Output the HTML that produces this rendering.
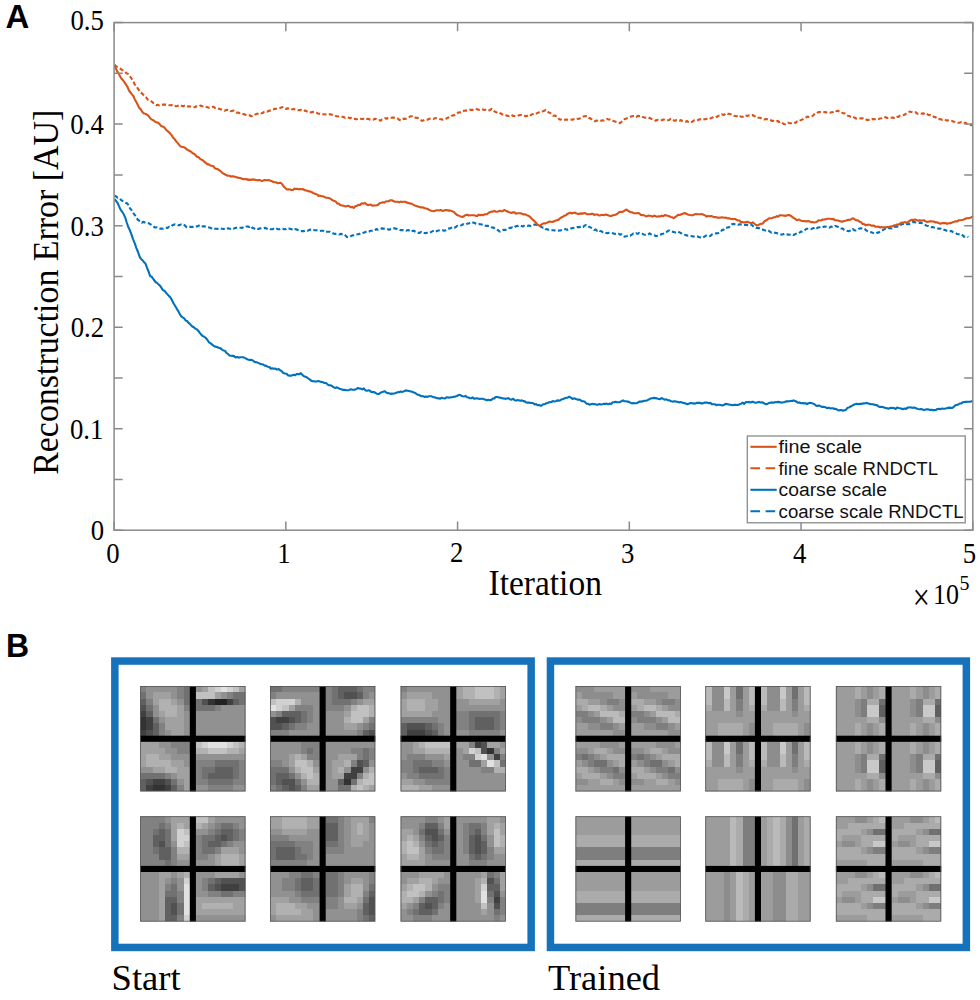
<!DOCTYPE html>
<html><head><meta charset="utf-8"><title>Figure</title>
<style>html,body{margin:0;padding:0;background:#fff;width:980px;height:1000px;overflow:hidden}svg{display:block}</style>
</head><body>
<svg width="980" height="1000" viewBox="0 0 980 1000"><defs><filter id="pblur" x="-5%" y="-5%" width="110%" height="110%"><feGaussianBlur stdDeviation="0.5"/></filter><clipPath id="cp0"><rect x="140.20" y="686.10" width="105.30" height="105.30"/></clipPath><clipPath id="cp1"><rect x="270.00" y="686.10" width="105.30" height="105.30"/></clipPath><clipPath id="cp2"><rect x="400.60" y="686.10" width="105.30" height="105.30"/></clipPath><clipPath id="cp3"><rect x="140.20" y="816.30" width="105.30" height="105.30"/></clipPath><clipPath id="cp4"><rect x="270.00" y="816.30" width="105.30" height="105.30"/></clipPath><clipPath id="cp5"><rect x="400.60" y="816.30" width="105.30" height="105.30"/></clipPath><clipPath id="cp6"><rect x="575.50" y="686.10" width="105.30" height="105.30"/></clipPath><clipPath id="cp7"><rect x="705.30" y="686.10" width="105.30" height="105.30"/></clipPath><clipPath id="cp8"><rect x="835.90" y="686.10" width="105.30" height="105.30"/></clipPath><clipPath id="cp9"><rect x="575.50" y="816.30" width="105.30" height="105.30"/></clipPath><clipPath id="cp10"><rect x="705.30" y="816.30" width="105.30" height="105.30"/></clipPath><clipPath id="cp11"><rect x="835.90" y="816.30" width="105.30" height="105.30"/></clipPath></defs><text transform="translate(5.60,27.60) scale(1.030,1.050)" font-family="Liberation Sans, sans-serif" font-weight="bold" font-size="32">A</text>
<text transform="translate(6.10,656.75) scale(1.000,1.050)" font-family="Liberation Sans, sans-serif" font-weight="bold" font-size="32">B</text>
<defs><clipPath id="pc"><rect x="114.1" y="22.6" width="859.7" height="507.6"/></clipPath></defs>
<g clip-path="url(#pc)" fill="none" stroke-width="2.1" stroke-linejoin="round">
<path d="M114.5,64.6 116.0,66.3 117.5,67.1 119.0,68.2 120.5,68.8 122.0,69.9 123.5,70.3 125.0,71.4 126.5,73.3 128.0,73.9 129.6,75.8 131.2,78.0 132.8,80.4 134.4,83.8 136.0,86.2 137.6,88.2 139.2,90.6 140.6,92.7 142.1,93.5 143.5,95.0 144.9,96.6 146.3,97.6 147.8,99.6 149.2,99.8 150.6,100.8 152.0,101.8 153.5,103.3 154.9,104.5 156.3,105.3 157.7,104.8 159.1,105.4 160.5,104.8 161.9,104.9 163.3,104.6 164.7,104.5 166.1,104.6 167.5,104.8 168.9,105.1 170.3,105.2 171.7,105.1 173.1,106.0 174.5,105.7 175.9,106.3 177.3,105.9 178.7,105.4 180.2,105.0 181.6,105.7 183.1,106.4 184.5,105.7 185.9,106.5 187.4,106.5 188.8,106.3 190.3,106.5 191.7,107.0 193.1,107.2 194.6,107.3 196.0,106.3 197.5,106.8 198.9,106.6 200.3,105.6 201.8,106.1 203.2,106.3 204.7,106.1 206.1,106.8 207.5,107.3 209.0,107.7 210.4,107.6 211.9,107.3 213.3,106.7 214.9,107.9 216.5,107.9 218.1,108.5 219.7,109.1 221.3,109.4 222.9,109.8 224.5,110.8 226.0,110.1 227.5,109.7 229.0,110.2 230.5,111.1 232.0,111.0 233.5,110.5 235.0,111.5 236.5,112.6 238.0,112.6 239.5,113.0 241.0,113.4 242.5,114.0 244.0,114.1 245.5,114.8 247.0,115.6 248.4,115.4 249.9,115.4 251.3,116.3 252.7,115.8 254.2,115.4 255.6,114.2 257.1,113.8 258.5,113.4 259.9,112.8 261.4,113.3 262.8,112.9 264.2,111.7 265.7,111.7 267.1,111.7 268.6,110.9 270.1,110.6 271.6,109.9 273.1,109.5 274.6,108.9 276.1,108.8 277.6,108.6 279.1,108.2 280.6,107.8 282.0,107.3 283.5,106.9 284.9,108.1 286.4,109.0 287.8,108.3 289.3,109.0 290.7,108.8 292.1,109.3 293.6,108.9 295.0,109.5 296.5,110.1 297.9,110.3 299.4,110.1 300.8,109.9 302.3,110.9 303.8,111.1 305.2,110.5 306.7,111.4 308.2,111.4 309.7,111.7 311.1,112.5 312.6,111.9 314.1,112.2 315.6,112.7 317.0,112.8 318.5,113.8 320.0,113.7 321.5,114.3 323.0,114.2 324.5,114.2 326.0,114.6 327.5,114.9 329.0,114.4 330.5,114.2 331.9,114.8 333.4,115.2 334.9,115.5 336.4,116.3 337.9,116.5 339.4,116.2 340.9,116.6 342.4,116.8 343.8,117.1 345.2,117.7 346.6,117.1 348.1,117.6 349.5,118.1 350.9,117.9 352.3,118.9 353.7,119.0 355.1,118.7 356.5,119.4 358.0,118.8 359.4,118.4 360.8,118.8 362.2,119.0 363.6,118.7 365.0,118.5 366.5,119.1 367.9,118.7 369.3,119.4 370.7,119.7 372.1,119.8 373.5,119.6 374.9,118.7 376.4,119.3 377.8,120.3 379.2,120.1 380.6,120.7 382.1,119.3 383.6,119.0 385.1,118.2 386.6,118.7 388.0,118.0 389.5,117.5 391.0,117.7 392.5,117.6 394.0,117.6 395.7,117.7 397.4,118.3 399.1,119.7 400.8,120.5 402.4,119.3 404.0,118.6 405.6,118.9 407.2,118.1 408.8,117.3 410.4,116.3 412.0,116.3 413.4,117.5 414.8,117.6 416.2,117.7 417.6,117.9 419.1,118.7 420.5,119.7 421.9,120.8 423.3,120.5 424.8,119.8 426.3,119.8 427.8,119.6 429.3,118.8 430.7,118.4 432.2,118.4 433.7,118.9 435.2,118.1 436.7,118.2 438.2,118.6 439.7,119.1 441.2,119.3 442.7,119.6 444.2,119.2 445.7,119.2 447.1,117.9 448.5,117.5 449.9,117.3 451.4,115.9 452.8,115.4 454.2,115.2 455.6,114.2 457.0,113.3 458.4,112.5 459.9,112.4 461.3,112.5 462.7,111.2 464.2,110.8 465.6,110.6 467.1,110.4 468.5,110.3 469.9,109.8 471.4,109.9 472.8,109.9 474.2,109.7 475.7,108.9 477.1,109.2 478.5,109.8 480.0,109.9 481.4,109.3 482.8,109.4 484.3,110.0 485.7,109.9 487.2,110.7 488.6,110.5 490.0,110.1 491.5,108.9 492.9,109.6 494.5,111.4 496.1,112.2 497.7,113.1 499.2,112.6 500.8,113.5 502.4,114.4 504.0,115.2 505.5,115.0 507.0,115.8 508.5,116.0 510.0,115.4 511.5,114.7 513.0,116.0 514.5,116.0 516.0,116.1 517.5,116.0 519.0,115.3 520.5,115.0 522.0,115.0 523.6,115.6 525.2,116.1 526.8,116.1 528.4,115.0 530.0,115.8 531.4,114.6 532.9,114.0 534.3,113.4 535.7,113.8 537.1,113.1 538.6,112.5 540.0,112.2 541.4,112.2 542.8,111.3 544.3,110.8 545.7,110.0 547.2,111.2 548.7,112.5 550.2,112.8 551.7,114.6 553.2,115.7 554.7,115.5 556.2,116.3 557.7,117.1 559.2,119.3 560.6,119.6 562.1,119.1 563.5,119.9 564.9,119.8 566.3,119.6 567.8,119.8 569.2,119.9 570.6,119.6 572.0,119.7 573.5,119.2 574.9,119.7 576.3,119.8 577.7,118.9 579.1,118.8 580.5,118.1 581.9,117.5 583.3,116.5 584.7,116.2 586.1,116.0 587.6,116.4 589.1,118.1 590.6,118.4 592.1,119.9 593.6,120.6 595.1,121.4 596.6,120.5 598.1,121.1 599.6,120.8 601.1,120.7 602.6,120.3 604.1,120.5 605.6,119.7 607.1,119.0 608.6,119.5 610.2,119.5 611.8,120.7 613.4,121.1 615.0,121.5 616.6,122.0 618.2,122.3 619.8,123.2 621.3,122.1 622.8,120.8 624.3,119.3 625.8,118.7 627.3,118.1 628.8,117.5 630.3,116.8 631.8,116.2 633.3,116.0 634.8,116.0 636.3,116.9 637.8,115.9 639.3,116.1 640.8,115.9 642.3,116.7 643.8,117.3 645.3,117.7 646.8,117.6 648.2,117.3 649.7,118.0 651.2,118.8 652.7,119.5 654.2,119.9 655.7,120.7 657.2,119.9 658.7,120.1 660.2,120.3 661.7,120.2 663.2,119.5 664.7,119.7 666.2,120.2 667.7,120.3 669.2,119.9 670.7,118.8 672.2,119.3 673.7,120.4 675.2,120.7 676.7,120.0 678.2,120.3 679.7,120.7 681.1,120.0 682.6,121.2 684.1,121.7 685.6,121.8 687.1,121.0 688.6,122.3 690.1,122.5 691.6,122.1 693.1,121.0 694.6,120.3 696.1,120.5 697.6,120.2 699.1,119.4 700.6,119.3 702.1,119.6 703.6,119.4 705.1,119.3 706.6,118.8 708.1,118.3 709.6,118.9 711.1,118.1 712.6,117.6 714.1,116.8 715.6,117.3 717.1,116.7 718.6,115.7 720.1,115.2 721.6,114.3 723.1,114.9 724.6,114.6 726.1,113.2 727.6,113.8 729.2,113.9 730.8,114.2 732.4,114.9 734.0,115.7 735.6,116.1 737.2,116.2 738.8,117.3 740.2,116.5 741.6,116.8 743.0,116.8 744.4,115.5 745.8,115.4 747.2,116.1 748.6,115.3 750.0,115.4 751.4,115.5 752.9,115.1 754.3,116.1 755.8,116.2 757.2,117.5 758.7,117.7 760.1,117.7 761.6,118.5 763.0,119.3 764.5,119.5 765.9,119.1 767.4,119.3 768.8,119.4 770.3,119.9 771.8,120.9 773.3,120.8 774.8,121.4 776.3,121.2 777.7,120.9 779.2,122.1 780.7,121.7 782.2,122.8 783.7,124.0 785.2,124.3 786.7,123.7 788.1,122.7 789.6,123.3 791.0,123.2 792.5,122.6 794.0,122.2 795.4,122.9 796.9,121.5 798.4,121.7 799.9,120.6 801.4,119.9 802.9,119.2 804.4,118.1 805.9,117.6 807.4,116.6 808.9,117.0 810.4,116.7 811.9,116.1 813.4,115.4 814.8,113.5 816.2,113.5 817.6,112.5 819.0,112.1 820.4,112.1 822.0,112.4 823.5,112.3 825.1,112.0 826.7,112.6 828.2,113.1 829.8,112.9 831.4,112.2 833.1,112.0 834.7,110.8 836.4,111.3 838.0,110.7 839.6,111.9 841.3,112.0 842.9,113.3 844.6,113.3 846.2,114.8 847.8,115.7 849.3,116.1 850.9,116.8 852.5,116.4 854.0,117.3 855.6,118.4 857.0,118.7 858.4,118.7 859.8,118.5 861.2,118.4 862.7,118.3 864.1,119.0 865.5,119.0 866.9,120.0 868.3,119.9 869.7,119.4 871.2,120.0 872.6,119.1 874.1,119.1 875.5,119.2 877.0,118.9 878.5,119.1 879.9,118.5 881.4,118.3 882.8,117.6 884.2,117.0 885.6,117.3 887.0,118.0 888.5,117.9 889.9,117.8 891.3,117.8 892.7,117.5 894.1,118.0 895.5,118.2 896.9,116.9 898.3,116.9 899.7,115.8 901.1,115.3 902.5,115.3 904.0,115.0 905.4,114.1 906.8,113.1 908.2,112.3 909.6,111.6 911.2,112.0 912.7,112.4 914.3,112.7 915.9,112.3 917.4,113.8 919.0,113.7 920.6,113.4 922.1,113.6 923.7,113.4 925.3,114.4 926.8,113.8 928.4,115.0 929.8,115.1 931.2,115.5 932.6,115.8 934.0,117.0 935.4,117.1 936.8,118.1 938.2,119.2 939.6,119.1 941.0,119.3 942.4,120.0 943.8,119.7 945.2,119.9 946.6,120.5 948.0,120.4 949.5,120.5 950.9,120.7 952.3,121.1 953.7,121.8 955.1,121.8 956.5,122.2 958.0,122.7 959.5,122.7 960.9,122.2 962.4,123.1 963.9,123.1 965.3,122.7 966.8,123.7 968.3,124.1 969.7,124.5 971.1,125.2 972.5,124.5" stroke="#D95319" stroke-dasharray="4.2 2.4"/>
<path d="M114.6,195.7 116.1,196.4 117.7,197.8 119.2,197.8 120.7,199.6 122.3,200.8 123.8,201.8 125.3,202.7 126.9,203.3 128.4,204.9 129.9,208.1 131.5,210.1 133.0,212.7 134.5,214.7 136.1,216.8 137.6,219.6 139.0,220.5 140.5,221.4 141.9,222.7 143.3,221.8 144.8,222.5 146.2,222.8 147.7,223.0 149.1,223.4 150.6,224.4 152.2,225.5 153.7,226.7 155.2,227.5 156.8,227.4 158.3,228.4 159.8,228.6 161.4,228.6 162.9,228.7 164.4,228.0 166.0,227.8 167.5,227.9 169.0,226.7 170.6,227.0 172.1,225.6 173.6,224.7 175.2,224.4 176.7,224.5 178.1,225.3 179.6,225.1 181.0,224.5 182.4,225.1 183.9,224.7 185.3,225.9 186.8,227.3 188.2,227.0 189.6,226.9 191.1,226.8 192.5,227.0 193.9,226.4 195.4,226.4 196.8,226.4 198.3,225.9 199.7,225.0 201.2,225.3 202.7,226.4 204.3,226.2 205.8,226.7 207.3,227.1 208.8,227.4 210.4,227.8 211.9,228.6 213.4,229.2 214.9,228.8 216.3,228.7 217.8,228.9 219.3,229.1 220.7,228.5 222.2,228.8 223.6,229.0 225.1,228.3 226.6,228.9 228.0,228.3 229.5,228.7 230.9,228.7 232.3,227.9 233.7,228.6 235.2,228.1 236.6,227.7 238.0,227.6 239.4,227.7 240.8,227.7 242.2,227.9 243.7,227.1 245.1,227.2 246.5,226.5 247.9,226.5 249.3,227.0 250.8,226.1 252.2,227.7 253.7,228.2 255.1,229.2 256.5,228.5 258.0,228.9 259.4,228.6 260.8,228.3 262.3,228.0 263.7,228.1 265.1,227.9 266.6,228.5 268.0,229.3 269.5,228.8 270.9,229.3 272.4,229.2 273.8,228.9 275.3,229.5 276.8,228.8 278.2,229.2 279.7,229.2 281.1,228.6 282.6,228.6 284.1,229.3 285.5,229.3 287.0,228.1 288.5,228.6 290.1,228.7 291.6,229.3 293.1,229.9 294.7,229.1 296.2,229.2 297.7,230.0 299.3,230.6 300.8,231.3 302.2,231.0 303.7,231.3 305.1,230.6 306.6,230.2 308.0,230.7 309.4,229.9 310.9,229.6 312.3,230.0 313.8,230.1 315.2,230.2 316.7,230.2 318.2,230.6 319.6,231.0 321.1,230.8 322.5,230.8 324.0,231.0 325.5,232.0 326.9,231.8 328.4,231.8 330.1,231.8 331.8,232.8 333.5,233.5 335.0,233.9 336.5,233.7 338.0,234.1 339.5,234.5 341.0,233.8 342.5,234.5 344.0,234.2 345.5,235.5 347.0,237.0 348.5,237.3 350.0,236.8 351.5,235.7 353.0,235.4 354.5,234.6 355.9,234.5 357.4,234.3 358.9,234.2 360.4,233.3 361.9,233.6 363.4,232.8 364.9,232.3 366.3,231.7 367.8,232.1 369.2,231.5 370.6,230.7 372.0,230.8 373.5,230.4 374.9,230.5 376.3,229.0 377.7,229.7 379.2,229.0 380.6,228.7 382.1,228.4 383.5,228.6 385.0,228.6 386.4,229.0 387.9,229.3 389.3,229.8 390.8,229.0 392.2,228.5 393.7,228.3 395.1,228.4 396.6,228.8 398.0,229.7 399.5,229.7 400.9,230.3 402.4,230.0 403.8,230.4 405.3,230.0 406.7,230.6 408.2,230.0 409.6,230.8 411.1,231.7 412.5,230.9 414.0,230.7 415.4,231.8 416.8,232.0 418.3,232.7 419.7,232.9 421.2,231.9 422.6,232.8 424.1,233.0 425.5,233.1 426.9,232.8 428.4,232.3 429.8,232.7 431.3,232.0 432.7,231.0 434.2,231.0 435.6,231.9 437.0,231.0 438.5,230.5 439.9,230.3 441.4,230.5 442.8,230.3 444.3,230.7 445.7,230.2 447.2,229.0 448.6,228.6 450.1,228.4 451.5,227.7 453.0,227.2 454.4,227.7 455.9,227.0 457.3,225.7 458.8,226.0 460.2,225.8 461.7,225.1 463.1,224.2 464.6,224.7 466.0,224.5 467.5,223.5 468.9,223.5 470.4,222.4 471.8,222.6 473.3,222.6 474.7,223.0 476.1,223.7 477.5,224.2 479.0,224.1 480.4,224.3 481.8,224.5 483.2,224.5 484.7,225.5 486.1,225.9 487.6,225.8 489.1,226.1 490.6,226.7 492.1,227.5 493.6,227.6 495.1,229.1 496.6,229.4 498.1,230.2 499.6,231.6 501.0,230.9 502.5,230.2 503.9,229.7 505.3,230.0 506.7,229.3 508.2,228.5 509.6,227.9 511.0,227.9 512.4,227.3 513.9,227.8 515.3,226.6 516.8,226.1 518.3,225.9 519.8,225.4 521.3,225.9 522.8,226.5 524.3,225.8 525.8,225.9 527.3,225.9 528.8,225.5 530.3,226.0 531.8,225.5 533.3,224.8 534.9,224.5 536.5,224.7 538.0,225.7 539.6,226.1 541.2,226.8 542.6,227.6 544.1,227.6 545.5,229.1 546.9,229.1 548.4,229.8 549.8,229.5 551.3,230.2 552.7,230.2 554.1,230.3 555.6,230.8 557.0,230.9 558.5,230.6 559.9,230.5 561.4,230.2 562.8,230.3 564.3,229.5 565.7,229.1 567.2,229.9 568.6,229.3 570.1,228.9 571.5,228.3 573.0,228.0 574.5,227.8 575.9,227.9 577.4,227.1 578.8,227.1 580.3,226.9 581.7,226.4 583.2,227.0 584.6,225.6 586.1,225.0 587.7,225.2 589.3,227.1 590.9,227.6 592.5,228.4 594.1,229.9 595.7,229.4 597.3,230.9 598.7,230.2 600.1,231.0 601.6,231.3 603.0,232.3 604.4,232.0 605.8,232.8 607.2,233.2 608.7,232.9 610.1,233.1 611.5,233.0 612.9,233.3 614.4,233.9 615.8,233.9 617.2,234.0 618.6,233.7 620.0,234.7 621.5,234.3 622.9,235.6 624.3,236.6 625.8,236.3 627.3,235.9 628.8,235.3 630.3,235.6 631.8,234.6 633.2,233.6 634.7,234.0 636.2,233.3 637.7,233.9 639.2,232.9 640.7,233.6 642.2,233.7 643.7,234.4 645.2,234.8 646.7,234.1 648.2,234.2 649.7,233.4 651.2,234.5 652.7,235.1 654.2,235.2 655.7,236.1 657.2,235.8 658.7,235.4 660.2,234.9 661.7,234.0 663.2,233.7 664.7,232.6 666.2,232.3 667.7,231.1 669.2,230.6 670.7,231.6 672.2,231.7 673.7,231.9 675.2,232.5 676.7,232.2 678.2,231.8 679.6,232.4 681.1,233.2 682.6,234.0 684.1,234.7 685.6,235.0 687.1,235.6 688.5,235.5 690.0,235.7 691.4,236.0 692.8,236.5 694.3,236.4 695.7,236.2 697.2,236.3 698.6,237.0 700.0,237.2 701.5,238.0 702.9,237.4 704.4,236.8 705.9,235.6 707.4,236.0 708.9,236.4 710.4,235.9 711.8,234.6 713.3,234.2 714.8,233.6 716.3,233.4 717.8,233.2 719.3,232.6 720.8,231.9 722.2,229.9 723.6,229.7 725.0,228.2 726.4,227.8 727.8,227.4 729.2,227.2 730.6,225.3 732.0,224.2 733.5,223.9 735.0,224.2 736.5,224.2 738.0,224.9 739.5,224.2 741.0,224.6 742.5,225.1 744.0,225.0 745.5,224.7 747.0,224.9 748.5,225.2 750.0,224.4 751.5,224.6 752.9,226.1 754.4,226.4 755.9,227.6 757.3,227.9 758.8,228.1 760.2,228.5 761.7,229.6 763.1,229.6 764.5,230.2 765.9,230.6 767.3,230.1 768.8,230.7 770.2,231.9 771.6,232.7 773.0,232.2 774.4,232.6 775.8,232.9 777.2,233.2 778.7,233.7 780.1,234.1 781.6,234.6 783.0,234.3 784.5,233.6 785.9,234.2 787.4,234.4 788.8,234.7 790.3,234.5 791.7,234.1 793.2,234.9 794.6,234.6 796.1,233.7 797.6,233.8 799.1,233.3 800.6,231.6 802.1,231.6 803.5,230.9 805.0,230.0 806.5,228.7 808.0,228.8 809.5,228.8 811.0,229.1 812.4,228.5 813.8,228.1 815.2,227.2 816.6,228.2 818.0,227.5 819.5,227.2 820.9,226.7 822.3,227.4 823.7,226.8 825.1,226.5 826.6,226.8 828.0,226.9 829.5,227.6 831.0,226.5 832.4,227.0 833.9,226.9 835.3,225.9 836.8,226.4 838.3,226.9 839.8,227.6 841.2,228.5 842.7,228.5 844.2,230.0 845.6,230.3 847.1,230.8 848.6,231.1 850.0,230.8 851.4,230.5 852.8,229.1 854.2,230.2 855.7,230.5 857.1,230.1 858.5,229.0 859.9,228.4 861.3,228.4 862.7,228.2 864.2,228.5 865.6,229.8 867.1,230.9 868.5,231.3 870.0,232.3 871.5,232.3 872.9,232.9 874.4,233.5 875.9,233.5 877.3,232.6 878.8,232.6 880.2,231.3 881.7,230.3 883.2,230.0 884.6,229.0 886.1,228.9 887.5,229.0 888.9,228.1 890.3,228.2 891.7,228.4 893.2,227.3 894.6,227.0 896.0,226.6 897.4,226.7 898.8,225.6 900.2,225.5 901.6,224.2 903.0,224.0 904.4,223.3 905.8,223.8 907.2,224.1 908.7,224.2 910.1,223.5 911.5,222.7 912.9,222.0 914.3,222.1 915.7,222.5 917.1,222.6 918.5,222.6 919.9,223.0 921.3,222.9 922.8,223.7 924.2,224.5 925.6,225.2 927.0,225.7 928.4,226.0 929.8,226.7 931.2,227.2 932.6,227.0 934.0,227.5 935.4,227.9 936.8,228.1 938.2,228.6 939.6,228.5 941.0,228.8 942.4,229.9 943.9,229.8 945.4,230.0 946.8,230.8 948.3,231.1 949.8,231.3 951.2,231.0 952.7,231.9 954.2,232.6 955.6,232.9 957.0,234.0 958.4,234.2 959.8,234.1 961.2,234.2 962.7,235.3 964.1,236.7 965.5,236.5 966.9,236.3 968.3,237.2" stroke="#0072BD" stroke-dasharray="4.2 2.4"/>
<path d="M114.6,199.2 116.1,201.0 117.7,203.2 119.2,206.6 120.7,209.8 122.3,212.0 123.8,214.3 125.3,217.8 126.9,223.0 128.4,227.3 129.9,230.3 131.5,234.6 133.0,239.1 134.7,243.1 136.4,248.1 138.2,252.5 139.9,257.3 141.3,259.2 142.8,260.6 144.2,262.3 145.6,263.9 147.1,268.0 148.7,271.8 150.2,276.2 151.6,276.6 153.0,278.7 154.4,280.5 155.8,282.3 157.3,283.1 158.7,284.6 160.1,285.8 161.5,287.9 162.9,290.1 164.4,290.7 166.0,292.7 167.5,294.4 169.0,296.0 170.6,297.7 172.1,300.5 173.6,303.5 175.2,306.0 176.7,308.6 178.2,311.0 179.8,314.0 181.3,316.4 182.7,317.4 184.2,318.3 185.6,320.5 187.1,321.0 188.5,322.8 189.9,323.9 191.4,325.7 192.8,326.8 194.2,327.5 195.7,328.9 197.1,329.5 198.6,331.2 200.0,333.2 201.4,334.9 202.9,336.1 204.3,336.7 205.8,338.0 207.3,339.7 208.9,342.3 210.4,343.1 211.9,344.4 213.4,345.6 215.1,346.6 216.9,347.0 218.6,347.8 220.3,348.1 221.8,349.4 223.4,350.5 224.9,350.7 226.4,352.9 228.0,354.0 229.5,355.4 231.0,355.8 232.6,355.9 234.1,356.1 235.6,357.4 237.2,356.9 238.7,357.6 240.2,357.3 241.8,357.3 243.3,357.3 244.8,357.9 246.4,358.8 247.9,359.6 249.4,360.0 251.0,359.9 252.5,360.2 254.0,361.5 255.6,362.3 257.1,362.4 258.6,363.1 260.2,363.9 261.7,364.2 263.2,364.6 264.8,365.6 266.3,365.9 267.8,366.8 269.4,367.0 270.9,368.7 272.4,368.3 274.0,368.8 275.5,368.6 277.0,369.6 278.6,368.9 280.1,370.3 281.7,371.1 283.3,373.0 285.0,373.5 286.6,373.8 288.2,375.5 289.6,375.6 291.0,375.8 292.4,375.2 293.8,374.8 295.2,375.3 296.6,374.0 298.0,374.1 299.4,374.2 300.8,373.2 302.3,374.7 303.9,376.2 305.4,376.8 306.9,377.4 308.5,378.7 310.0,379.6 311.5,380.9 313.1,381.2 314.6,381.4 316.4,381.5 318.2,381.0 320.0,381.6 321.5,381.9 323.0,382.3 324.5,383.0 326.0,383.0 327.5,384.3 329.0,385.3 330.5,385.3 332.0,386.0 333.5,387.1 334.9,387.9 336.4,387.4 337.8,387.7 339.3,388.7 340.7,389.0 342.2,389.6 343.6,389.9 345.0,389.9 346.5,390.2 347.9,390.3 349.4,389.9 350.8,389.2 352.3,389.8 353.7,389.7 355.1,389.6 356.6,388.9 358.0,388.0 359.5,388.6 360.9,388.6 362.4,389.4 363.8,388.4 365.3,390.2 366.8,390.8 368.3,390.4 369.8,390.5 371.2,392.0 372.7,392.1 374.2,392.1 375.7,393.0 377.2,394.0 378.7,394.0 380.1,393.1 381.6,392.2 383.1,391.8 384.6,391.2 386.1,392.3 387.5,393.1 389.0,393.3 390.5,393.9 391.9,393.6 393.4,393.7 394.9,393.3 396.4,392.8 397.9,392.1 399.3,392.2 400.8,391.5 402.5,391.9 404.2,391.1 405.8,390.4 407.5,390.7 409.2,391.0 410.7,391.4 412.2,391.8 413.8,392.5 415.3,393.0 416.8,394.3 418.3,394.8 419.8,395.3 421.4,396.3 422.9,396.0 424.4,397.0 425.8,396.4 427.3,396.9 428.7,396.3 430.2,396.3 431.6,396.3 433.1,397.2 434.5,397.2 435.9,397.9 437.4,398.2 438.8,398.4 440.3,398.6 441.7,397.7 443.2,398.3 444.6,398.5 446.1,397.6 447.7,397.3 449.2,397.7 450.7,397.2 452.2,397.3 453.8,396.7 455.3,396.6 456.8,396.0 458.3,395.2 459.9,394.8 461.4,395.8 462.8,396.2 464.2,396.5 465.7,395.9 467.1,397.2 468.5,397.5 469.9,398.2 471.3,398.2 472.8,397.4 474.2,398.8 475.6,398.4 477.0,398.3 478.5,398.7 479.9,398.9 481.3,398.8 482.7,398.7 484.1,399.3 485.6,399.7 487.0,400.4 488.4,399.8 489.8,400.2 491.3,399.9 492.7,398.6 494.2,398.5 495.6,397.0 497.1,397.0 498.5,397.3 500.0,397.7 501.4,397.9 502.9,398.4 504.4,398.5 505.8,398.9 507.3,398.3 508.8,398.4 510.2,399.5 511.7,399.6 513.2,398.8 514.7,400.2 516.1,400.6 517.6,400.0 519.1,400.4 520.5,400.7 522.0,400.4 523.4,401.1 524.8,401.4 526.2,402.5 527.6,402.6 529.0,402.5 530.5,402.9 531.9,403.0 533.3,403.2 534.7,404.5 536.1,404.1 537.5,405.3 538.9,405.0 540.3,405.6 541.7,405.6 543.1,404.3 544.5,404.3 545.9,403.4 547.3,403.1 548.7,402.6 550.1,402.1 551.5,402.0 552.9,401.1 554.3,401.5 555.7,401.3 557.2,400.4 558.7,400.6 560.2,400.4 561.7,399.2 563.2,399.1 564.7,398.2 566.2,397.8 567.7,397.6 569.2,396.7 570.9,397.6 572.5,398.9 574.2,398.3 575.9,398.9 577.4,399.6 578.9,399.6 580.4,400.1 581.9,401.2 583.4,401.3 584.9,401.8 586.4,403.6 587.9,403.7 589.4,404.6 590.8,404.4 592.3,403.8 593.7,404.2 595.2,404.1 596.6,404.7 598.1,404.6 599.5,404.0 600.9,404.5 602.4,404.2 603.8,403.8 605.3,404.1 606.7,403.6 608.2,404.2 609.6,403.6 611.1,404.1 612.6,402.3 614.1,402.3 615.6,401.8 617.0,402.3 618.5,402.2 620.0,402.2 621.5,401.2 623.0,400.4 624.5,401.3 626.0,401.3 627.5,401.6 629.0,401.9 630.5,402.8 632.0,403.4 633.5,403.1 635.0,403.2 636.5,403.2 638.0,402.5 639.4,401.6 640.9,401.6 642.3,401.4 643.8,400.9 645.2,400.7 646.6,400.7 648.1,399.8 649.5,399.1 651.0,398.4 652.4,398.2 653.9,397.9 655.4,398.1 657.0,398.4 658.5,399.0 660.1,399.1 661.6,398.0 663.2,398.9 664.7,399.7 666.3,399.3 667.8,400.2 669.5,400.4 671.2,401.2 673.0,401.6 674.7,401.2 676.1,401.6 677.6,401.7 679.0,402.4 680.5,402.0 681.9,402.4 683.4,403.0 684.8,403.1 686.2,403.9 687.7,404.2 689.1,403.6 690.6,403.1 692.0,403.2 693.5,403.4 695.1,403.6 696.6,402.9 698.2,402.9 699.7,402.8 701.3,403.4 702.8,403.4 704.4,402.6 705.9,402.5 707.4,402.6 708.9,403.2 710.4,402.9 711.8,404.1 713.3,404.3 714.8,404.3 716.3,405.1 717.8,404.8 719.2,404.8 720.7,405.0 722.2,405.5 723.6,405.1 725.1,404.1 726.5,403.9 728.0,404.3 729.5,404.7 730.9,404.8 732.4,405.3 733.9,404.9 735.3,404.8 736.8,405.0 738.2,404.9 739.7,404.2 741.2,403.6 742.6,402.6 744.1,403.9 745.9,402.1 747.6,402.2 749.0,401.9 750.5,402.4 751.9,401.9 753.4,401.9 754.8,402.7 756.2,402.7 757.7,402.3 759.1,401.9 760.6,402.6 762.0,402.2 763.5,403.0 764.9,403.8 766.3,404.3 767.8,403.7 769.2,402.8 770.6,402.7 772.0,402.4 773.5,402.8 774.9,402.1 776.3,402.2 777.8,401.9 779.2,402.1 780.6,402.4 782.1,402.6 783.5,402.2 784.9,402.0 786.3,401.2 787.8,401.4 789.2,401.2 790.7,401.0 792.2,400.9 793.7,400.4 795.1,401.0 796.6,401.7 798.1,402.8 799.6,402.4 801.1,403.3 802.6,403.1 804.1,403.4 805.5,403.2 807.0,404.0 808.5,403.2 810.0,402.9 811.5,403.0 813.0,403.6 814.5,404.3 815.9,405.6 817.4,405.9 818.9,405.4 820.4,406.1 821.8,406.9 823.2,406.9 824.6,407.0 826.0,407.5 827.5,408.2 828.9,407.6 830.3,408.4 831.7,408.3 833.1,408.3 834.5,409.0 835.9,408.8 837.4,409.9 838.8,410.5 840.2,410.1 841.6,410.0 843.0,410.8 844.5,410.3 846.0,409.7 847.5,407.8 849.0,407.4 850.6,406.5 852.1,405.7 853.6,404.8 855.1,404.2 856.6,403.8 858.1,404.2 859.6,403.7 861.0,404.1 862.5,403.6 864.0,403.4 865.5,403.2 866.9,402.9 868.4,403.4 869.8,403.9 871.2,404.2 872.6,404.3 874.1,404.6 875.5,405.1 876.9,405.1 878.4,406.4 879.8,407.0 881.2,406.7 882.7,407.0 884.1,407.5 885.5,408.0 886.9,408.1 888.4,408.8 889.8,408.1 891.3,407.8 892.8,408.0 894.3,408.1 895.7,409.0 897.2,407.6 898.7,408.0 900.2,408.2 901.7,408.9 903.2,409.1 904.7,408.6 906.1,408.9 907.6,407.6 909.1,407.5 910.6,407.3 912.1,407.9 913.6,407.5 915.1,407.8 916.6,408.6 918.1,409.0 919.6,409.3 921.0,409.1 922.5,409.4 924.0,410.1 925.5,409.5 927.0,409.4 928.5,409.4 930.0,409.9 931.5,409.9 933.0,410.1 934.5,410.1 936.0,409.9 937.4,409.0 938.9,408.9 940.4,409.1 941.9,408.5 943.4,408.7 944.9,408.6 946.4,408.3 947.8,407.9 949.3,407.6 950.8,407.9 952.3,407.9 953.8,406.9 955.3,405.3 956.8,404.9 958.2,404.5 959.7,403.5 961.2,403.4 962.7,402.3 964.2,402.0 965.7,401.9 967.2,401.8 968.6,401.8 970.1,401.7 971.6,401.2 973.1,401.6" stroke="#0072BD"/>
<path d="M114.5,65.7 116.0,68.8 117.4,71.7 118.9,73.9 120.3,76.7 121.8,79.1 123.2,80.5 124.7,82.6 126.1,84.8 127.6,87.1 129.0,90.5 130.5,92.5 131.9,94.4 133.4,96.0 134.8,99.4 136.3,102.1 137.7,104.7 139.2,107.9 140.6,109.1 142.0,111.3 143.4,113.2 144.8,113.6 146.2,114.2 147.6,115.1 149.0,116.5 150.4,118.5 151.9,119.6 153.4,120.2 154.9,121.6 156.4,122.2 157.9,122.6 159.4,123.9 160.9,125.7 162.4,126.5 163.9,127.0 165.4,128.8 166.9,130.6 168.4,131.7 170.0,133.3 171.6,135.1 173.2,137.7 174.8,139.3 176.4,141.6 178.0,143.4 179.6,145.4 181.1,146.8 182.5,147.0 184.0,147.2 185.4,148.1 186.9,149.4 188.3,150.3 189.8,151.0 191.2,151.8 192.7,153.2 194.1,153.8 195.6,155.3 197.0,156.8 198.5,157.1 199.9,158.7 201.4,159.6 202.8,160.3 204.3,161.8 205.8,162.9 207.3,164.1 208.8,164.4 210.3,165.4 211.8,165.8 213.3,166.1 214.8,168.2 216.2,168.8 217.7,169.1 219.2,170.1 220.7,171.3 222.2,172.8 223.7,173.7 225.2,174.5 226.7,175.4 228.1,175.7 229.5,175.7 230.9,176.6 232.3,176.2 233.7,176.4 235.1,176.8 236.5,177.4 237.9,177.6 239.4,178.0 240.8,178.1 242.2,178.9 243.6,179.1 245.0,179.3 246.4,178.9 247.8,179.9 249.2,179.6 250.6,179.9 252.1,179.4 253.5,179.6 254.9,179.6 256.3,180.2 257.8,180.1 259.2,180.1 260.6,180.3 262.0,181.1 263.5,180.4 264.9,180.1 266.3,180.2 267.8,180.1 269.2,180.2 270.6,180.8 272.0,181.2 273.5,182.0 274.9,182.3 276.3,182.3 277.7,183.3 279.2,183.0 280.6,182.8 282.3,184.3 284.0,186.8 285.6,188.2 287.3,189.6 288.7,189.2 290.2,189.6 291.6,190.0 293.0,189.9 294.4,188.6 295.9,189.1 297.3,188.7 298.7,189.2 300.1,189.0 301.6,189.2 303.0,189.1 304.4,190.0 305.8,190.5 307.2,190.6 308.7,191.4 310.1,191.4 311.5,191.9 312.9,192.9 314.3,193.4 315.8,193.9 317.2,194.6 318.6,196.0 320.0,195.6 321.4,196.2 322.9,196.2 324.3,196.9 325.7,197.7 327.1,197.8 328.6,198.0 330.0,198.4 331.5,199.5 332.9,200.4 334.4,200.9 335.8,201.7 337.3,203.5 338.7,203.6 340.2,205.0 341.7,205.5 343.2,205.6 344.7,206.2 346.2,206.4 347.7,205.7 349.2,206.2 350.7,207.3 352.2,206.9 353.7,207.9 355.3,206.3 356.9,205.8 358.5,204.8 360.1,204.9 361.7,203.3 363.3,203.8 364.9,202.9 366.4,204.3 367.9,205.1 369.4,204.8 370.9,204.6 372.4,205.8 373.9,205.4 375.4,205.5 376.9,205.3 378.4,204.5 379.9,203.1 381.4,202.7 382.9,202.2 384.3,202.6 385.8,201.5 387.3,201.2 388.8,201.3 390.3,200.2 391.8,200.3 393.3,201.0 394.8,201.7 396.3,201.7 397.8,201.8 399.3,202.4 400.8,201.6 402.3,202.0 403.8,201.8 405.3,201.8 406.8,202.6 408.3,202.9 409.8,203.4 411.3,203.6 412.8,204.4 414.3,205.3 415.8,205.9 417.3,206.2 418.8,206.7 420.3,207.4 421.8,207.3 423.3,207.5 424.8,208.2 426.2,208.5 427.7,209.0 429.2,209.9 430.7,210.5 432.2,211.0 433.6,211.3 435.1,210.7 436.5,210.2 437.9,210.3 439.4,210.5 440.8,209.9 442.3,210.9 443.7,210.8 445.1,210.1 446.6,210.1 448.0,210.6 449.5,210.4 451.0,210.8 452.5,211.4 454.0,212.0 455.4,213.6 456.9,214.9 458.4,215.4 459.9,216.1 461.4,216.7 462.8,216.9 464.3,215.8 465.7,215.1 467.2,214.7 468.6,215.5 470.1,215.3 471.5,215.3 472.9,215.2 474.4,215.3 475.8,215.9 477.3,216.0 478.7,214.6 480.2,215.3 481.6,214.8 483.0,215.3 484.4,214.4 485.8,214.2 487.2,214.1 488.6,212.8 490.0,212.2 491.4,211.6 492.9,211.6 494.3,210.8 495.7,211.7 497.1,211.7 498.5,211.3 499.9,210.8 501.3,211.3 502.7,211.2 504.1,209.9 505.6,210.7 507.1,211.2 508.6,212.0 510.1,212.5 511.6,213.0 513.0,212.3 514.5,212.4 516.0,213.7 517.5,213.3 519.0,213.2 520.5,213.2 522.0,213.8 523.6,214.4 525.2,214.3 526.8,215.2 528.4,215.7 530.0,216.8 531.5,218.4 533.0,219.9 534.5,221.1 536.0,222.8 537.5,224.6 539.0,225.5 540.5,225.4 542.0,224.1 543.5,223.4 545.0,223.4 546.5,222.9 548.0,222.2 549.5,221.5 551.0,221.7 552.5,222.0 554.0,221.2 555.5,220.7 557.0,220.1 558.5,219.9 560.0,218.3 561.5,217.3 563.0,216.7 564.4,215.7 565.9,215.2 567.4,213.9 568.9,213.2 570.4,212.7 571.8,213.5 573.2,213.0 574.6,212.5 576.0,213.3 577.4,213.7 578.8,214.1 580.2,213.6 581.6,213.4 583.1,213.6 584.5,213.1 585.9,213.6 587.3,214.3 588.7,214.3 590.1,214.2 591.5,213.9 592.9,213.7 594.3,214.9 595.8,214.5 597.2,214.5 598.6,215.2 600.0,215.5 601.5,214.9 602.9,215.0 604.3,215.1 605.7,214.6 607.2,214.9 608.6,215.4 610.1,216.0 611.6,215.9 613.1,215.3 614.6,214.9 616.1,214.5 617.5,213.6 619.0,212.2 620.5,211.9 622.0,212.0 623.5,211.3 625.0,210.4 626.5,209.5 627.9,210.6 629.4,211.5 630.8,212.3 632.3,212.4 633.7,213.2 635.2,213.3 636.6,213.3 638.0,213.1 639.5,213.5 640.9,214.9 642.4,215.1 643.8,215.3 645.3,215.9 646.7,216.4 648.2,215.6 649.7,215.7 651.2,216.0 652.7,216.6 654.2,215.6 655.7,216.3 657.2,216.7 658.7,216.2 660.2,216.5 661.7,215.6 663.2,216.3 664.7,215.1 666.2,215.4 667.7,215.8 669.2,216.2 670.7,217.0 672.2,217.3 673.7,218.2 675.2,217.0 676.7,216.1 678.2,214.7 679.7,215.1 681.2,214.3 682.7,213.7 684.2,213.1 685.7,213.4 687.2,214.3 688.7,214.7 690.1,215.0 691.6,215.2 693.1,215.2 694.6,214.3 696.1,214.0 697.6,214.2 699.1,214.2 700.6,214.3 702.1,214.1 703.6,214.8 705.1,215.4 706.6,216.6 708.1,216.0 709.6,216.2 711.1,216.0 712.6,216.4 714.1,217.1 715.6,217.0 717.1,217.6 718.6,217.5 720.1,217.7 721.6,217.3 723.0,217.5 724.5,217.8 726.0,217.6 727.5,218.4 729.0,218.2 730.5,218.8 732.0,219.1 733.5,219.0 735.0,219.0 736.5,219.8 738.0,220.5 739.5,220.5 741.0,222.2 742.5,222.0 744.0,222.4 745.5,222.4 747.0,221.8 748.5,222.3 750.0,222.8 751.4,223.2 752.8,222.4 754.2,223.5 755.6,224.7 757.0,225.2 758.4,225.2 759.8,224.2 761.3,223.7 762.7,223.7 764.1,221.7 765.5,220.7 766.9,220.0 768.3,218.7 769.7,218.2 771.2,218.3 772.6,217.9 774.0,217.2 775.4,217.3 776.8,216.1 778.2,216.8 779.7,215.3 781.2,215.2 782.7,215.5 784.2,215.6 785.7,215.9 787.2,215.3 788.7,214.9 790.3,215.5 792.0,216.6 793.6,218.0 795.3,218.9 796.9,220.2 798.3,219.6 799.7,219.8 801.1,220.7 802.5,221.0 804.0,221.1 805.4,221.2 806.8,221.4 808.2,220.9 809.6,221.4 811.0,222.2 812.5,222.1 814.0,222.5 815.5,222.2 817.0,221.7 818.5,220.3 819.9,220.5 821.4,220.3 822.9,219.5 824.4,219.4 825.9,219.1 827.4,218.7 828.9,218.8 830.4,218.8 831.9,219.2 833.4,218.9 834.9,220.1 836.4,220.2 837.9,220.5 839.4,220.9 840.9,221.4 842.4,221.7 843.9,221.0 845.5,220.7 847.0,220.1 848.6,219.9 850.2,219.8 851.7,218.8 853.3,218.3 854.9,219.5 856.4,220.4 858.0,220.3 859.6,221.7 861.1,222.3 862.7,223.9 864.1,224.1 865.6,225.2 867.0,224.9 868.5,224.7 869.9,224.8 871.3,225.6 872.8,225.5 874.2,225.7 875.6,226.8 877.1,226.7 878.5,226.6 880.0,227.5 881.4,227.1 882.8,227.5 884.2,227.2 885.6,227.3 887.0,227.0 888.5,227.1 889.9,226.7 891.3,226.4 892.7,226.3 894.1,225.3 895.5,225.4 897.0,224.5 898.5,224.6 900.0,223.6 901.5,222.6 903.0,223.0 904.4,222.1 905.9,222.6 907.4,222.4 908.9,221.3 910.4,220.3 911.9,219.8 913.4,220.1 914.9,219.4 916.4,219.9 917.9,220.7 919.4,220.4 920.9,220.6 922.4,220.5 923.9,220.2 925.4,221.3 926.9,221.9 928.4,221.7 929.8,221.3 931.3,221.4 932.7,221.5 934.2,221.6 935.6,222.5 937.0,222.3 938.5,223.0 939.9,223.6 941.3,223.4 942.8,223.0 944.2,223.1 945.7,223.0 947.1,223.9 948.5,223.2 950.0,223.1 951.4,222.9 952.9,222.1 954.3,221.7 955.8,221.2 957.2,221.4 958.7,220.3 960.1,220.2 961.6,220.0 963.0,219.7 964.5,219.3 965.9,218.4 967.3,218.2 968.7,218.1 970.2,217.8 971.6,217.3 973.0,216.1" stroke="#D95319"/>
</g>
<g fill="none" stroke="#8a8a8a" stroke-width="1.50">
<rect x="114.10" y="22.60" width="858.70" height="507.60"/>
<path d="M114.10,530.20h8.6 M972.80,530.20h-8.6 M114.10,479.44h8.6 M972.80,479.44h-8.6 M114.10,428.68h8.6 M972.80,428.68h-8.6 M114.10,377.92h8.6 M972.80,377.92h-8.6 M114.10,327.16h8.6 M972.80,327.16h-8.6 M114.10,276.40h8.6 M972.80,276.40h-8.6 M114.10,225.64h8.6 M972.80,225.64h-8.6 M114.10,174.88h8.6 M972.80,174.88h-8.6 M114.10,124.12h8.6 M972.80,124.12h-8.6 M114.10,73.36h8.6 M972.80,73.36h-8.6 M114.10,22.60h8.6 M972.80,22.60h-8.6 M114.10,530.20v-8.6 M114.10,22.60v8.6 M285.84,530.20v-8.6 M285.84,22.60v8.6 M457.58,530.20v-8.6 M457.58,22.60v8.6 M629.32,530.20v-8.6 M629.32,22.60v8.6 M801.06,530.20v-8.6 M801.06,22.60v8.6 M972.80,530.20v-8.6 M972.80,22.60v8.6"/>
</g>
<g fill="#000">
<text transform="translate(70.39,29.74) scale(0.955,1.055)" font-family="Liberation Serif, serif" font-weight="normal" font-size="28">0.5</text>
<text transform="translate(70.36,134.09) scale(0.955,1.055)" font-family="Liberation Serif, serif" font-weight="normal" font-size="28">0.4</text>
<text transform="translate(70.39,235.50) scale(0.955,1.055)" font-family="Liberation Serif, serif" font-weight="normal" font-size="28">0.3</text>
<text transform="translate(70.74,337.14) scale(0.955,1.055)" font-family="Liberation Serif, serif" font-weight="normal" font-size="28">0.2</text>
<text transform="translate(69.96,439.19) scale(0.955,1.055)" font-family="Liberation Serif, serif" font-weight="normal" font-size="28">0.1</text>
<text transform="translate(90.87,539.84) scale(0.955,1.055)" font-family="Liberation Serif, serif" font-weight="normal" font-size="28">0</text>
<text transform="translate(106.27,562.79) scale(0.955,1.055)" font-family="Liberation Serif, serif" font-weight="normal" font-size="28">0</text>
<text transform="translate(277.34,562.70) scale(0.955,1.055)" font-family="Liberation Serif, serif" font-weight="normal" font-size="28">1</text>
<text transform="translate(450.06,562.45) scale(0.955,1.055)" font-family="Liberation Serif, serif" font-weight="normal" font-size="28">2</text>
<text transform="translate(621.11,562.64) scale(0.955,1.055)" font-family="Liberation Serif, serif" font-weight="normal" font-size="28">3</text>
<text transform="translate(793.02,562.64) scale(0.955,1.055)" font-family="Liberation Serif, serif" font-weight="normal" font-size="28">4</text>
<text transform="translate(962.74,563.00) scale(0.955,1.055)" font-family="Liberation Serif, serif" font-weight="normal" font-size="28">5</text>
</g>
<text transform="translate(488.51,595.20) scale(0.985,1.032)" font-family="Liberation Serif, serif" font-weight="normal" font-size="34">Iteration</text>
<text transform="translate(912.73,609.66) scale(1.083,1.390)" font-family="Liberation Serif, serif" font-weight="normal" font-size="28">&#215;</text>
<text transform="translate(933.01,604.30) scale(0.929,1.022)" font-family="Liberation Serif, serif" font-weight="normal" font-size="28">10</text>
<text transform="translate(959.40,590.40) scale(1.000,1.021)" font-family="Liberation Serif, serif" font-weight="normal" font-size="20">5</text>
<text transform="translate(58,474.8) rotate(-90) scale(0.997,1.03)" font-family="Liberation Serif, serif" font-size="34">Reconstruction Error [AU]</text>
<rect x="747.3" y="436.0" width="217.9" height="86.8" fill="#fff" stroke="#8a8a8a" stroke-width="1.3"/>
<path d="M750.4,446.8h26.3" stroke="#D95319" stroke-width="2.1"/>
<text x="778.6" y="453.2" font-family="Liberation Sans, sans-serif" font-size="18" fill="#111" textLength="83.5" lengthAdjust="spacingAndGlyphs">fine scale</text>
<path d="M750.4,468.3h25" stroke="#D95319" stroke-width="2.1" stroke-dasharray="9.6 5.6"/>
<text x="778.6" y="474.7" font-family="Liberation Sans, sans-serif" font-size="18" fill="#111" textLength="159.5" lengthAdjust="spacingAndGlyphs">fine scale RNDCTL</text>
<path d="M750.4,489.8h26.3" stroke="#0072BD" stroke-width="2.1"/>
<text x="778.6" y="496.2" font-family="Liberation Sans, sans-serif" font-size="18" fill="#111" textLength="108.3" lengthAdjust="spacingAndGlyphs">coarse scale</text>
<path d="M750.4,511.3h25" stroke="#0072BD" stroke-width="2.1" stroke-dasharray="9.6 5.6"/>
<text x="778.6" y="517.7" font-family="Liberation Sans, sans-serif" font-size="18" fill="#111" textLength="185.0" lengthAdjust="spacingAndGlyphs">coarse scale RNDCTL</text>
<rect x="114.85" y="661.05" width="416.30" height="286.40" fill="none" stroke="#1772BC" stroke-width="7.5"/>
<rect x="550.45" y="661.05" width="415.90" height="286.40" fill="none" stroke="#1772BC" stroke-width="7.5"/>
<g clip-path="url(#cp0)"><g filter="url(#pblur)"><rect x="137.20" y="683.10" width="111.30" height="111.30" fill="#919191"/><g shape-rendering="crispEdges"><path fill="#212121" d="M214.5 698.5h6.25v6.25h-6.25zM220.7 698.5h6.25v6.25h-6.25z"/><path fill="#313131" d="M140.2 717.1h6.25v6.25h-6.25zM140.2 723.3h6.25v6.25h-6.25zM208.3 698.5h6.25v6.25h-6.25zM152.6 785.2h6.25v6.25h-6.25zM158.8 785.2h6.25v6.25h-6.25z"/><path fill="#414141" d="M140.2 710.9h6.25v6.25h-6.25zM146.4 717.1h6.25v6.25h-6.25zM146.4 723.3h6.25v6.25h-6.25zM140.2 729.5h6.25v6.25h-6.25zM226.9 698.5h6.25v6.25h-6.25zM152.6 779.0h6.25v6.25h-6.25zM158.8 779.0h6.25v6.25h-6.25zM146.4 785.2h6.25v6.25h-6.25zM165.0 785.2h6.25v6.25h-6.25z"/><path fill="#515151" d="M140.2 704.7h6.25v6.25h-6.25zM146.4 729.5h6.25v6.25h-6.25zM202.1 698.5h6.25v6.25h-6.25zM146.4 779.0h6.25v6.25h-6.25zM165.0 779.0h6.25v6.25h-6.25z"/><path fill="#616161" d="M140.2 698.5h6.25v6.25h-6.25zM146.4 710.9h6.25v6.25h-6.25zM152.6 723.3h6.25v6.25h-6.25zM152.6 729.5h6.25v6.25h-6.25zM233.1 698.5h6.25v6.25h-6.25zM140.2 779.0h6.25v6.25h-6.25zM140.2 785.2h6.25v6.25h-6.25zM171.2 785.2h6.25v6.25h-6.25zM214.5 766.6h6.25v6.25h-6.25zM220.7 766.6h6.25v6.25h-6.25zM226.9 766.6h6.25v6.25h-6.25zM208.3 772.8h6.25v6.25h-6.25zM214.5 772.8h6.25v6.25h-6.25zM220.7 772.8h6.25v6.25h-6.25zM226.9 772.8h6.25v6.25h-6.25z"/><path fill="#717171" d="M183.6 686.1h6.25v6.25h-6.25zM140.2 692.3h6.25v6.25h-6.25zM183.6 692.3h6.25v6.25h-6.25zM183.6 698.5h6.25v6.25h-6.25zM146.4 704.7h6.25v6.25h-6.25zM152.6 717.1h6.25v6.25h-6.25zM233.1 692.3h6.25v6.25h-6.25zM239.3 692.3h6.25v6.25h-6.25zM195.9 698.5h6.25v6.25h-6.25zM239.3 698.5h6.25v6.25h-6.25zM195.9 704.7h6.25v6.25h-6.25zM202.1 704.7h6.25v6.25h-6.25zM208.3 704.7h6.25v6.25h-6.25zM140.2 772.8h6.25v6.25h-6.25zM146.4 772.8h6.25v6.25h-6.25zM152.6 772.8h6.25v6.25h-6.25zM158.8 772.8h6.25v6.25h-6.25zM171.2 779.0h6.25v6.25h-6.25zM214.5 760.4h6.25v6.25h-6.25zM220.7 760.4h6.25v6.25h-6.25zM226.9 760.4h6.25v6.25h-6.25zM233.1 760.4h6.25v6.25h-6.25zM202.1 766.6h6.25v6.25h-6.25zM208.3 766.6h6.25v6.25h-6.25zM233.1 766.6h6.25v6.25h-6.25zM202.1 772.8h6.25v6.25h-6.25zM233.1 772.8h6.25v6.25h-6.25zM208.3 779.0h6.25v6.25h-6.25zM214.5 779.0h6.25v6.25h-6.25zM220.7 779.0h6.25v6.25h-6.25zM226.9 779.0h6.25v6.25h-6.25z"/><path fill="#818181" d="M140.2 686.1h6.25v6.25h-6.25zM177.4 686.1h6.25v6.25h-6.25zM177.4 692.3h6.25v6.25h-6.25zM146.4 698.5h6.25v6.25h-6.25zM183.6 704.7h6.25v6.25h-6.25zM158.8 723.3h6.25v6.25h-6.25zM158.8 729.5h6.25v6.25h-6.25zM226.9 692.3h6.25v6.25h-6.25zM214.5 704.7h6.25v6.25h-6.25zM171.2 741.8h6.25v6.25h-6.25zM177.4 741.8h6.25v6.25h-6.25zM183.6 741.8h6.25v6.25h-6.25zM177.4 748.0h6.25v6.25h-6.25zM183.6 748.0h6.25v6.25h-6.25zM165.0 772.8h6.25v6.25h-6.25zM177.4 785.2h6.25v6.25h-6.25zM195.9 760.4h6.25v6.25h-6.25zM202.1 760.4h6.25v6.25h-6.25zM208.3 760.4h6.25v6.25h-6.25zM239.3 760.4h6.25v6.25h-6.25zM195.9 766.6h6.25v6.25h-6.25zM239.3 766.6h6.25v6.25h-6.25zM195.9 772.8h6.25v6.25h-6.25zM239.3 772.8h6.25v6.25h-6.25zM195.9 779.0h6.25v6.25h-6.25zM202.1 779.0h6.25v6.25h-6.25zM233.1 779.0h6.25v6.25h-6.25zM239.3 779.0h6.25v6.25h-6.25zM208.3 785.2h6.25v6.25h-6.25zM214.5 785.2h6.25v6.25h-6.25zM220.7 785.2h6.25v6.25h-6.25zM226.9 785.2h6.25v6.25h-6.25z"/><path fill="#919191" d="M146.4 686.1h6.25v6.25h-6.25zM152.6 686.1h6.25v6.25h-6.25zM158.8 686.1h6.25v6.25h-6.25zM165.0 686.1h6.25v6.25h-6.25zM171.2 686.1h6.25v6.25h-6.25zM146.4 692.3h6.25v6.25h-6.25zM171.2 692.3h6.25v6.25h-6.25zM177.4 698.5h6.25v6.25h-6.25zM152.6 704.7h6.25v6.25h-6.25zM152.6 710.9h6.25v6.25h-6.25zM183.6 710.9h6.25v6.25h-6.25zM158.8 717.1h6.25v6.25h-6.25zM183.6 717.1h6.25v6.25h-6.25zM183.6 723.3h6.25v6.25h-6.25zM165.0 729.5h6.25v6.25h-6.25zM183.6 729.5h6.25v6.25h-6.25zM195.9 686.1h6.25v6.25h-6.25zM220.7 692.3h6.25v6.25h-6.25zM220.7 704.7h6.25v6.25h-6.25zM226.9 704.7h6.25v6.25h-6.25zM233.1 704.7h6.25v6.25h-6.25zM239.3 704.7h6.25v6.25h-6.25zM195.9 710.9h6.25v6.25h-6.25zM202.1 710.9h6.25v6.25h-6.25zM208.3 710.9h6.25v6.25h-6.25zM214.5 710.9h6.25v6.25h-6.25zM220.7 710.9h6.25v6.25h-6.25zM226.9 710.9h6.25v6.25h-6.25zM233.1 710.9h6.25v6.25h-6.25zM239.3 710.9h6.25v6.25h-6.25zM195.9 717.1h6.25v6.25h-6.25zM202.1 717.1h6.25v6.25h-6.25zM208.3 717.1h6.25v6.25h-6.25zM214.5 717.1h6.25v6.25h-6.25zM220.7 717.1h6.25v6.25h-6.25zM226.9 717.1h6.25v6.25h-6.25zM233.1 717.1h6.25v6.25h-6.25zM239.3 717.1h6.25v6.25h-6.25zM195.9 723.3h6.25v6.25h-6.25zM202.1 723.3h6.25v6.25h-6.25zM208.3 723.3h6.25v6.25h-6.25zM214.5 723.3h6.25v6.25h-6.25zM220.7 723.3h6.25v6.25h-6.25zM226.9 723.3h6.25v6.25h-6.25zM233.1 723.3h6.25v6.25h-6.25zM239.3 723.3h6.25v6.25h-6.25zM195.9 729.5h6.25v6.25h-6.25zM202.1 729.5h6.25v6.25h-6.25zM208.3 729.5h6.25v6.25h-6.25zM214.5 729.5h6.25v6.25h-6.25zM220.7 729.5h6.25v6.25h-6.25zM226.9 729.5h6.25v6.25h-6.25zM233.1 729.5h6.25v6.25h-6.25zM239.3 729.5h6.25v6.25h-6.25zM158.8 741.8h6.25v6.25h-6.25zM165.0 741.8h6.25v6.25h-6.25zM165.0 748.0h6.25v6.25h-6.25zM171.2 748.0h6.25v6.25h-6.25zM171.2 754.2h6.25v6.25h-6.25zM177.4 754.2h6.25v6.25h-6.25zM183.6 754.2h6.25v6.25h-6.25zM183.6 760.4h6.25v6.25h-6.25zM140.2 766.6h6.25v6.25h-6.25zM146.4 766.6h6.25v6.25h-6.25zM171.2 772.8h6.25v6.25h-6.25zM177.4 779.0h6.25v6.25h-6.25zM195.9 754.2h6.25v6.25h-6.25zM202.1 754.2h6.25v6.25h-6.25zM208.3 754.2h6.25v6.25h-6.25zM214.5 754.2h6.25v6.25h-6.25zM220.7 754.2h6.25v6.25h-6.25zM226.9 754.2h6.25v6.25h-6.25zM233.1 754.2h6.25v6.25h-6.25zM239.3 754.2h6.25v6.25h-6.25zM195.9 785.2h6.25v6.25h-6.25zM202.1 785.2h6.25v6.25h-6.25zM233.1 785.2h6.25v6.25h-6.25zM239.3 785.2h6.25v6.25h-6.25z"/><path fill="#a1a1a1" d="M152.6 692.3h6.25v6.25h-6.25zM158.8 692.3h6.25v6.25h-6.25zM165.0 692.3h6.25v6.25h-6.25zM152.6 698.5h6.25v6.25h-6.25zM171.2 698.5h6.25v6.25h-6.25zM177.4 704.7h6.25v6.25h-6.25zM158.8 710.9h6.25v6.25h-6.25zM177.4 710.9h6.25v6.25h-6.25zM165.0 717.1h6.25v6.25h-6.25zM171.2 717.1h6.25v6.25h-6.25zM177.4 717.1h6.25v6.25h-6.25zM165.0 723.3h6.25v6.25h-6.25zM171.2 723.3h6.25v6.25h-6.25zM177.4 723.3h6.25v6.25h-6.25zM171.2 729.5h6.25v6.25h-6.25zM177.4 729.5h6.25v6.25h-6.25zM202.1 686.1h6.25v6.25h-6.25zM239.3 686.1h6.25v6.25h-6.25zM214.5 692.3h6.25v6.25h-6.25zM140.2 741.8h6.25v6.25h-6.25zM146.4 741.8h6.25v6.25h-6.25zM152.6 741.8h6.25v6.25h-6.25zM140.2 748.0h6.25v6.25h-6.25zM146.4 748.0h6.25v6.25h-6.25zM152.6 748.0h6.25v6.25h-6.25zM158.8 748.0h6.25v6.25h-6.25zM140.2 754.2h6.25v6.25h-6.25zM158.8 754.2h6.25v6.25h-6.25zM165.0 754.2h6.25v6.25h-6.25zM140.2 760.4h6.25v6.25h-6.25zM171.2 760.4h6.25v6.25h-6.25zM177.4 760.4h6.25v6.25h-6.25zM152.6 766.6h6.25v6.25h-6.25zM158.8 766.6h6.25v6.25h-6.25zM177.4 766.6h6.25v6.25h-6.25zM183.6 766.6h6.25v6.25h-6.25zM177.4 772.8h6.25v6.25h-6.25zM183.6 772.8h6.25v6.25h-6.25zM183.6 779.0h6.25v6.25h-6.25zM183.6 785.2h6.25v6.25h-6.25zM239.3 748.0h6.25v6.25h-6.25z"/><path fill="#b1b1b1" d="M158.8 698.5h6.25v6.25h-6.25zM165.0 698.5h6.25v6.25h-6.25zM158.8 704.7h6.25v6.25h-6.25zM165.0 704.7h6.25v6.25h-6.25zM171.2 704.7h6.25v6.25h-6.25zM165.0 710.9h6.25v6.25h-6.25zM171.2 710.9h6.25v6.25h-6.25zM146.4 754.2h6.25v6.25h-6.25zM152.6 754.2h6.25v6.25h-6.25zM146.4 760.4h6.25v6.25h-6.25zM152.6 760.4h6.25v6.25h-6.25zM158.8 760.4h6.25v6.25h-6.25zM165.0 760.4h6.25v6.25h-6.25zM165.0 766.6h6.25v6.25h-6.25zM171.2 766.6h6.25v6.25h-6.25zM239.3 741.8h6.25v6.25h-6.25zM195.9 748.0h6.25v6.25h-6.25zM202.1 748.0h6.25v6.25h-6.25zM226.9 748.0h6.25v6.25h-6.25zM233.1 748.0h6.25v6.25h-6.25z"/><path fill="#c1c1c1" d="M208.3 686.1h6.25v6.25h-6.25zM233.1 686.1h6.25v6.25h-6.25zM195.9 692.3h6.25v6.25h-6.25zM202.1 692.3h6.25v6.25h-6.25zM208.3 692.3h6.25v6.25h-6.25zM195.9 741.8h6.25v6.25h-6.25zM233.1 741.8h6.25v6.25h-6.25zM208.3 748.0h6.25v6.25h-6.25zM214.5 748.0h6.25v6.25h-6.25zM220.7 748.0h6.25v6.25h-6.25z"/><path fill="#d1d1d1" d="M214.5 686.1h6.25v6.25h-6.25zM226.9 686.1h6.25v6.25h-6.25zM202.1 741.8h6.25v6.25h-6.25zM226.9 741.8h6.25v6.25h-6.25z"/><path fill="#e1e1e1" d="M220.7 686.1h6.25v6.25h-6.25zM208.3 741.8h6.25v6.25h-6.25zM214.5 741.8h6.25v6.25h-6.25zM220.7 741.8h6.25v6.25h-6.25z"/></g></g></g><rect x="189.80" y="686.10" width="6.10" height="105.30" fill="#000"/><rect x="140.20" y="735.70" width="105.30" height="6.10" fill="#000"/><rect x="140.60" y="686.50" width="104.50" height="104.50" fill="none" stroke="#555" stroke-width="0.8"/>
<g clip-path="url(#cp1)"><g filter="url(#pblur)"><rect x="267.00" y="683.10" width="111.30" height="111.30" fill="#919191"/><g shape-rendering="crispEdges"><path fill="#313131" d="M344.3 779.0h6.25v6.25h-6.25z"/><path fill="#414141" d="M276.2 717.1h6.25v6.25h-6.25zM282.4 717.1h6.25v6.25h-6.25zM350.5 766.6h6.25v6.25h-6.25zM356.7 766.6h6.25v6.25h-6.25zM344.3 772.8h6.25v6.25h-6.25zM350.5 772.8h6.25v6.25h-6.25z"/><path fill="#515151" d="M270.0 717.1h6.25v6.25h-6.25zM288.6 717.1h6.25v6.25h-6.25zM270.0 723.3h6.25v6.25h-6.25zM276.2 723.3h6.25v6.25h-6.25zM344.3 692.3h6.25v6.25h-6.25zM350.5 692.3h6.25v6.25h-6.25zM369.1 729.5h6.25v6.25h-6.25zM282.4 779.0h6.25v6.25h-6.25zM288.6 779.0h6.25v6.25h-6.25zM288.6 785.2h6.25v6.25h-6.25zM356.7 760.4h6.25v6.25h-6.25z"/><path fill="#616161" d="M282.4 710.9h6.25v6.25h-6.25zM288.6 710.9h6.25v6.25h-6.25zM294.8 710.9h6.25v6.25h-6.25zM294.8 717.1h6.25v6.25h-6.25zM282.4 723.3h6.25v6.25h-6.25zM338.1 686.1h6.25v6.25h-6.25zM344.3 686.1h6.25v6.25h-6.25zM350.5 686.1h6.25v6.25h-6.25zM338.1 692.3h6.25v6.25h-6.25zM356.7 692.3h6.25v6.25h-6.25zM362.9 729.5h6.25v6.25h-6.25zM276.2 772.8h6.25v6.25h-6.25zM282.4 772.8h6.25v6.25h-6.25zM276.2 779.0h6.25v6.25h-6.25zM282.4 785.2h6.25v6.25h-6.25zM294.8 785.2h6.25v6.25h-6.25zM362.9 760.4h6.25v6.25h-6.25zM338.1 779.0h6.25v6.25h-6.25z"/><path fill="#717171" d="M270.0 686.1h6.25v6.25h-6.25zM276.2 686.1h6.25v6.25h-6.25zM301.0 710.9h6.25v6.25h-6.25zM301.0 717.1h6.25v6.25h-6.25zM288.6 723.3h6.25v6.25h-6.25zM331.9 686.1h6.25v6.25h-6.25zM356.7 686.1h6.25v6.25h-6.25zM331.9 692.3h6.25v6.25h-6.25zM331.9 698.5h6.25v6.25h-6.25zM338.1 698.5h6.25v6.25h-6.25zM344.3 698.5h6.25v6.25h-6.25zM369.1 723.3h6.25v6.25h-6.25zM307.2 748.0h6.25v6.25h-6.25zM270.0 766.6h6.25v6.25h-6.25zM276.2 766.6h6.25v6.25h-6.25zM282.4 766.6h6.25v6.25h-6.25zM270.0 772.8h6.25v6.25h-6.25zM288.6 772.8h6.25v6.25h-6.25zM270.0 779.0h6.25v6.25h-6.25zM294.8 779.0h6.25v6.25h-6.25zM276.2 785.2h6.25v6.25h-6.25zM362.9 748.0h6.25v6.25h-6.25zM362.9 754.2h6.25v6.25h-6.25zM350.5 779.0h6.25v6.25h-6.25zM338.1 785.2h6.25v6.25h-6.25zM344.3 785.2h6.25v6.25h-6.25z"/><path fill="#818181" d="M282.4 686.1h6.25v6.25h-6.25zM288.6 686.1h6.25v6.25h-6.25zM294.8 686.1h6.25v6.25h-6.25zM301.0 686.1h6.25v6.25h-6.25zM307.2 686.1h6.25v6.25h-6.25zM313.4 686.1h6.25v6.25h-6.25zM270.0 692.3h6.25v6.25h-6.25zM294.8 704.7h6.25v6.25h-6.25zM301.0 704.7h6.25v6.25h-6.25zM307.2 704.7h6.25v6.25h-6.25zM276.2 710.9h6.25v6.25h-6.25zM307.2 710.9h6.25v6.25h-6.25zM307.2 717.1h6.25v6.25h-6.25zM294.8 723.3h6.25v6.25h-6.25zM301.0 723.3h6.25v6.25h-6.25zM270.0 729.5h6.25v6.25h-6.25zM276.2 729.5h6.25v6.25h-6.25zM282.4 729.5h6.25v6.25h-6.25zM325.7 686.1h6.25v6.25h-6.25zM362.9 686.1h6.25v6.25h-6.25zM369.1 686.1h6.25v6.25h-6.25zM325.7 692.3h6.25v6.25h-6.25zM362.9 692.3h6.25v6.25h-6.25zM325.7 698.5h6.25v6.25h-6.25zM350.5 698.5h6.25v6.25h-6.25zM325.7 704.7h6.25v6.25h-6.25zM331.9 704.7h6.25v6.25h-6.25zM338.1 704.7h6.25v6.25h-6.25zM369.1 717.1h6.25v6.25h-6.25zM362.9 723.3h6.25v6.25h-6.25zM356.7 729.5h6.25v6.25h-6.25zM301.0 741.8h6.25v6.25h-6.25zM307.2 741.8h6.25v6.25h-6.25zM313.4 741.8h6.25v6.25h-6.25zM301.0 748.0h6.25v6.25h-6.25zM313.4 748.0h6.25v6.25h-6.25zM307.2 754.2h6.25v6.25h-6.25zM313.4 754.2h6.25v6.25h-6.25zM270.0 760.4h6.25v6.25h-6.25zM276.2 760.4h6.25v6.25h-6.25zM270.0 785.2h6.25v6.25h-6.25zM301.0 785.2h6.25v6.25h-6.25zM350.5 748.0h6.25v6.25h-6.25zM356.7 748.0h6.25v6.25h-6.25zM369.1 748.0h6.25v6.25h-6.25zM356.7 754.2h6.25v6.25h-6.25zM369.1 754.2h6.25v6.25h-6.25zM350.5 760.4h6.25v6.25h-6.25zM356.7 772.8h6.25v6.25h-6.25z"/><path fill="#919191" d="M276.2 692.3h6.25v6.25h-6.25zM282.4 692.3h6.25v6.25h-6.25zM288.6 692.3h6.25v6.25h-6.25zM294.8 692.3h6.25v6.25h-6.25zM301.0 692.3h6.25v6.25h-6.25zM307.2 692.3h6.25v6.25h-6.25zM313.4 692.3h6.25v6.25h-6.25zM301.0 698.5h6.25v6.25h-6.25zM307.2 698.5h6.25v6.25h-6.25zM313.4 698.5h6.25v6.25h-6.25zM313.4 704.7h6.25v6.25h-6.25zM270.0 710.9h6.25v6.25h-6.25zM313.4 710.9h6.25v6.25h-6.25zM313.4 717.1h6.25v6.25h-6.25zM307.2 723.3h6.25v6.25h-6.25zM313.4 723.3h6.25v6.25h-6.25zM288.6 729.5h6.25v6.25h-6.25zM294.8 729.5h6.25v6.25h-6.25zM301.0 729.5h6.25v6.25h-6.25zM307.2 729.5h6.25v6.25h-6.25zM313.4 729.5h6.25v6.25h-6.25zM369.1 692.3h6.25v6.25h-6.25zM356.7 698.5h6.25v6.25h-6.25zM344.3 704.7h6.25v6.25h-6.25zM325.7 710.9h6.25v6.25h-6.25zM331.9 710.9h6.25v6.25h-6.25zM338.1 710.9h6.25v6.25h-6.25zM325.7 717.1h6.25v6.25h-6.25zM331.9 717.1h6.25v6.25h-6.25zM338.1 717.1h6.25v6.25h-6.25zM325.7 723.3h6.25v6.25h-6.25zM331.9 723.3h6.25v6.25h-6.25zM338.1 723.3h6.25v6.25h-6.25zM356.7 723.3h6.25v6.25h-6.25zM325.7 729.5h6.25v6.25h-6.25zM331.9 729.5h6.25v6.25h-6.25zM338.1 729.5h6.25v6.25h-6.25zM344.3 729.5h6.25v6.25h-6.25zM350.5 729.5h6.25v6.25h-6.25zM270.0 741.8h6.25v6.25h-6.25zM276.2 741.8h6.25v6.25h-6.25zM282.4 741.8h6.25v6.25h-6.25zM288.6 741.8h6.25v6.25h-6.25zM294.8 741.8h6.25v6.25h-6.25zM270.0 748.0h6.25v6.25h-6.25zM276.2 748.0h6.25v6.25h-6.25zM282.4 748.0h6.25v6.25h-6.25zM288.6 748.0h6.25v6.25h-6.25zM294.8 748.0h6.25v6.25h-6.25zM270.0 754.2h6.25v6.25h-6.25zM276.2 754.2h6.25v6.25h-6.25zM282.4 754.2h6.25v6.25h-6.25zM282.4 760.4h6.25v6.25h-6.25zM313.4 760.4h6.25v6.25h-6.25zM288.6 766.6h6.25v6.25h-6.25zM294.8 772.8h6.25v6.25h-6.25zM301.0 779.0h6.25v6.25h-6.25zM325.7 741.8h6.25v6.25h-6.25zM331.9 741.8h6.25v6.25h-6.25zM338.1 741.8h6.25v6.25h-6.25zM344.3 741.8h6.25v6.25h-6.25zM350.5 741.8h6.25v6.25h-6.25zM356.7 741.8h6.25v6.25h-6.25zM362.9 741.8h6.25v6.25h-6.25zM369.1 741.8h6.25v6.25h-6.25zM325.7 748.0h6.25v6.25h-6.25zM331.9 748.0h6.25v6.25h-6.25zM338.1 748.0h6.25v6.25h-6.25zM344.3 748.0h6.25v6.25h-6.25zM325.7 754.2h6.25v6.25h-6.25zM331.9 754.2h6.25v6.25h-6.25zM325.7 760.4h6.25v6.25h-6.25zM369.1 760.4h6.25v6.25h-6.25zM325.7 766.6h6.25v6.25h-6.25zM344.3 766.6h6.25v6.25h-6.25zM362.9 766.6h6.25v6.25h-6.25zM325.7 772.8h6.25v6.25h-6.25zM325.7 779.0h6.25v6.25h-6.25zM331.9 779.0h6.25v6.25h-6.25zM325.7 785.2h6.25v6.25h-6.25zM331.9 785.2h6.25v6.25h-6.25z"/><path fill="#a1a1a1" d="M288.6 704.7h6.25v6.25h-6.25zM362.9 698.5h6.25v6.25h-6.25zM369.1 698.5h6.25v6.25h-6.25zM344.3 710.9h6.25v6.25h-6.25zM362.9 717.1h6.25v6.25h-6.25zM344.3 723.3h6.25v6.25h-6.25zM350.5 723.3h6.25v6.25h-6.25zM288.6 754.2h6.25v6.25h-6.25zM301.0 754.2h6.25v6.25h-6.25zM288.6 760.4h6.25v6.25h-6.25zM313.4 766.6h6.25v6.25h-6.25zM307.2 785.2h6.25v6.25h-6.25zM313.4 785.2h6.25v6.25h-6.25zM338.1 754.2h6.25v6.25h-6.25zM344.3 754.2h6.25v6.25h-6.25zM350.5 754.2h6.25v6.25h-6.25zM331.9 760.4h6.25v6.25h-6.25zM338.1 760.4h6.25v6.25h-6.25zM331.9 766.6h6.25v6.25h-6.25zM331.9 772.8h6.25v6.25h-6.25zM338.1 772.8h6.25v6.25h-6.25zM369.1 785.2h6.25v6.25h-6.25z"/><path fill="#b1b1b1" d="M294.8 698.5h6.25v6.25h-6.25zM350.5 704.7h6.25v6.25h-6.25zM369.1 704.7h6.25v6.25h-6.25zM369.1 710.9h6.25v6.25h-6.25zM344.3 717.1h6.25v6.25h-6.25zM294.8 754.2h6.25v6.25h-6.25zM307.2 760.4h6.25v6.25h-6.25zM294.8 766.6h6.25v6.25h-6.25zM301.0 772.8h6.25v6.25h-6.25zM313.4 772.8h6.25v6.25h-6.25zM307.2 779.0h6.25v6.25h-6.25zM313.4 779.0h6.25v6.25h-6.25zM344.3 760.4h6.25v6.25h-6.25zM338.1 766.6h6.25v6.25h-6.25zM369.1 766.6h6.25v6.25h-6.25zM362.9 772.8h6.25v6.25h-6.25zM356.7 779.0h6.25v6.25h-6.25zM350.5 785.2h6.25v6.25h-6.25zM362.9 785.2h6.25v6.25h-6.25z"/><path fill="#c1c1c1" d="M270.0 698.5h6.25v6.25h-6.25zM282.4 704.7h6.25v6.25h-6.25zM356.7 704.7h6.25v6.25h-6.25zM362.9 704.7h6.25v6.25h-6.25zM350.5 710.9h6.25v6.25h-6.25zM356.7 710.9h6.25v6.25h-6.25zM362.9 710.9h6.25v6.25h-6.25zM350.5 717.1h6.25v6.25h-6.25zM356.7 717.1h6.25v6.25h-6.25zM294.8 760.4h6.25v6.25h-6.25zM301.0 760.4h6.25v6.25h-6.25zM301.0 766.6h6.25v6.25h-6.25zM307.2 766.6h6.25v6.25h-6.25zM307.2 772.8h6.25v6.25h-6.25zM369.1 772.8h6.25v6.25h-6.25zM362.9 779.0h6.25v6.25h-6.25zM369.1 779.0h6.25v6.25h-6.25zM356.7 785.2h6.25v6.25h-6.25z"/><path fill="#d1d1d1" d="M276.2 698.5h6.25v6.25h-6.25zM282.4 698.5h6.25v6.25h-6.25zM288.6 698.5h6.25v6.25h-6.25zM276.2 704.7h6.25v6.25h-6.25z"/><path fill="#e1e1e1" d="M270.0 704.7h6.25v6.25h-6.25z"/></g></g></g><rect x="319.60" y="686.10" width="6.10" height="105.30" fill="#000"/><rect x="270.00" y="735.70" width="105.30" height="6.10" fill="#000"/><rect x="270.40" y="686.50" width="104.50" height="104.50" fill="none" stroke="#555" stroke-width="0.8"/>
<g clip-path="url(#cp2)"><g filter="url(#pblur)"><rect x="397.60" y="683.10" width="111.30" height="111.30" fill="#919191"/><g shape-rendering="crispEdges"><path fill="#313131" d="M487.3 748.0h6.25v6.25h-6.25z"/><path fill="#414141" d="M406.8 729.5h6.25v6.25h-6.25zM413.0 729.5h6.25v6.25h-6.25zM419.2 729.5h6.25v6.25h-6.25zM474.9 741.8h6.25v6.25h-6.25zM493.5 754.2h6.25v6.25h-6.25z"/><path fill="#515151" d="M406.8 723.3h6.25v6.25h-6.25zM413.0 723.3h6.25v6.25h-6.25zM419.2 723.3h6.25v6.25h-6.25zM425.4 729.5h6.25v6.25h-6.25zM481.1 741.8h6.25v6.25h-6.25zM481.1 748.0h6.25v6.25h-6.25z"/><path fill="#616161" d="M400.6 723.3h6.25v6.25h-6.25zM425.4 723.3h6.25v6.25h-6.25zM400.6 729.5h6.25v6.25h-6.25zM431.6 729.5h6.25v6.25h-6.25zM474.9 717.1h6.25v6.25h-6.25zM481.1 717.1h6.25v6.25h-6.25zM487.3 717.1h6.25v6.25h-6.25zM474.9 723.3h6.25v6.25h-6.25zM481.1 723.3h6.25v6.25h-6.25zM487.3 723.3h6.25v6.25h-6.25zM419.2 766.6h6.25v6.25h-6.25zM425.4 766.6h6.25v6.25h-6.25zM431.6 766.6h6.25v6.25h-6.25z"/><path fill="#717171" d="M431.6 723.3h6.25v6.25h-6.25zM468.7 710.9h6.25v6.25h-6.25zM474.9 710.9h6.25v6.25h-6.25zM481.1 710.9h6.25v6.25h-6.25zM487.3 710.9h6.25v6.25h-6.25zM493.5 710.9h6.25v6.25h-6.25zM468.7 717.1h6.25v6.25h-6.25zM493.5 717.1h6.25v6.25h-6.25zM468.7 723.3h6.25v6.25h-6.25zM493.5 723.3h6.25v6.25h-6.25zM413.0 760.4h6.25v6.25h-6.25zM419.2 760.4h6.25v6.25h-6.25zM425.4 760.4h6.25v6.25h-6.25zM413.0 766.6h6.25v6.25h-6.25zM437.8 766.6h6.25v6.25h-6.25zM419.2 772.8h6.25v6.25h-6.25zM425.4 772.8h6.25v6.25h-6.25zM431.6 772.8h6.25v6.25h-6.25zM437.8 772.8h6.25v6.25h-6.25zM468.7 760.4h6.25v6.25h-6.25zM474.9 760.4h6.25v6.25h-6.25zM499.7 760.4h6.25v6.25h-6.25z"/><path fill="#818181" d="M400.6 686.1h6.25v6.25h-6.25zM400.6 717.1h6.25v6.25h-6.25zM406.8 717.1h6.25v6.25h-6.25zM413.0 717.1h6.25v6.25h-6.25zM419.2 717.1h6.25v6.25h-6.25zM425.4 717.1h6.25v6.25h-6.25zM431.6 717.1h6.25v6.25h-6.25zM437.8 723.3h6.25v6.25h-6.25zM437.8 729.5h6.25v6.25h-6.25zM456.3 710.9h6.25v6.25h-6.25zM462.5 710.9h6.25v6.25h-6.25zM499.7 710.9h6.25v6.25h-6.25zM456.3 717.1h6.25v6.25h-6.25zM462.5 717.1h6.25v6.25h-6.25zM499.7 717.1h6.25v6.25h-6.25zM456.3 723.3h6.25v6.25h-6.25zM462.5 723.3h6.25v6.25h-6.25zM499.7 723.3h6.25v6.25h-6.25zM468.7 729.5h6.25v6.25h-6.25zM474.9 729.5h6.25v6.25h-6.25zM481.1 729.5h6.25v6.25h-6.25zM487.3 729.5h6.25v6.25h-6.25zM493.5 729.5h6.25v6.25h-6.25zM406.8 754.2h6.25v6.25h-6.25zM413.0 754.2h6.25v6.25h-6.25zM419.2 754.2h6.25v6.25h-6.25zM400.6 760.4h6.25v6.25h-6.25zM406.8 760.4h6.25v6.25h-6.25zM431.6 760.4h6.25v6.25h-6.25zM437.8 760.4h6.25v6.25h-6.25zM400.6 766.6h6.25v6.25h-6.25zM406.8 766.6h6.25v6.25h-6.25zM444.0 766.6h6.25v6.25h-6.25zM406.8 772.8h6.25v6.25h-6.25zM413.0 772.8h6.25v6.25h-6.25zM444.0 772.8h6.25v6.25h-6.25zM425.4 779.0h6.25v6.25h-6.25zM431.6 779.0h6.25v6.25h-6.25zM437.8 779.0h6.25v6.25h-6.25zM444.0 779.0h6.25v6.25h-6.25zM468.7 741.8h6.25v6.25h-6.25zM493.5 748.0h6.25v6.25h-6.25zM462.5 754.2h6.25v6.25h-6.25zM468.7 754.2h6.25v6.25h-6.25zM499.7 754.2h6.25v6.25h-6.25zM481.1 766.6h6.25v6.25h-6.25zM487.3 766.6h6.25v6.25h-6.25z"/><path fill="#919191" d="M406.8 686.1h6.25v6.25h-6.25zM413.0 686.1h6.25v6.25h-6.25zM419.2 686.1h6.25v6.25h-6.25zM425.4 686.1h6.25v6.25h-6.25zM431.6 686.1h6.25v6.25h-6.25zM437.8 686.1h6.25v6.25h-6.25zM444.0 686.1h6.25v6.25h-6.25zM400.6 692.3h6.25v6.25h-6.25zM431.6 692.3h6.25v6.25h-6.25zM437.8 692.3h6.25v6.25h-6.25zM444.0 692.3h6.25v6.25h-6.25zM437.8 698.5h6.25v6.25h-6.25zM444.0 698.5h6.25v6.25h-6.25zM437.8 704.7h6.25v6.25h-6.25zM444.0 704.7h6.25v6.25h-6.25zM431.6 710.9h6.25v6.25h-6.25zM437.8 710.9h6.25v6.25h-6.25zM444.0 710.9h6.25v6.25h-6.25zM437.8 717.1h6.25v6.25h-6.25zM444.0 717.1h6.25v6.25h-6.25zM444.0 723.3h6.25v6.25h-6.25zM444.0 729.5h6.25v6.25h-6.25zM456.3 698.5h6.25v6.25h-6.25zM462.5 698.5h6.25v6.25h-6.25zM499.7 698.5h6.25v6.25h-6.25zM456.3 704.7h6.25v6.25h-6.25zM462.5 704.7h6.25v6.25h-6.25zM468.7 704.7h6.25v6.25h-6.25zM474.9 704.7h6.25v6.25h-6.25zM481.1 704.7h6.25v6.25h-6.25zM487.3 704.7h6.25v6.25h-6.25zM493.5 704.7h6.25v6.25h-6.25zM499.7 704.7h6.25v6.25h-6.25zM456.3 729.5h6.25v6.25h-6.25zM462.5 729.5h6.25v6.25h-6.25zM499.7 729.5h6.25v6.25h-6.25zM400.6 741.8h6.25v6.25h-6.25zM406.8 741.8h6.25v6.25h-6.25zM400.6 748.0h6.25v6.25h-6.25zM406.8 748.0h6.25v6.25h-6.25zM400.6 754.2h6.25v6.25h-6.25zM425.4 754.2h6.25v6.25h-6.25zM431.6 754.2h6.25v6.25h-6.25zM437.8 754.2h6.25v6.25h-6.25zM444.0 760.4h6.25v6.25h-6.25zM400.6 772.8h6.25v6.25h-6.25zM413.0 779.0h6.25v6.25h-6.25zM419.2 779.0h6.25v6.25h-6.25zM431.6 785.2h6.25v6.25h-6.25zM437.8 785.2h6.25v6.25h-6.25zM444.0 785.2h6.25v6.25h-6.25zM499.7 741.8h6.25v6.25h-6.25zM456.3 748.0h6.25v6.25h-6.25zM456.3 754.2h6.25v6.25h-6.25zM487.3 754.2h6.25v6.25h-6.25zM456.3 760.4h6.25v6.25h-6.25zM462.5 760.4h6.25v6.25h-6.25zM456.3 766.6h6.25v6.25h-6.25zM462.5 766.6h6.25v6.25h-6.25zM468.7 766.6h6.25v6.25h-6.25zM474.9 766.6h6.25v6.25h-6.25zM456.3 772.8h6.25v6.25h-6.25zM462.5 772.8h6.25v6.25h-6.25zM468.7 772.8h6.25v6.25h-6.25zM474.9 772.8h6.25v6.25h-6.25zM481.1 772.8h6.25v6.25h-6.25zM487.3 772.8h6.25v6.25h-6.25zM493.5 772.8h6.25v6.25h-6.25zM499.7 772.8h6.25v6.25h-6.25zM456.3 779.0h6.25v6.25h-6.25zM462.5 779.0h6.25v6.25h-6.25zM468.7 779.0h6.25v6.25h-6.25zM474.9 779.0h6.25v6.25h-6.25zM481.1 779.0h6.25v6.25h-6.25zM487.3 779.0h6.25v6.25h-6.25zM493.5 779.0h6.25v6.25h-6.25zM499.7 779.0h6.25v6.25h-6.25zM456.3 785.2h6.25v6.25h-6.25zM462.5 785.2h6.25v6.25h-6.25zM468.7 785.2h6.25v6.25h-6.25zM474.9 785.2h6.25v6.25h-6.25zM481.1 785.2h6.25v6.25h-6.25zM487.3 785.2h6.25v6.25h-6.25zM493.5 785.2h6.25v6.25h-6.25zM499.7 785.2h6.25v6.25h-6.25z"/><path fill="#a1a1a1" d="M406.8 692.3h6.25v6.25h-6.25zM413.0 692.3h6.25v6.25h-6.25zM419.2 692.3h6.25v6.25h-6.25zM425.4 692.3h6.25v6.25h-6.25zM400.6 698.5h6.25v6.25h-6.25zM425.4 698.5h6.25v6.25h-6.25zM431.6 698.5h6.25v6.25h-6.25zM400.6 704.7h6.25v6.25h-6.25zM425.4 704.7h6.25v6.25h-6.25zM431.6 704.7h6.25v6.25h-6.25zM400.6 710.9h6.25v6.25h-6.25zM406.8 710.9h6.25v6.25h-6.25zM413.0 710.9h6.25v6.25h-6.25zM419.2 710.9h6.25v6.25h-6.25zM425.4 710.9h6.25v6.25h-6.25zM456.3 686.1h6.25v6.25h-6.25zM499.7 686.1h6.25v6.25h-6.25zM456.3 692.3h6.25v6.25h-6.25zM499.7 692.3h6.25v6.25h-6.25zM468.7 698.5h6.25v6.25h-6.25zM474.9 698.5h6.25v6.25h-6.25zM481.1 698.5h6.25v6.25h-6.25zM487.3 698.5h6.25v6.25h-6.25zM493.5 698.5h6.25v6.25h-6.25zM413.0 741.8h6.25v6.25h-6.25zM413.0 748.0h6.25v6.25h-6.25zM419.2 748.0h6.25v6.25h-6.25zM444.0 754.2h6.25v6.25h-6.25zM400.6 779.0h6.25v6.25h-6.25zM406.8 779.0h6.25v6.25h-6.25zM419.2 785.2h6.25v6.25h-6.25zM425.4 785.2h6.25v6.25h-6.25zM456.3 741.8h6.25v6.25h-6.25zM462.5 741.8h6.25v6.25h-6.25zM487.3 741.8h6.25v6.25h-6.25zM493.5 741.8h6.25v6.25h-6.25zM462.5 748.0h6.25v6.25h-6.25zM499.7 748.0h6.25v6.25h-6.25zM481.1 760.4h6.25v6.25h-6.25z"/><path fill="#b1b1b1" d="M406.8 698.5h6.25v6.25h-6.25zM413.0 698.5h6.25v6.25h-6.25zM419.2 698.5h6.25v6.25h-6.25zM406.8 704.7h6.25v6.25h-6.25zM413.0 704.7h6.25v6.25h-6.25zM419.2 704.7h6.25v6.25h-6.25zM462.5 686.1h6.25v6.25h-6.25zM468.7 686.1h6.25v6.25h-6.25zM493.5 686.1h6.25v6.25h-6.25zM462.5 692.3h6.25v6.25h-6.25zM468.7 692.3h6.25v6.25h-6.25zM493.5 692.3h6.25v6.25h-6.25zM419.2 741.8h6.25v6.25h-6.25zM425.4 748.0h6.25v6.25h-6.25zM431.6 748.0h6.25v6.25h-6.25zM437.8 748.0h6.25v6.25h-6.25zM444.0 748.0h6.25v6.25h-6.25zM400.6 785.2h6.25v6.25h-6.25zM406.8 785.2h6.25v6.25h-6.25zM413.0 785.2h6.25v6.25h-6.25zM493.5 766.6h6.25v6.25h-6.25zM499.7 766.6h6.25v6.25h-6.25z"/><path fill="#c1c1c1" d="M474.9 686.1h6.25v6.25h-6.25zM481.1 686.1h6.25v6.25h-6.25zM487.3 686.1h6.25v6.25h-6.25zM474.9 692.3h6.25v6.25h-6.25zM481.1 692.3h6.25v6.25h-6.25zM487.3 692.3h6.25v6.25h-6.25zM425.4 741.8h6.25v6.25h-6.25zM431.6 741.8h6.25v6.25h-6.25zM437.8 741.8h6.25v6.25h-6.25zM444.0 741.8h6.25v6.25h-6.25zM474.9 748.0h6.25v6.25h-6.25zM493.5 760.4h6.25v6.25h-6.25z"/><path fill="#d1d1d1" d="M468.7 748.0h6.25v6.25h-6.25zM474.9 754.2h6.25v6.25h-6.25z"/><path fill="#e1e1e1" d="M481.1 754.2h6.25v6.25h-6.25zM487.3 760.4h6.25v6.25h-6.25z"/></g></g></g><rect x="450.20" y="686.10" width="6.10" height="105.30" fill="#000"/><rect x="400.60" y="735.70" width="105.30" height="6.10" fill="#000"/><rect x="401.00" y="686.50" width="104.50" height="104.50" fill="none" stroke="#555" stroke-width="0.8"/>
<g clip-path="url(#cp3)"><g filter="url(#pblur)"><rect x="137.20" y="813.30" width="111.30" height="111.30" fill="#919191"/><g shape-rendering="crispEdges"><path fill="#414141" d="M220.7 884.4h6.25v6.25h-6.25zM226.9 884.4h6.25v6.25h-6.25zM233.1 884.4h6.25v6.25h-6.25z"/><path fill="#515151" d="M158.8 841.1h6.25v6.25h-6.25zM220.7 834.9h6.25v6.25h-6.25zM171.2 903.0h6.25v6.25h-6.25zM171.2 909.2h6.25v6.25h-6.25zM220.7 878.2h6.25v6.25h-6.25zM226.9 878.2h6.25v6.25h-6.25zM233.1 878.2h6.25v6.25h-6.25zM239.3 878.2h6.25v6.25h-6.25zM214.5 884.4h6.25v6.25h-6.25zM239.3 884.4h6.25v6.25h-6.25z"/><path fill="#616161" d="M158.8 828.7h6.25v6.25h-6.25zM152.6 834.9h6.25v6.25h-6.25zM158.8 834.9h6.25v6.25h-6.25zM152.6 841.1h6.25v6.25h-6.25zM158.8 847.3h6.25v6.25h-6.25zM165.0 847.3h6.25v6.25h-6.25zM158.8 853.5h6.25v6.25h-6.25zM165.0 853.5h6.25v6.25h-6.25zM220.7 828.7h6.25v6.25h-6.25zM226.9 828.7h6.25v6.25h-6.25zM214.5 834.9h6.25v6.25h-6.25zM226.9 834.9h6.25v6.25h-6.25zM208.3 841.1h6.25v6.25h-6.25zM214.5 841.1h6.25v6.25h-6.25zM165.0 896.8h6.25v6.25h-6.25zM171.2 896.8h6.25v6.25h-6.25zM165.0 903.0h6.25v6.25h-6.25zM165.0 909.2h6.25v6.25h-6.25zM165.0 915.4h6.25v6.25h-6.25zM171.2 915.4h6.25v6.25h-6.25zM214.5 878.2h6.25v6.25h-6.25zM208.3 884.4h6.25v6.25h-6.25z"/><path fill="#717171" d="M158.8 822.5h6.25v6.25h-6.25zM152.6 828.7h6.25v6.25h-6.25zM165.0 828.7h6.25v6.25h-6.25zM165.0 834.9h6.25v6.25h-6.25zM165.0 841.1h6.25v6.25h-6.25zM152.6 847.3h6.25v6.25h-6.25zM165.0 859.7h6.25v6.25h-6.25zM220.7 822.5h6.25v6.25h-6.25zM226.9 822.5h6.25v6.25h-6.25zM214.5 828.7h6.25v6.25h-6.25zM233.1 828.7h6.25v6.25h-6.25zM202.1 834.9h6.25v6.25h-6.25zM208.3 834.9h6.25v6.25h-6.25zM233.1 834.9h6.25v6.25h-6.25zM202.1 841.1h6.25v6.25h-6.25zM220.7 841.1h6.25v6.25h-6.25zM202.1 847.3h6.25v6.25h-6.25zM208.3 847.3h6.25v6.25h-6.25zM171.2 884.4h6.25v6.25h-6.25zM165.0 890.6h6.25v6.25h-6.25zM171.2 890.6h6.25v6.25h-6.25zM177.4 903.0h6.25v6.25h-6.25zM177.4 909.2h6.25v6.25h-6.25zM208.3 878.2h6.25v6.25h-6.25zM220.7 890.6h6.25v6.25h-6.25zM226.9 890.6h6.25v6.25h-6.25z"/><path fill="#818181" d="M140.2 816.3h6.25v6.25h-6.25zM146.4 816.3h6.25v6.25h-6.25zM152.6 816.3h6.25v6.25h-6.25zM158.8 816.3h6.25v6.25h-6.25zM140.2 822.5h6.25v6.25h-6.25zM146.4 822.5h6.25v6.25h-6.25zM152.6 822.5h6.25v6.25h-6.25zM165.0 822.5h6.25v6.25h-6.25zM140.2 828.7h6.25v6.25h-6.25zM146.4 828.7h6.25v6.25h-6.25zM140.2 834.9h6.25v6.25h-6.25zM146.4 834.9h6.25v6.25h-6.25zM140.2 841.1h6.25v6.25h-6.25zM146.4 841.1h6.25v6.25h-6.25zM140.2 847.3h6.25v6.25h-6.25zM146.4 847.3h6.25v6.25h-6.25zM171.2 847.3h6.25v6.25h-6.25zM140.2 853.5h6.25v6.25h-6.25zM146.4 853.5h6.25v6.25h-6.25zM152.6 853.5h6.25v6.25h-6.25zM171.2 853.5h6.25v6.25h-6.25zM140.2 859.7h6.25v6.25h-6.25zM146.4 859.7h6.25v6.25h-6.25zM152.6 859.7h6.25v6.25h-6.25zM158.8 859.7h6.25v6.25h-6.25zM171.2 859.7h6.25v6.25h-6.25zM214.5 822.5h6.25v6.25h-6.25zM233.1 822.5h6.25v6.25h-6.25zM208.3 828.7h6.25v6.25h-6.25zM239.3 828.7h6.25v6.25h-6.25zM195.9 834.9h6.25v6.25h-6.25zM239.3 834.9h6.25v6.25h-6.25zM195.9 841.1h6.25v6.25h-6.25zM226.9 841.1h6.25v6.25h-6.25zM195.9 847.3h6.25v6.25h-6.25zM214.5 847.3h6.25v6.25h-6.25zM195.9 853.5h6.25v6.25h-6.25zM202.1 853.5h6.25v6.25h-6.25zM171.2 878.2h6.25v6.25h-6.25zM165.0 884.4h6.25v6.25h-6.25zM177.4 890.6h6.25v6.25h-6.25zM177.4 896.8h6.25v6.25h-6.25zM177.4 915.4h6.25v6.25h-6.25zM202.1 878.2h6.25v6.25h-6.25zM202.1 884.4h6.25v6.25h-6.25zM208.3 890.6h6.25v6.25h-6.25zM214.5 890.6h6.25v6.25h-6.25zM233.1 890.6h6.25v6.25h-6.25zM239.3 890.6h6.25v6.25h-6.25z"/><path fill="#919191" d="M165.0 816.3h6.25v6.25h-6.25zM171.2 841.1h6.25v6.25h-6.25zM177.4 859.7h6.25v6.25h-6.25zM183.6 859.7h6.25v6.25h-6.25zM214.5 816.3h6.25v6.25h-6.25zM220.7 816.3h6.25v6.25h-6.25zM226.9 816.3h6.25v6.25h-6.25zM233.1 816.3h6.25v6.25h-6.25zM239.3 816.3h6.25v6.25h-6.25zM208.3 822.5h6.25v6.25h-6.25zM239.3 822.5h6.25v6.25h-6.25zM195.9 828.7h6.25v6.25h-6.25zM202.1 828.7h6.25v6.25h-6.25zM233.1 841.1h6.25v6.25h-6.25zM239.3 841.1h6.25v6.25h-6.25zM239.3 847.3h6.25v6.25h-6.25zM208.3 853.5h6.25v6.25h-6.25zM195.9 859.7h6.25v6.25h-6.25zM202.1 859.7h6.25v6.25h-6.25zM208.3 859.7h6.25v6.25h-6.25zM140.2 872.0h6.25v6.25h-6.25zM146.4 872.0h6.25v6.25h-6.25zM152.6 872.0h6.25v6.25h-6.25zM171.2 872.0h6.25v6.25h-6.25zM140.2 878.2h6.25v6.25h-6.25zM146.4 878.2h6.25v6.25h-6.25zM152.6 878.2h6.25v6.25h-6.25zM165.0 878.2h6.25v6.25h-6.25zM177.4 878.2h6.25v6.25h-6.25zM140.2 884.4h6.25v6.25h-6.25zM146.4 884.4h6.25v6.25h-6.25zM152.6 884.4h6.25v6.25h-6.25zM177.4 884.4h6.25v6.25h-6.25zM140.2 890.6h6.25v6.25h-6.25zM146.4 890.6h6.25v6.25h-6.25zM152.6 890.6h6.25v6.25h-6.25zM140.2 896.8h6.25v6.25h-6.25zM146.4 896.8h6.25v6.25h-6.25zM152.6 896.8h6.25v6.25h-6.25zM140.2 903.0h6.25v6.25h-6.25zM146.4 903.0h6.25v6.25h-6.25zM152.6 903.0h6.25v6.25h-6.25zM140.2 909.2h6.25v6.25h-6.25zM146.4 909.2h6.25v6.25h-6.25zM152.6 909.2h6.25v6.25h-6.25zM140.2 915.4h6.25v6.25h-6.25zM146.4 915.4h6.25v6.25h-6.25zM152.6 915.4h6.25v6.25h-6.25zM195.9 872.0h6.25v6.25h-6.25zM202.1 872.0h6.25v6.25h-6.25zM208.3 872.0h6.25v6.25h-6.25zM239.3 872.0h6.25v6.25h-6.25zM195.9 878.2h6.25v6.25h-6.25zM195.9 884.4h6.25v6.25h-6.25zM195.9 890.6h6.25v6.25h-6.25zM202.1 890.6h6.25v6.25h-6.25zM195.9 915.4h6.25v6.25h-6.25zM202.1 915.4h6.25v6.25h-6.25zM208.3 915.4h6.25v6.25h-6.25zM214.5 915.4h6.25v6.25h-6.25zM220.7 915.4h6.25v6.25h-6.25zM226.9 915.4h6.25v6.25h-6.25zM233.1 915.4h6.25v6.25h-6.25zM239.3 915.4h6.25v6.25h-6.25z"/><path fill="#a1a1a1" d="M171.2 816.3h6.25v6.25h-6.25zM177.4 816.3h6.25v6.25h-6.25zM183.6 816.3h6.25v6.25h-6.25zM171.2 822.5h6.25v6.25h-6.25zM183.6 822.5h6.25v6.25h-6.25zM171.2 828.7h6.25v6.25h-6.25zM171.2 834.9h6.25v6.25h-6.25zM177.4 853.5h6.25v6.25h-6.25zM183.6 853.5h6.25v6.25h-6.25zM208.3 816.3h6.25v6.25h-6.25zM202.1 822.5h6.25v6.25h-6.25zM220.7 847.3h6.25v6.25h-6.25zM226.9 847.3h6.25v6.25h-6.25zM233.1 847.3h6.25v6.25h-6.25zM214.5 853.5h6.25v6.25h-6.25zM239.3 853.5h6.25v6.25h-6.25zM214.5 859.7h6.25v6.25h-6.25zM239.3 859.7h6.25v6.25h-6.25zM158.8 872.0h6.25v6.25h-6.25zM165.0 872.0h6.25v6.25h-6.25zM177.4 872.0h6.25v6.25h-6.25zM158.8 878.2h6.25v6.25h-6.25zM158.8 884.4h6.25v6.25h-6.25zM158.8 890.6h6.25v6.25h-6.25zM158.8 896.8h6.25v6.25h-6.25zM158.8 903.0h6.25v6.25h-6.25zM158.8 909.2h6.25v6.25h-6.25zM158.8 915.4h6.25v6.25h-6.25zM214.5 872.0h6.25v6.25h-6.25zM220.7 872.0h6.25v6.25h-6.25zM226.9 872.0h6.25v6.25h-6.25zM233.1 872.0h6.25v6.25h-6.25zM195.9 896.8h6.25v6.25h-6.25zM202.1 896.8h6.25v6.25h-6.25zM208.3 896.8h6.25v6.25h-6.25zM214.5 896.8h6.25v6.25h-6.25zM220.7 896.8h6.25v6.25h-6.25zM226.9 896.8h6.25v6.25h-6.25zM233.1 896.8h6.25v6.25h-6.25zM239.3 896.8h6.25v6.25h-6.25zM195.9 903.0h6.25v6.25h-6.25zM233.1 903.0h6.25v6.25h-6.25zM239.3 903.0h6.25v6.25h-6.25zM195.9 909.2h6.25v6.25h-6.25zM202.1 909.2h6.25v6.25h-6.25zM208.3 909.2h6.25v6.25h-6.25zM214.5 909.2h6.25v6.25h-6.25zM220.7 909.2h6.25v6.25h-6.25zM226.9 909.2h6.25v6.25h-6.25zM233.1 909.2h6.25v6.25h-6.25zM239.3 909.2h6.25v6.25h-6.25z"/><path fill="#b1b1b1" d="M177.4 822.5h6.25v6.25h-6.25zM177.4 847.3h6.25v6.25h-6.25zM183.6 847.3h6.25v6.25h-6.25zM195.9 822.5h6.25v6.25h-6.25zM220.7 853.5h6.25v6.25h-6.25zM226.9 853.5h6.25v6.25h-6.25zM233.1 853.5h6.25v6.25h-6.25zM220.7 859.7h6.25v6.25h-6.25zM226.9 859.7h6.25v6.25h-6.25zM233.1 859.7h6.25v6.25h-6.25zM183.6 872.0h6.25v6.25h-6.25zM202.1 903.0h6.25v6.25h-6.25zM208.3 903.0h6.25v6.25h-6.25zM214.5 903.0h6.25v6.25h-6.25zM220.7 903.0h6.25v6.25h-6.25zM226.9 903.0h6.25v6.25h-6.25z"/><path fill="#c1c1c1" d="M183.6 828.7h6.25v6.25h-6.25zM183.6 841.1h6.25v6.25h-6.25zM195.9 816.3h6.25v6.25h-6.25zM202.1 816.3h6.25v6.25h-6.25z"/><path fill="#d1d1d1" d="M177.4 828.7h6.25v6.25h-6.25zM177.4 834.9h6.25v6.25h-6.25zM183.6 834.9h6.25v6.25h-6.25zM177.4 841.1h6.25v6.25h-6.25zM183.6 878.2h6.25v6.25h-6.25zM183.6 915.4h6.25v6.25h-6.25z"/><path fill="#e1e1e1" d="M183.6 884.4h6.25v6.25h-6.25zM183.6 890.6h6.25v6.25h-6.25zM183.6 896.8h6.25v6.25h-6.25zM183.6 903.0h6.25v6.25h-6.25zM183.6 909.2h6.25v6.25h-6.25z"/></g></g></g><rect x="189.80" y="816.30" width="6.10" height="105.30" fill="#000"/><rect x="140.20" y="865.90" width="105.30" height="6.10" fill="#000"/><rect x="140.60" y="816.70" width="104.50" height="104.50" fill="none" stroke="#555" stroke-width="0.8"/>
<g clip-path="url(#cp4)"><g filter="url(#pblur)"><rect x="267.00" y="813.30" width="111.30" height="111.30" fill="#919191"/><g shape-rendering="crispEdges"><path fill="#515151" d="M369.1 896.8h6.25v6.25h-6.25zM369.1 903.0h6.25v6.25h-6.25zM369.1 909.2h6.25v6.25h-6.25z"/><path fill="#616161" d="M276.2 847.3h6.25v6.25h-6.25zM282.4 847.3h6.25v6.25h-6.25zM288.6 847.3h6.25v6.25h-6.25zM276.2 853.5h6.25v6.25h-6.25zM282.4 853.5h6.25v6.25h-6.25zM288.6 853.5h6.25v6.25h-6.25zM325.7 822.5h6.25v6.25h-6.25zM331.9 822.5h6.25v6.25h-6.25zM325.7 828.7h6.25v6.25h-6.25zM331.9 828.7h6.25v6.25h-6.25zM325.7 834.9h6.25v6.25h-6.25zM331.9 834.9h6.25v6.25h-6.25zM301.0 878.2h6.25v6.25h-6.25zM307.2 878.2h6.25v6.25h-6.25zM301.0 884.4h6.25v6.25h-6.25zM307.2 884.4h6.25v6.25h-6.25zM369.1 890.6h6.25v6.25h-6.25zM362.9 903.0h6.25v6.25h-6.25zM362.9 909.2h6.25v6.25h-6.25zM369.1 915.4h6.25v6.25h-6.25z"/><path fill="#717171" d="M270.0 841.1h6.25v6.25h-6.25zM276.2 841.1h6.25v6.25h-6.25zM282.4 841.1h6.25v6.25h-6.25zM288.6 841.1h6.25v6.25h-6.25zM270.0 847.3h6.25v6.25h-6.25zM294.8 847.3h6.25v6.25h-6.25zM270.0 853.5h6.25v6.25h-6.25zM294.8 853.5h6.25v6.25h-6.25zM301.0 853.5h6.25v6.25h-6.25zM325.7 816.3h6.25v6.25h-6.25zM331.9 816.3h6.25v6.25h-6.25zM325.7 841.1h6.25v6.25h-6.25zM331.9 841.1h6.25v6.25h-6.25zM301.0 872.0h6.25v6.25h-6.25zM307.2 872.0h6.25v6.25h-6.25zM294.8 878.2h6.25v6.25h-6.25zM313.4 878.2h6.25v6.25h-6.25zM294.8 884.4h6.25v6.25h-6.25zM313.4 884.4h6.25v6.25h-6.25zM301.0 890.6h6.25v6.25h-6.25zM307.2 890.6h6.25v6.25h-6.25zM313.4 890.6h6.25v6.25h-6.25zM325.7 872.0h6.25v6.25h-6.25zM331.9 872.0h6.25v6.25h-6.25zM325.7 878.2h6.25v6.25h-6.25zM331.9 878.2h6.25v6.25h-6.25zM325.7 884.4h6.25v6.25h-6.25zM331.9 884.4h6.25v6.25h-6.25zM369.1 884.4h6.25v6.25h-6.25zM325.7 890.6h6.25v6.25h-6.25zM331.9 890.6h6.25v6.25h-6.25zM362.9 896.8h6.25v6.25h-6.25zM362.9 915.4h6.25v6.25h-6.25z"/><path fill="#818181" d="M270.0 834.9h6.25v6.25h-6.25zM276.2 834.9h6.25v6.25h-6.25zM282.4 834.9h6.25v6.25h-6.25zM294.8 841.1h6.25v6.25h-6.25zM301.0 841.1h6.25v6.25h-6.25zM307.2 841.1h6.25v6.25h-6.25zM301.0 847.3h6.25v6.25h-6.25zM307.2 847.3h6.25v6.25h-6.25zM307.2 853.5h6.25v6.25h-6.25zM270.0 859.7h6.25v6.25h-6.25zM276.2 859.7h6.25v6.25h-6.25zM282.4 859.7h6.25v6.25h-6.25zM288.6 859.7h6.25v6.25h-6.25zM294.8 859.7h6.25v6.25h-6.25zM301.0 859.7h6.25v6.25h-6.25zM338.1 816.3h6.25v6.25h-6.25zM369.1 816.3h6.25v6.25h-6.25zM338.1 822.5h6.25v6.25h-6.25zM338.1 828.7h6.25v6.25h-6.25zM338.1 834.9h6.25v6.25h-6.25zM338.1 841.1h6.25v6.25h-6.25zM325.7 847.3h6.25v6.25h-6.25zM331.9 847.3h6.25v6.25h-6.25zM338.1 847.3h6.25v6.25h-6.25zM288.6 872.0h6.25v6.25h-6.25zM294.8 872.0h6.25v6.25h-6.25zM313.4 872.0h6.25v6.25h-6.25zM282.4 878.2h6.25v6.25h-6.25zM288.6 878.2h6.25v6.25h-6.25zM282.4 884.4h6.25v6.25h-6.25zM288.6 884.4h6.25v6.25h-6.25zM294.8 890.6h6.25v6.25h-6.25zM301.0 896.8h6.25v6.25h-6.25zM307.2 896.8h6.25v6.25h-6.25zM313.4 896.8h6.25v6.25h-6.25zM338.1 872.0h6.25v6.25h-6.25zM369.1 872.0h6.25v6.25h-6.25zM338.1 878.2h6.25v6.25h-6.25zM369.1 878.2h6.25v6.25h-6.25zM338.1 884.4h6.25v6.25h-6.25zM338.1 890.6h6.25v6.25h-6.25zM362.9 890.6h6.25v6.25h-6.25zM325.7 896.8h6.25v6.25h-6.25zM331.9 896.8h6.25v6.25h-6.25zM325.7 903.0h6.25v6.25h-6.25zM331.9 903.0h6.25v6.25h-6.25zM356.7 909.2h6.25v6.25h-6.25zM356.7 915.4h6.25v6.25h-6.25z"/><path fill="#919191" d="M270.0 828.7h6.25v6.25h-6.25zM276.2 828.7h6.25v6.25h-6.25zM307.2 828.7h6.25v6.25h-6.25zM313.4 828.7h6.25v6.25h-6.25zM288.6 834.9h6.25v6.25h-6.25zM294.8 834.9h6.25v6.25h-6.25zM301.0 834.9h6.25v6.25h-6.25zM307.2 834.9h6.25v6.25h-6.25zM313.4 834.9h6.25v6.25h-6.25zM313.4 841.1h6.25v6.25h-6.25zM313.4 847.3h6.25v6.25h-6.25zM313.4 853.5h6.25v6.25h-6.25zM307.2 859.7h6.25v6.25h-6.25zM313.4 859.7h6.25v6.25h-6.25zM344.3 816.3h6.25v6.25h-6.25zM344.3 822.5h6.25v6.25h-6.25zM369.1 822.5h6.25v6.25h-6.25zM344.3 828.7h6.25v6.25h-6.25zM369.1 828.7h6.25v6.25h-6.25zM344.3 834.9h6.25v6.25h-6.25zM369.1 834.9h6.25v6.25h-6.25zM344.3 841.1h6.25v6.25h-6.25zM362.9 841.1h6.25v6.25h-6.25zM369.1 841.1h6.25v6.25h-6.25zM344.3 847.3h6.25v6.25h-6.25zM350.5 847.3h6.25v6.25h-6.25zM356.7 847.3h6.25v6.25h-6.25zM362.9 847.3h6.25v6.25h-6.25zM369.1 847.3h6.25v6.25h-6.25zM325.7 853.5h6.25v6.25h-6.25zM331.9 853.5h6.25v6.25h-6.25zM338.1 853.5h6.25v6.25h-6.25zM344.3 853.5h6.25v6.25h-6.25zM350.5 853.5h6.25v6.25h-6.25zM356.7 853.5h6.25v6.25h-6.25zM362.9 853.5h6.25v6.25h-6.25zM369.1 853.5h6.25v6.25h-6.25zM325.7 859.7h6.25v6.25h-6.25zM331.9 859.7h6.25v6.25h-6.25zM338.1 859.7h6.25v6.25h-6.25zM344.3 859.7h6.25v6.25h-6.25zM350.5 859.7h6.25v6.25h-6.25zM356.7 859.7h6.25v6.25h-6.25zM362.9 859.7h6.25v6.25h-6.25zM369.1 859.7h6.25v6.25h-6.25zM270.0 872.0h6.25v6.25h-6.25zM276.2 872.0h6.25v6.25h-6.25zM282.4 872.0h6.25v6.25h-6.25zM270.0 878.2h6.25v6.25h-6.25zM276.2 878.2h6.25v6.25h-6.25zM270.0 884.4h6.25v6.25h-6.25zM276.2 884.4h6.25v6.25h-6.25zM270.0 890.6h6.25v6.25h-6.25zM276.2 890.6h6.25v6.25h-6.25zM282.4 890.6h6.25v6.25h-6.25zM288.6 890.6h6.25v6.25h-6.25zM288.6 896.8h6.25v6.25h-6.25zM294.8 896.8h6.25v6.25h-6.25zM307.2 903.0h6.25v6.25h-6.25zM313.4 903.0h6.25v6.25h-6.25zM313.4 909.2h6.25v6.25h-6.25zM270.0 915.4h6.25v6.25h-6.25zM313.4 915.4h6.25v6.25h-6.25zM344.3 872.0h6.25v6.25h-6.25zM350.5 872.0h6.25v6.25h-6.25zM356.7 872.0h6.25v6.25h-6.25zM362.9 872.0h6.25v6.25h-6.25zM344.3 878.2h6.25v6.25h-6.25zM362.9 878.2h6.25v6.25h-6.25zM362.9 884.4h6.25v6.25h-6.25zM338.1 896.8h6.25v6.25h-6.25zM338.1 903.0h6.25v6.25h-6.25zM356.7 903.0h6.25v6.25h-6.25zM325.7 909.2h6.25v6.25h-6.25zM331.9 909.2h6.25v6.25h-6.25zM338.1 909.2h6.25v6.25h-6.25zM344.3 909.2h6.25v6.25h-6.25zM350.5 909.2h6.25v6.25h-6.25zM325.7 915.4h6.25v6.25h-6.25zM331.9 915.4h6.25v6.25h-6.25zM338.1 915.4h6.25v6.25h-6.25zM344.3 915.4h6.25v6.25h-6.25zM350.5 915.4h6.25v6.25h-6.25z"/><path fill="#a1a1a1" d="M270.0 816.3h6.25v6.25h-6.25zM276.2 816.3h6.25v6.25h-6.25zM307.2 816.3h6.25v6.25h-6.25zM313.4 816.3h6.25v6.25h-6.25zM270.0 822.5h6.25v6.25h-6.25zM276.2 822.5h6.25v6.25h-6.25zM307.2 822.5h6.25v6.25h-6.25zM313.4 822.5h6.25v6.25h-6.25zM282.4 828.7h6.25v6.25h-6.25zM288.6 828.7h6.25v6.25h-6.25zM294.8 828.7h6.25v6.25h-6.25zM301.0 828.7h6.25v6.25h-6.25zM350.5 816.3h6.25v6.25h-6.25zM356.7 816.3h6.25v6.25h-6.25zM362.9 816.3h6.25v6.25h-6.25zM350.5 822.5h6.25v6.25h-6.25zM362.9 822.5h6.25v6.25h-6.25zM350.5 828.7h6.25v6.25h-6.25zM362.9 828.7h6.25v6.25h-6.25zM350.5 834.9h6.25v6.25h-6.25zM356.7 834.9h6.25v6.25h-6.25zM362.9 834.9h6.25v6.25h-6.25zM350.5 841.1h6.25v6.25h-6.25zM356.7 841.1h6.25v6.25h-6.25zM270.0 896.8h6.25v6.25h-6.25zM276.2 896.8h6.25v6.25h-6.25zM282.4 896.8h6.25v6.25h-6.25zM270.0 903.0h6.25v6.25h-6.25zM294.8 903.0h6.25v6.25h-6.25zM301.0 903.0h6.25v6.25h-6.25zM270.0 909.2h6.25v6.25h-6.25zM301.0 909.2h6.25v6.25h-6.25zM307.2 909.2h6.25v6.25h-6.25zM276.2 915.4h6.25v6.25h-6.25zM282.4 915.4h6.25v6.25h-6.25zM288.6 915.4h6.25v6.25h-6.25zM294.8 915.4h6.25v6.25h-6.25zM301.0 915.4h6.25v6.25h-6.25zM307.2 915.4h6.25v6.25h-6.25zM350.5 878.2h6.25v6.25h-6.25zM356.7 878.2h6.25v6.25h-6.25zM344.3 884.4h6.25v6.25h-6.25zM344.3 890.6h6.25v6.25h-6.25zM356.7 896.8h6.25v6.25h-6.25zM344.3 903.0h6.25v6.25h-6.25zM350.5 903.0h6.25v6.25h-6.25z"/><path fill="#b1b1b1" d="M282.4 816.3h6.25v6.25h-6.25zM288.6 816.3h6.25v6.25h-6.25zM294.8 816.3h6.25v6.25h-6.25zM301.0 816.3h6.25v6.25h-6.25zM282.4 822.5h6.25v6.25h-6.25zM288.6 822.5h6.25v6.25h-6.25zM294.8 822.5h6.25v6.25h-6.25zM301.0 822.5h6.25v6.25h-6.25zM356.7 822.5h6.25v6.25h-6.25zM356.7 828.7h6.25v6.25h-6.25zM276.2 903.0h6.25v6.25h-6.25zM282.4 903.0h6.25v6.25h-6.25zM288.6 903.0h6.25v6.25h-6.25zM276.2 909.2h6.25v6.25h-6.25zM282.4 909.2h6.25v6.25h-6.25zM288.6 909.2h6.25v6.25h-6.25zM294.8 909.2h6.25v6.25h-6.25zM350.5 884.4h6.25v6.25h-6.25zM356.7 884.4h6.25v6.25h-6.25zM350.5 890.6h6.25v6.25h-6.25zM356.7 890.6h6.25v6.25h-6.25zM344.3 896.8h6.25v6.25h-6.25zM350.5 896.8h6.25v6.25h-6.25z"/></g></g></g><rect x="319.60" y="816.30" width="6.10" height="105.30" fill="#000"/><rect x="270.00" y="865.90" width="105.30" height="6.10" fill="#000"/><rect x="270.40" y="816.70" width="104.50" height="104.50" fill="none" stroke="#555" stroke-width="0.8"/>
<g clip-path="url(#cp5)"><g filter="url(#pblur)"><rect x="397.60" y="813.30" width="111.30" height="111.30" fill="#919191"/><g shape-rendering="crispEdges"><path fill="#414141" d="M493.5 896.8h6.25v6.25h-6.25z"/><path fill="#515151" d="M425.4 828.7h6.25v6.25h-6.25zM431.6 828.7h6.25v6.25h-6.25zM431.6 834.9h6.25v6.25h-6.25zM474.9 834.9h6.25v6.25h-6.25zM474.9 841.1h6.25v6.25h-6.25zM474.9 847.3h6.25v6.25h-6.25zM425.4 903.0h6.25v6.25h-6.25zM487.3 878.2h6.25v6.25h-6.25zM493.5 890.6h6.25v6.25h-6.25zM493.5 903.0h6.25v6.25h-6.25z"/><path fill="#616161" d="M425.4 822.5h6.25v6.25h-6.25zM431.6 822.5h6.25v6.25h-6.25zM425.4 834.9h6.25v6.25h-6.25zM437.8 834.9h6.25v6.25h-6.25zM431.6 841.1h6.25v6.25h-6.25zM474.9 828.7h6.25v6.25h-6.25zM468.7 834.9h6.25v6.25h-6.25zM468.7 841.1h6.25v6.25h-6.25zM481.1 841.1h6.25v6.25h-6.25zM468.7 847.3h6.25v6.25h-6.25zM481.1 847.3h6.25v6.25h-6.25zM474.9 853.5h6.25v6.25h-6.25zM425.4 896.8h6.25v6.25h-6.25zM431.6 896.8h6.25v6.25h-6.25zM419.2 903.0h6.25v6.25h-6.25zM431.6 903.0h6.25v6.25h-6.25zM419.2 909.2h6.25v6.25h-6.25zM425.4 909.2h6.25v6.25h-6.25zM487.3 884.4h6.25v6.25h-6.25zM493.5 884.4h6.25v6.25h-6.25z"/><path fill="#717171" d="M419.2 828.7h6.25v6.25h-6.25zM437.8 828.7h6.25v6.25h-6.25zM425.4 841.1h6.25v6.25h-6.25zM437.8 841.1h6.25v6.25h-6.25zM431.6 847.3h6.25v6.25h-6.25zM437.8 847.3h6.25v6.25h-6.25zM468.7 822.5h6.25v6.25h-6.25zM474.9 822.5h6.25v6.25h-6.25zM468.7 828.7h6.25v6.25h-6.25zM481.1 834.9h6.25v6.25h-6.25zM468.7 853.5h6.25v6.25h-6.25zM481.1 853.5h6.25v6.25h-6.25zM437.8 890.6h6.25v6.25h-6.25zM437.8 896.8h6.25v6.25h-6.25zM413.0 909.2h6.25v6.25h-6.25zM431.6 909.2h6.25v6.25h-6.25zM487.3 872.0h6.25v6.25h-6.25zM493.5 878.2h6.25v6.25h-6.25zM487.3 890.6h6.25v6.25h-6.25zM493.5 909.2h6.25v6.25h-6.25z"/><path fill="#818181" d="M425.4 816.3h6.25v6.25h-6.25zM431.6 816.3h6.25v6.25h-6.25zM419.2 822.5h6.25v6.25h-6.25zM437.8 822.5h6.25v6.25h-6.25zM419.2 834.9h6.25v6.25h-6.25zM444.0 834.9h6.25v6.25h-6.25zM444.0 841.1h6.25v6.25h-6.25zM425.4 847.3h6.25v6.25h-6.25zM444.0 847.3h6.25v6.25h-6.25zM431.6 853.5h6.25v6.25h-6.25zM437.8 853.5h6.25v6.25h-6.25zM444.0 853.5h6.25v6.25h-6.25zM462.5 822.5h6.25v6.25h-6.25zM481.1 822.5h6.25v6.25h-6.25zM462.5 828.7h6.25v6.25h-6.25zM481.1 828.7h6.25v6.25h-6.25zM462.5 834.9h6.25v6.25h-6.25zM462.5 841.1h6.25v6.25h-6.25zM462.5 847.3h6.25v6.25h-6.25zM487.3 847.3h6.25v6.25h-6.25zM487.3 853.5h6.25v6.25h-6.25zM468.7 859.7h6.25v6.25h-6.25zM474.9 859.7h6.25v6.25h-6.25zM481.1 859.7h6.25v6.25h-6.25zM437.8 884.4h6.25v6.25h-6.25zM444.0 884.4h6.25v6.25h-6.25zM431.6 890.6h6.25v6.25h-6.25zM444.0 890.6h6.25v6.25h-6.25zM419.2 896.8h6.25v6.25h-6.25zM444.0 896.8h6.25v6.25h-6.25zM413.0 903.0h6.25v6.25h-6.25zM437.8 903.0h6.25v6.25h-6.25zM406.8 909.2h6.25v6.25h-6.25zM413.0 915.4h6.25v6.25h-6.25zM419.2 915.4h6.25v6.25h-6.25zM425.4 915.4h6.25v6.25h-6.25zM493.5 872.0h6.25v6.25h-6.25zM487.3 896.8h6.25v6.25h-6.25zM499.7 896.8h6.25v6.25h-6.25zM499.7 903.0h6.25v6.25h-6.25zM499.7 909.2h6.25v6.25h-6.25zM493.5 915.4h6.25v6.25h-6.25z"/><path fill="#919191" d="M400.6 816.3h6.25v6.25h-6.25zM406.8 816.3h6.25v6.25h-6.25zM413.0 816.3h6.25v6.25h-6.25zM419.2 816.3h6.25v6.25h-6.25zM437.8 816.3h6.25v6.25h-6.25zM400.6 822.5h6.25v6.25h-6.25zM406.8 822.5h6.25v6.25h-6.25zM413.0 822.5h6.25v6.25h-6.25zM413.0 828.7h6.25v6.25h-6.25zM444.0 828.7h6.25v6.25h-6.25zM419.2 841.1h6.25v6.25h-6.25zM425.4 853.5h6.25v6.25h-6.25zM425.4 859.7h6.25v6.25h-6.25zM431.6 859.7h6.25v6.25h-6.25zM437.8 859.7h6.25v6.25h-6.25zM444.0 859.7h6.25v6.25h-6.25zM456.3 816.3h6.25v6.25h-6.25zM462.5 816.3h6.25v6.25h-6.25zM468.7 816.3h6.25v6.25h-6.25zM474.9 816.3h6.25v6.25h-6.25zM481.1 816.3h6.25v6.25h-6.25zM499.7 816.3h6.25v6.25h-6.25zM456.3 822.5h6.25v6.25h-6.25zM456.3 828.7h6.25v6.25h-6.25zM456.3 834.9h6.25v6.25h-6.25zM487.3 834.9h6.25v6.25h-6.25zM456.3 841.1h6.25v6.25h-6.25zM487.3 841.1h6.25v6.25h-6.25zM456.3 847.3h6.25v6.25h-6.25zM456.3 853.5h6.25v6.25h-6.25zM462.5 853.5h6.25v6.25h-6.25zM493.5 853.5h6.25v6.25h-6.25zM499.7 853.5h6.25v6.25h-6.25zM456.3 859.7h6.25v6.25h-6.25zM462.5 859.7h6.25v6.25h-6.25zM487.3 859.7h6.25v6.25h-6.25zM493.5 859.7h6.25v6.25h-6.25zM499.7 859.7h6.25v6.25h-6.25zM400.6 872.0h6.25v6.25h-6.25zM406.8 872.0h6.25v6.25h-6.25zM413.0 872.0h6.25v6.25h-6.25zM444.0 872.0h6.25v6.25h-6.25zM400.6 878.2h6.25v6.25h-6.25zM437.8 878.2h6.25v6.25h-6.25zM444.0 878.2h6.25v6.25h-6.25zM431.6 884.4h6.25v6.25h-6.25zM425.4 890.6h6.25v6.25h-6.25zM406.8 903.0h6.25v6.25h-6.25zM444.0 903.0h6.25v6.25h-6.25zM400.6 909.2h6.25v6.25h-6.25zM437.8 909.2h6.25v6.25h-6.25zM444.0 909.2h6.25v6.25h-6.25zM400.6 915.4h6.25v6.25h-6.25zM406.8 915.4h6.25v6.25h-6.25zM431.6 915.4h6.25v6.25h-6.25zM437.8 915.4h6.25v6.25h-6.25zM444.0 915.4h6.25v6.25h-6.25zM456.3 872.0h6.25v6.25h-6.25zM462.5 872.0h6.25v6.25h-6.25zM468.7 872.0h6.25v6.25h-6.25zM474.9 872.0h6.25v6.25h-6.25zM456.3 878.2h6.25v6.25h-6.25zM462.5 878.2h6.25v6.25h-6.25zM468.7 878.2h6.25v6.25h-6.25zM456.3 884.4h6.25v6.25h-6.25zM462.5 884.4h6.25v6.25h-6.25zM468.7 884.4h6.25v6.25h-6.25zM456.3 890.6h6.25v6.25h-6.25zM462.5 890.6h6.25v6.25h-6.25zM468.7 890.6h6.25v6.25h-6.25zM499.7 890.6h6.25v6.25h-6.25zM456.3 896.8h6.25v6.25h-6.25zM462.5 896.8h6.25v6.25h-6.25zM468.7 896.8h6.25v6.25h-6.25zM456.3 903.0h6.25v6.25h-6.25zM462.5 903.0h6.25v6.25h-6.25zM468.7 903.0h6.25v6.25h-6.25zM474.9 903.0h6.25v6.25h-6.25zM487.3 903.0h6.25v6.25h-6.25zM456.3 909.2h6.25v6.25h-6.25zM462.5 909.2h6.25v6.25h-6.25zM468.7 909.2h6.25v6.25h-6.25zM474.9 909.2h6.25v6.25h-6.25zM487.3 909.2h6.25v6.25h-6.25zM456.3 915.4h6.25v6.25h-6.25zM462.5 915.4h6.25v6.25h-6.25zM468.7 915.4h6.25v6.25h-6.25zM474.9 915.4h6.25v6.25h-6.25zM481.1 915.4h6.25v6.25h-6.25zM487.3 915.4h6.25v6.25h-6.25zM499.7 915.4h6.25v6.25h-6.25z"/><path fill="#a1a1a1" d="M444.0 816.3h6.25v6.25h-6.25zM444.0 822.5h6.25v6.25h-6.25zM400.6 828.7h6.25v6.25h-6.25zM406.8 828.7h6.25v6.25h-6.25zM400.6 834.9h6.25v6.25h-6.25zM413.0 834.9h6.25v6.25h-6.25zM419.2 847.3h6.25v6.25h-6.25zM400.6 853.5h6.25v6.25h-6.25zM419.2 853.5h6.25v6.25h-6.25zM400.6 859.7h6.25v6.25h-6.25zM406.8 859.7h6.25v6.25h-6.25zM413.0 859.7h6.25v6.25h-6.25zM419.2 859.7h6.25v6.25h-6.25zM487.3 816.3h6.25v6.25h-6.25zM493.5 816.3h6.25v6.25h-6.25zM487.3 822.5h6.25v6.25h-6.25zM499.7 822.5h6.25v6.25h-6.25zM487.3 828.7h6.25v6.25h-6.25zM499.7 828.7h6.25v6.25h-6.25zM493.5 847.3h6.25v6.25h-6.25zM499.7 847.3h6.25v6.25h-6.25zM419.2 872.0h6.25v6.25h-6.25zM425.4 872.0h6.25v6.25h-6.25zM431.6 872.0h6.25v6.25h-6.25zM437.8 872.0h6.25v6.25h-6.25zM406.8 878.2h6.25v6.25h-6.25zM413.0 878.2h6.25v6.25h-6.25zM431.6 878.2h6.25v6.25h-6.25zM400.6 884.4h6.25v6.25h-6.25zM413.0 896.8h6.25v6.25h-6.25zM400.6 903.0h6.25v6.25h-6.25zM481.1 872.0h6.25v6.25h-6.25zM499.7 872.0h6.25v6.25h-6.25zM474.9 878.2h6.25v6.25h-6.25zM499.7 878.2h6.25v6.25h-6.25zM474.9 884.4h6.25v6.25h-6.25zM499.7 884.4h6.25v6.25h-6.25zM474.9 890.6h6.25v6.25h-6.25zM474.9 896.8h6.25v6.25h-6.25zM481.1 909.2h6.25v6.25h-6.25z"/><path fill="#b1b1b1" d="M406.8 834.9h6.25v6.25h-6.25zM400.6 841.1h6.25v6.25h-6.25zM413.0 841.1h6.25v6.25h-6.25zM400.6 847.3h6.25v6.25h-6.25zM406.8 853.5h6.25v6.25h-6.25zM413.0 853.5h6.25v6.25h-6.25zM493.5 822.5h6.25v6.25h-6.25zM499.7 834.9h6.25v6.25h-6.25zM499.7 841.1h6.25v6.25h-6.25zM419.2 878.2h6.25v6.25h-6.25zM425.4 878.2h6.25v6.25h-6.25zM406.8 884.4h6.25v6.25h-6.25zM425.4 884.4h6.25v6.25h-6.25zM400.6 890.6h6.25v6.25h-6.25zM419.2 890.6h6.25v6.25h-6.25zM400.6 896.8h6.25v6.25h-6.25zM406.8 896.8h6.25v6.25h-6.25zM481.1 878.2h6.25v6.25h-6.25z"/><path fill="#c1c1c1" d="M406.8 841.1h6.25v6.25h-6.25zM406.8 847.3h6.25v6.25h-6.25zM413.0 847.3h6.25v6.25h-6.25zM493.5 828.7h6.25v6.25h-6.25zM493.5 834.9h6.25v6.25h-6.25zM493.5 841.1h6.25v6.25h-6.25zM413.0 884.4h6.25v6.25h-6.25zM419.2 884.4h6.25v6.25h-6.25zM406.8 890.6h6.25v6.25h-6.25zM413.0 890.6h6.25v6.25h-6.25zM481.1 903.0h6.25v6.25h-6.25z"/><path fill="#d1d1d1" d="M481.1 884.4h6.25v6.25h-6.25z"/><path fill="#e1e1e1" d="M481.1 890.6h6.25v6.25h-6.25zM481.1 896.8h6.25v6.25h-6.25z"/></g></g></g><rect x="450.20" y="816.30" width="6.10" height="105.30" fill="#000"/><rect x="400.60" y="865.90" width="105.30" height="6.10" fill="#000"/><rect x="401.00" y="816.70" width="104.50" height="104.50" fill="none" stroke="#555" stroke-width="0.8"/>
<g clip-path="url(#cp6)"><g filter="url(#pblur)"><rect x="572.50" y="683.10" width="111.30" height="111.30" fill="#919191"/><g shape-rendering="crispEdges"><path fill="#6f6f6f" d="M581.7 754.2h6.25v6.25h-6.25zM594.1 760.4h6.25v6.25h-6.25zM600.3 760.4h6.25v6.25h-6.25zM612.7 766.6h6.25v6.25h-6.25zM637.4 754.2h6.25v6.25h-6.25zM649.8 760.4h6.25v6.25h-6.25zM656.0 760.4h6.25v6.25h-6.25zM668.4 766.6h6.25v6.25h-6.25z"/><path fill="#7e7e7e" d="M606.5 698.5h6.25v6.25h-6.25zM612.7 698.5h6.25v6.25h-6.25zM575.5 710.9h6.25v6.25h-6.25zM581.7 710.9h6.25v6.25h-6.25zM581.7 717.1h6.25v6.25h-6.25zM587.9 717.1h6.25v6.25h-6.25zM594.1 717.1h6.25v6.25h-6.25zM600.3 723.3h6.25v6.25h-6.25zM606.5 723.3h6.25v6.25h-6.25zM662.2 698.5h6.25v6.25h-6.25zM668.4 698.5h6.25v6.25h-6.25zM631.2 710.9h6.25v6.25h-6.25zM637.4 710.9h6.25v6.25h-6.25zM637.4 717.1h6.25v6.25h-6.25zM643.6 717.1h6.25v6.25h-6.25zM649.8 717.1h6.25v6.25h-6.25zM656.0 723.3h6.25v6.25h-6.25zM662.2 723.3h6.25v6.25h-6.25zM575.5 754.2h6.25v6.25h-6.25zM587.9 754.2h6.25v6.25h-6.25zM587.9 760.4h6.25v6.25h-6.25zM600.3 766.6h6.25v6.25h-6.25zM606.5 766.6h6.25v6.25h-6.25zM612.7 772.8h6.25v6.25h-6.25zM618.9 772.8h6.25v6.25h-6.25zM631.2 754.2h6.25v6.25h-6.25zM643.6 754.2h6.25v6.25h-6.25zM643.6 760.4h6.25v6.25h-6.25zM656.0 766.6h6.25v6.25h-6.25zM662.2 766.6h6.25v6.25h-6.25zM668.4 772.8h6.25v6.25h-6.25zM674.6 772.8h6.25v6.25h-6.25z"/><path fill="#8d8d8d" d="M575.5 686.1h6.25v6.25h-6.25zM581.7 686.1h6.25v6.25h-6.25zM587.9 686.1h6.25v6.25h-6.25zM581.7 692.3h6.25v6.25h-6.25zM587.9 692.3h6.25v6.25h-6.25zM594.1 692.3h6.25v6.25h-6.25zM600.3 692.3h6.25v6.25h-6.25zM606.5 692.3h6.25v6.25h-6.25zM600.3 698.5h6.25v6.25h-6.25zM618.9 698.5h6.25v6.25h-6.25zM612.7 704.7h6.25v6.25h-6.25zM618.9 704.7h6.25v6.25h-6.25zM587.9 710.9h6.25v6.25h-6.25zM575.5 717.1h6.25v6.25h-6.25zM600.3 717.1h6.25v6.25h-6.25zM587.9 723.3h6.25v6.25h-6.25zM594.1 723.3h6.25v6.25h-6.25zM612.7 723.3h6.25v6.25h-6.25zM612.7 729.5h6.25v6.25h-6.25zM618.9 729.5h6.25v6.25h-6.25zM631.2 686.1h6.25v6.25h-6.25zM637.4 686.1h6.25v6.25h-6.25zM643.6 686.1h6.25v6.25h-6.25zM637.4 692.3h6.25v6.25h-6.25zM643.6 692.3h6.25v6.25h-6.25zM649.8 692.3h6.25v6.25h-6.25zM656.0 692.3h6.25v6.25h-6.25zM662.2 692.3h6.25v6.25h-6.25zM656.0 698.5h6.25v6.25h-6.25zM674.6 698.5h6.25v6.25h-6.25zM668.4 704.7h6.25v6.25h-6.25zM674.6 704.7h6.25v6.25h-6.25zM643.6 710.9h6.25v6.25h-6.25zM631.2 717.1h6.25v6.25h-6.25zM656.0 717.1h6.25v6.25h-6.25zM643.6 723.3h6.25v6.25h-6.25zM649.8 723.3h6.25v6.25h-6.25zM668.4 723.3h6.25v6.25h-6.25zM668.4 729.5h6.25v6.25h-6.25zM674.6 729.5h6.25v6.25h-6.25zM600.3 741.8h6.25v6.25h-6.25zM606.5 741.8h6.25v6.25h-6.25zM612.7 741.8h6.25v6.25h-6.25zM575.5 748.0h6.25v6.25h-6.25zM581.7 748.0h6.25v6.25h-6.25zM612.7 748.0h6.25v6.25h-6.25zM618.9 748.0h6.25v6.25h-6.25zM594.1 754.2h6.25v6.25h-6.25zM581.7 760.4h6.25v6.25h-6.25zM606.5 760.4h6.25v6.25h-6.25zM594.1 766.6h6.25v6.25h-6.25zM618.9 766.6h6.25v6.25h-6.25zM606.5 772.8h6.25v6.25h-6.25zM575.5 779.0h6.25v6.25h-6.25zM581.7 779.0h6.25v6.25h-6.25zM618.9 779.0h6.25v6.25h-6.25zM656.0 741.8h6.25v6.25h-6.25zM662.2 741.8h6.25v6.25h-6.25zM668.4 741.8h6.25v6.25h-6.25zM631.2 748.0h6.25v6.25h-6.25zM637.4 748.0h6.25v6.25h-6.25zM668.4 748.0h6.25v6.25h-6.25zM674.6 748.0h6.25v6.25h-6.25zM649.8 754.2h6.25v6.25h-6.25zM637.4 760.4h6.25v6.25h-6.25zM662.2 760.4h6.25v6.25h-6.25zM649.8 766.6h6.25v6.25h-6.25zM674.6 766.6h6.25v6.25h-6.25zM662.2 772.8h6.25v6.25h-6.25zM631.2 779.0h6.25v6.25h-6.25zM637.4 779.0h6.25v6.25h-6.25zM674.6 779.0h6.25v6.25h-6.25z"/><path fill="#9c9c9c" d="M594.1 686.1h6.25v6.25h-6.25zM600.3 686.1h6.25v6.25h-6.25zM606.5 686.1h6.25v6.25h-6.25zM612.7 686.1h6.25v6.25h-6.25zM618.9 686.1h6.25v6.25h-6.25zM575.5 692.3h6.25v6.25h-6.25zM612.7 692.3h6.25v6.25h-6.25zM618.9 692.3h6.25v6.25h-6.25zM587.9 698.5h6.25v6.25h-6.25zM594.1 698.5h6.25v6.25h-6.25zM575.5 704.7h6.25v6.25h-6.25zM606.5 704.7h6.25v6.25h-6.25zM594.1 710.9h6.25v6.25h-6.25zM606.5 717.1h6.25v6.25h-6.25zM575.5 723.3h6.25v6.25h-6.25zM581.7 723.3h6.25v6.25h-6.25zM618.9 723.3h6.25v6.25h-6.25zM575.5 729.5h6.25v6.25h-6.25zM581.7 729.5h6.25v6.25h-6.25zM587.9 729.5h6.25v6.25h-6.25zM594.1 729.5h6.25v6.25h-6.25zM600.3 729.5h6.25v6.25h-6.25zM606.5 729.5h6.25v6.25h-6.25zM649.8 686.1h6.25v6.25h-6.25zM656.0 686.1h6.25v6.25h-6.25zM662.2 686.1h6.25v6.25h-6.25zM668.4 686.1h6.25v6.25h-6.25zM674.6 686.1h6.25v6.25h-6.25zM631.2 692.3h6.25v6.25h-6.25zM668.4 692.3h6.25v6.25h-6.25zM674.6 692.3h6.25v6.25h-6.25zM643.6 698.5h6.25v6.25h-6.25zM649.8 698.5h6.25v6.25h-6.25zM631.2 704.7h6.25v6.25h-6.25zM662.2 704.7h6.25v6.25h-6.25zM649.8 710.9h6.25v6.25h-6.25zM662.2 717.1h6.25v6.25h-6.25zM631.2 723.3h6.25v6.25h-6.25zM637.4 723.3h6.25v6.25h-6.25zM674.6 723.3h6.25v6.25h-6.25zM631.2 729.5h6.25v6.25h-6.25zM637.4 729.5h6.25v6.25h-6.25zM643.6 729.5h6.25v6.25h-6.25zM649.8 729.5h6.25v6.25h-6.25zM656.0 729.5h6.25v6.25h-6.25zM662.2 729.5h6.25v6.25h-6.25zM575.5 741.8h6.25v6.25h-6.25zM581.7 741.8h6.25v6.25h-6.25zM587.9 741.8h6.25v6.25h-6.25zM594.1 741.8h6.25v6.25h-6.25zM618.9 741.8h6.25v6.25h-6.25zM587.9 748.0h6.25v6.25h-6.25zM606.5 748.0h6.25v6.25h-6.25zM600.3 754.2h6.25v6.25h-6.25zM575.5 760.4h6.25v6.25h-6.25zM612.7 760.4h6.25v6.25h-6.25zM587.9 766.6h6.25v6.25h-6.25zM575.5 772.8h6.25v6.25h-6.25zM600.3 772.8h6.25v6.25h-6.25zM587.9 779.0h6.25v6.25h-6.25zM594.1 779.0h6.25v6.25h-6.25zM612.7 779.0h6.25v6.25h-6.25zM575.5 785.2h6.25v6.25h-6.25zM581.7 785.2h6.25v6.25h-6.25zM587.9 785.2h6.25v6.25h-6.25zM594.1 785.2h6.25v6.25h-6.25zM600.3 785.2h6.25v6.25h-6.25zM606.5 785.2h6.25v6.25h-6.25zM612.7 785.2h6.25v6.25h-6.25zM618.9 785.2h6.25v6.25h-6.25zM631.2 741.8h6.25v6.25h-6.25zM637.4 741.8h6.25v6.25h-6.25zM643.6 741.8h6.25v6.25h-6.25zM649.8 741.8h6.25v6.25h-6.25zM674.6 741.8h6.25v6.25h-6.25zM643.6 748.0h6.25v6.25h-6.25zM662.2 748.0h6.25v6.25h-6.25zM656.0 754.2h6.25v6.25h-6.25zM631.2 760.4h6.25v6.25h-6.25zM668.4 760.4h6.25v6.25h-6.25zM643.6 766.6h6.25v6.25h-6.25zM631.2 772.8h6.25v6.25h-6.25zM656.0 772.8h6.25v6.25h-6.25zM643.6 779.0h6.25v6.25h-6.25zM649.8 779.0h6.25v6.25h-6.25zM668.4 779.0h6.25v6.25h-6.25zM631.2 785.2h6.25v6.25h-6.25zM637.4 785.2h6.25v6.25h-6.25zM643.6 785.2h6.25v6.25h-6.25zM649.8 785.2h6.25v6.25h-6.25zM656.0 785.2h6.25v6.25h-6.25zM662.2 785.2h6.25v6.25h-6.25zM668.4 785.2h6.25v6.25h-6.25zM674.6 785.2h6.25v6.25h-6.25z"/><path fill="#ababab" d="M575.5 698.5h6.25v6.25h-6.25zM581.7 698.5h6.25v6.25h-6.25zM581.7 704.7h6.25v6.25h-6.25zM600.3 704.7h6.25v6.25h-6.25zM618.9 710.9h6.25v6.25h-6.25zM631.2 698.5h6.25v6.25h-6.25zM637.4 698.5h6.25v6.25h-6.25zM637.4 704.7h6.25v6.25h-6.25zM656.0 704.7h6.25v6.25h-6.25zM674.6 710.9h6.25v6.25h-6.25zM594.1 748.0h6.25v6.25h-6.25zM600.3 748.0h6.25v6.25h-6.25zM606.5 754.2h6.25v6.25h-6.25zM612.7 754.2h6.25v6.25h-6.25zM618.9 754.2h6.25v6.25h-6.25zM618.9 760.4h6.25v6.25h-6.25zM575.5 766.6h6.25v6.25h-6.25zM581.7 766.6h6.25v6.25h-6.25zM581.7 772.8h6.25v6.25h-6.25zM587.9 772.8h6.25v6.25h-6.25zM594.1 772.8h6.25v6.25h-6.25zM600.3 779.0h6.25v6.25h-6.25zM606.5 779.0h6.25v6.25h-6.25zM649.8 748.0h6.25v6.25h-6.25zM656.0 748.0h6.25v6.25h-6.25zM662.2 754.2h6.25v6.25h-6.25zM668.4 754.2h6.25v6.25h-6.25zM674.6 754.2h6.25v6.25h-6.25zM674.6 760.4h6.25v6.25h-6.25zM631.2 766.6h6.25v6.25h-6.25zM637.4 766.6h6.25v6.25h-6.25zM637.4 772.8h6.25v6.25h-6.25zM643.6 772.8h6.25v6.25h-6.25zM649.8 772.8h6.25v6.25h-6.25zM656.0 779.0h6.25v6.25h-6.25zM662.2 779.0h6.25v6.25h-6.25z"/><path fill="#bababa" d="M587.9 704.7h6.25v6.25h-6.25zM594.1 704.7h6.25v6.25h-6.25zM600.3 710.9h6.25v6.25h-6.25zM606.5 710.9h6.25v6.25h-6.25zM612.7 710.9h6.25v6.25h-6.25zM612.7 717.1h6.25v6.25h-6.25zM618.9 717.1h6.25v6.25h-6.25zM643.6 704.7h6.25v6.25h-6.25zM649.8 704.7h6.25v6.25h-6.25zM656.0 710.9h6.25v6.25h-6.25zM662.2 710.9h6.25v6.25h-6.25zM668.4 710.9h6.25v6.25h-6.25zM668.4 717.1h6.25v6.25h-6.25zM674.6 717.1h6.25v6.25h-6.25z"/></g></g></g><rect x="625.10" y="686.10" width="6.10" height="105.30" fill="#000"/><rect x="575.50" y="735.70" width="105.30" height="6.10" fill="#000"/><rect x="575.90" y="686.50" width="104.50" height="104.50" fill="none" stroke="#555" stroke-width="0.8"/>
<g clip-path="url(#cp7)"><g filter="url(#pblur)"><rect x="702.30" y="683.10" width="111.30" height="111.30" fill="#919191"/><g shape-rendering="crispEdges"><path fill="#6f6f6f" d="M736.3 686.1h6.25v6.25h-6.25zM736.3 692.3h6.25v6.25h-6.25zM792.0 686.1h6.25v6.25h-6.25zM792.0 692.3h6.25v6.25h-6.25zM736.3 741.8h6.25v6.25h-6.25zM736.3 748.0h6.25v6.25h-6.25zM792.0 741.8h6.25v6.25h-6.25zM792.0 748.0h6.25v6.25h-6.25z"/><path fill="#7e7e7e" d="M736.3 698.5h6.25v6.25h-6.25zM736.3 704.7h6.25v6.25h-6.25zM792.0 698.5h6.25v6.25h-6.25zM792.0 704.7h6.25v6.25h-6.25zM736.3 754.2h6.25v6.25h-6.25zM736.3 760.4h6.25v6.25h-6.25zM792.0 754.2h6.25v6.25h-6.25zM792.0 760.4h6.25v6.25h-6.25z"/><path fill="#8d8d8d" d="M711.5 686.1h6.25v6.25h-6.25zM717.7 686.1h6.25v6.25h-6.25zM711.5 692.3h6.25v6.25h-6.25zM717.7 692.3h6.25v6.25h-6.25zM711.5 698.5h6.25v6.25h-6.25zM717.7 698.5h6.25v6.25h-6.25zM711.5 704.7h6.25v6.25h-6.25zM717.7 704.7h6.25v6.25h-6.25zM736.3 710.9h6.25v6.25h-6.25zM748.7 723.3h6.25v6.25h-6.25zM748.7 729.5h6.25v6.25h-6.25zM767.2 686.1h6.25v6.25h-6.25zM773.4 686.1h6.25v6.25h-6.25zM767.2 692.3h6.25v6.25h-6.25zM773.4 692.3h6.25v6.25h-6.25zM767.2 698.5h6.25v6.25h-6.25zM773.4 698.5h6.25v6.25h-6.25zM767.2 704.7h6.25v6.25h-6.25zM773.4 704.7h6.25v6.25h-6.25zM792.0 710.9h6.25v6.25h-6.25zM804.4 723.3h6.25v6.25h-6.25zM804.4 729.5h6.25v6.25h-6.25zM711.5 741.8h6.25v6.25h-6.25zM717.7 741.8h6.25v6.25h-6.25zM711.5 748.0h6.25v6.25h-6.25zM717.7 748.0h6.25v6.25h-6.25zM711.5 754.2h6.25v6.25h-6.25zM717.7 754.2h6.25v6.25h-6.25zM711.5 760.4h6.25v6.25h-6.25zM717.7 760.4h6.25v6.25h-6.25zM736.3 766.6h6.25v6.25h-6.25zM748.7 779.0h6.25v6.25h-6.25zM748.7 785.2h6.25v6.25h-6.25zM767.2 741.8h6.25v6.25h-6.25zM773.4 741.8h6.25v6.25h-6.25zM767.2 748.0h6.25v6.25h-6.25zM773.4 748.0h6.25v6.25h-6.25zM767.2 754.2h6.25v6.25h-6.25zM773.4 754.2h6.25v6.25h-6.25zM767.2 760.4h6.25v6.25h-6.25zM773.4 760.4h6.25v6.25h-6.25zM792.0 766.6h6.25v6.25h-6.25zM804.4 779.0h6.25v6.25h-6.25zM804.4 785.2h6.25v6.25h-6.25z"/><path fill="#9c9c9c" d="M730.1 686.1h6.25v6.25h-6.25zM742.5 686.1h6.25v6.25h-6.25zM730.1 692.3h6.25v6.25h-6.25zM742.5 692.3h6.25v6.25h-6.25zM730.1 698.5h6.25v6.25h-6.25zM742.5 698.5h6.25v6.25h-6.25zM730.1 704.7h6.25v6.25h-6.25zM742.5 704.7h6.25v6.25h-6.25zM705.3 710.9h6.25v6.25h-6.25zM711.5 710.9h6.25v6.25h-6.25zM717.7 710.9h6.25v6.25h-6.25zM723.9 710.9h6.25v6.25h-6.25zM730.1 710.9h6.25v6.25h-6.25zM742.5 710.9h6.25v6.25h-6.25zM748.7 710.9h6.25v6.25h-6.25zM705.3 717.1h6.25v6.25h-6.25zM711.5 717.1h6.25v6.25h-6.25zM717.7 717.1h6.25v6.25h-6.25zM723.9 717.1h6.25v6.25h-6.25zM730.1 717.1h6.25v6.25h-6.25zM736.3 717.1h6.25v6.25h-6.25zM742.5 717.1h6.25v6.25h-6.25zM748.7 717.1h6.25v6.25h-6.25zM705.3 723.3h6.25v6.25h-6.25zM711.5 723.3h6.25v6.25h-6.25zM742.5 723.3h6.25v6.25h-6.25zM705.3 729.5h6.25v6.25h-6.25zM711.5 729.5h6.25v6.25h-6.25zM742.5 729.5h6.25v6.25h-6.25zM785.8 686.1h6.25v6.25h-6.25zM798.2 686.1h6.25v6.25h-6.25zM785.8 692.3h6.25v6.25h-6.25zM798.2 692.3h6.25v6.25h-6.25zM785.8 698.5h6.25v6.25h-6.25zM798.2 698.5h6.25v6.25h-6.25zM785.8 704.7h6.25v6.25h-6.25zM798.2 704.7h6.25v6.25h-6.25zM761.0 710.9h6.25v6.25h-6.25zM767.2 710.9h6.25v6.25h-6.25zM773.4 710.9h6.25v6.25h-6.25zM779.6 710.9h6.25v6.25h-6.25zM785.8 710.9h6.25v6.25h-6.25zM798.2 710.9h6.25v6.25h-6.25zM804.4 710.9h6.25v6.25h-6.25zM761.0 717.1h6.25v6.25h-6.25zM767.2 717.1h6.25v6.25h-6.25zM773.4 717.1h6.25v6.25h-6.25zM779.6 717.1h6.25v6.25h-6.25zM785.8 717.1h6.25v6.25h-6.25zM792.0 717.1h6.25v6.25h-6.25zM798.2 717.1h6.25v6.25h-6.25zM804.4 717.1h6.25v6.25h-6.25zM761.0 723.3h6.25v6.25h-6.25zM767.2 723.3h6.25v6.25h-6.25zM798.2 723.3h6.25v6.25h-6.25zM761.0 729.5h6.25v6.25h-6.25zM767.2 729.5h6.25v6.25h-6.25zM798.2 729.5h6.25v6.25h-6.25zM730.1 741.8h6.25v6.25h-6.25zM742.5 741.8h6.25v6.25h-6.25zM730.1 748.0h6.25v6.25h-6.25zM742.5 748.0h6.25v6.25h-6.25zM730.1 754.2h6.25v6.25h-6.25zM742.5 754.2h6.25v6.25h-6.25zM730.1 760.4h6.25v6.25h-6.25zM742.5 760.4h6.25v6.25h-6.25zM705.3 766.6h6.25v6.25h-6.25zM711.5 766.6h6.25v6.25h-6.25zM717.7 766.6h6.25v6.25h-6.25zM723.9 766.6h6.25v6.25h-6.25zM730.1 766.6h6.25v6.25h-6.25zM742.5 766.6h6.25v6.25h-6.25zM748.7 766.6h6.25v6.25h-6.25zM705.3 772.8h6.25v6.25h-6.25zM711.5 772.8h6.25v6.25h-6.25zM717.7 772.8h6.25v6.25h-6.25zM723.9 772.8h6.25v6.25h-6.25zM730.1 772.8h6.25v6.25h-6.25zM736.3 772.8h6.25v6.25h-6.25zM742.5 772.8h6.25v6.25h-6.25zM748.7 772.8h6.25v6.25h-6.25zM705.3 779.0h6.25v6.25h-6.25zM711.5 779.0h6.25v6.25h-6.25zM742.5 779.0h6.25v6.25h-6.25zM705.3 785.2h6.25v6.25h-6.25zM711.5 785.2h6.25v6.25h-6.25zM742.5 785.2h6.25v6.25h-6.25zM785.8 741.8h6.25v6.25h-6.25zM798.2 741.8h6.25v6.25h-6.25zM785.8 748.0h6.25v6.25h-6.25zM798.2 748.0h6.25v6.25h-6.25zM785.8 754.2h6.25v6.25h-6.25zM798.2 754.2h6.25v6.25h-6.25zM785.8 760.4h6.25v6.25h-6.25zM798.2 760.4h6.25v6.25h-6.25zM761.0 766.6h6.25v6.25h-6.25zM767.2 766.6h6.25v6.25h-6.25zM773.4 766.6h6.25v6.25h-6.25zM779.6 766.6h6.25v6.25h-6.25zM785.8 766.6h6.25v6.25h-6.25zM798.2 766.6h6.25v6.25h-6.25zM804.4 766.6h6.25v6.25h-6.25zM761.0 772.8h6.25v6.25h-6.25zM767.2 772.8h6.25v6.25h-6.25zM773.4 772.8h6.25v6.25h-6.25zM779.6 772.8h6.25v6.25h-6.25zM785.8 772.8h6.25v6.25h-6.25zM792.0 772.8h6.25v6.25h-6.25zM798.2 772.8h6.25v6.25h-6.25zM804.4 772.8h6.25v6.25h-6.25zM761.0 779.0h6.25v6.25h-6.25zM767.2 779.0h6.25v6.25h-6.25zM798.2 779.0h6.25v6.25h-6.25zM761.0 785.2h6.25v6.25h-6.25zM767.2 785.2h6.25v6.25h-6.25zM798.2 785.2h6.25v6.25h-6.25z"/><path fill="#ababab" d="M705.3 704.7h6.25v6.25h-6.25zM748.7 704.7h6.25v6.25h-6.25zM717.7 723.3h6.25v6.25h-6.25zM723.9 723.3h6.25v6.25h-6.25zM730.1 723.3h6.25v6.25h-6.25zM736.3 723.3h6.25v6.25h-6.25zM717.7 729.5h6.25v6.25h-6.25zM723.9 729.5h6.25v6.25h-6.25zM730.1 729.5h6.25v6.25h-6.25zM736.3 729.5h6.25v6.25h-6.25zM761.0 704.7h6.25v6.25h-6.25zM804.4 704.7h6.25v6.25h-6.25zM773.4 723.3h6.25v6.25h-6.25zM779.6 723.3h6.25v6.25h-6.25zM785.8 723.3h6.25v6.25h-6.25zM792.0 723.3h6.25v6.25h-6.25zM773.4 729.5h6.25v6.25h-6.25zM779.6 729.5h6.25v6.25h-6.25zM785.8 729.5h6.25v6.25h-6.25zM792.0 729.5h6.25v6.25h-6.25zM705.3 760.4h6.25v6.25h-6.25zM748.7 760.4h6.25v6.25h-6.25zM717.7 779.0h6.25v6.25h-6.25zM723.9 779.0h6.25v6.25h-6.25zM730.1 779.0h6.25v6.25h-6.25zM736.3 779.0h6.25v6.25h-6.25zM717.7 785.2h6.25v6.25h-6.25zM723.9 785.2h6.25v6.25h-6.25zM730.1 785.2h6.25v6.25h-6.25zM736.3 785.2h6.25v6.25h-6.25zM761.0 760.4h6.25v6.25h-6.25zM804.4 760.4h6.25v6.25h-6.25zM773.4 779.0h6.25v6.25h-6.25zM779.6 779.0h6.25v6.25h-6.25zM785.8 779.0h6.25v6.25h-6.25zM792.0 779.0h6.25v6.25h-6.25zM773.4 785.2h6.25v6.25h-6.25zM779.6 785.2h6.25v6.25h-6.25zM785.8 785.2h6.25v6.25h-6.25zM792.0 785.2h6.25v6.25h-6.25z"/><path fill="#bababa" d="M705.3 686.1h6.25v6.25h-6.25zM748.7 686.1h6.25v6.25h-6.25zM705.3 692.3h6.25v6.25h-6.25zM748.7 692.3h6.25v6.25h-6.25zM705.3 698.5h6.25v6.25h-6.25zM723.9 698.5h6.25v6.25h-6.25zM748.7 698.5h6.25v6.25h-6.25zM723.9 704.7h6.25v6.25h-6.25zM761.0 686.1h6.25v6.25h-6.25zM804.4 686.1h6.25v6.25h-6.25zM761.0 692.3h6.25v6.25h-6.25zM804.4 692.3h6.25v6.25h-6.25zM761.0 698.5h6.25v6.25h-6.25zM779.6 698.5h6.25v6.25h-6.25zM804.4 698.5h6.25v6.25h-6.25zM779.6 704.7h6.25v6.25h-6.25zM705.3 741.8h6.25v6.25h-6.25zM748.7 741.8h6.25v6.25h-6.25zM705.3 748.0h6.25v6.25h-6.25zM748.7 748.0h6.25v6.25h-6.25zM705.3 754.2h6.25v6.25h-6.25zM723.9 754.2h6.25v6.25h-6.25zM748.7 754.2h6.25v6.25h-6.25zM723.9 760.4h6.25v6.25h-6.25zM761.0 741.8h6.25v6.25h-6.25zM804.4 741.8h6.25v6.25h-6.25zM761.0 748.0h6.25v6.25h-6.25zM804.4 748.0h6.25v6.25h-6.25zM761.0 754.2h6.25v6.25h-6.25zM779.6 754.2h6.25v6.25h-6.25zM804.4 754.2h6.25v6.25h-6.25zM779.6 760.4h6.25v6.25h-6.25z"/><path fill="#c9c9c9" d="M723.9 686.1h6.25v6.25h-6.25zM723.9 692.3h6.25v6.25h-6.25zM779.6 686.1h6.25v6.25h-6.25zM779.6 692.3h6.25v6.25h-6.25zM723.9 741.8h6.25v6.25h-6.25zM723.9 748.0h6.25v6.25h-6.25zM779.6 741.8h6.25v6.25h-6.25zM779.6 748.0h6.25v6.25h-6.25z"/></g></g></g><rect x="754.90" y="686.10" width="6.10" height="105.30" fill="#000"/><rect x="705.30" y="735.70" width="105.30" height="6.10" fill="#000"/><rect x="705.70" y="686.50" width="104.50" height="104.50" fill="none" stroke="#555" stroke-width="0.8"/>
<g clip-path="url(#cp8)"><g filter="url(#pblur)"><rect x="832.90" y="683.10" width="111.30" height="111.30" fill="#919191"/><g shape-rendering="crispEdges"><path fill="#606060" d="M879.3 704.7h6.25v6.25h-6.25zM879.3 710.9h6.25v6.25h-6.25zM935.0 704.7h6.25v6.25h-6.25zM935.0 710.9h6.25v6.25h-6.25zM879.3 760.4h6.25v6.25h-6.25zM879.3 766.6h6.25v6.25h-6.25zM935.0 760.4h6.25v6.25h-6.25zM935.0 766.6h6.25v6.25h-6.25z"/><path fill="#6f6f6f" d="M879.3 698.5h6.25v6.25h-6.25zM935.0 698.5h6.25v6.25h-6.25zM879.3 754.2h6.25v6.25h-6.25zM935.0 754.2h6.25v6.25h-6.25z"/><path fill="#7e7e7e" d="M860.7 698.5h6.25v6.25h-6.25zM860.7 704.7h6.25v6.25h-6.25zM860.7 710.9h6.25v6.25h-6.25zM916.4 698.5h6.25v6.25h-6.25zM916.4 704.7h6.25v6.25h-6.25zM916.4 710.9h6.25v6.25h-6.25zM860.7 754.2h6.25v6.25h-6.25zM860.7 760.4h6.25v6.25h-6.25zM860.7 766.6h6.25v6.25h-6.25zM916.4 754.2h6.25v6.25h-6.25zM916.4 760.4h6.25v6.25h-6.25zM916.4 766.6h6.25v6.25h-6.25z"/><path fill="#8d8d8d" d="M866.9 686.1h6.25v6.25h-6.25zM866.9 692.3h6.25v6.25h-6.25zM854.5 698.5h6.25v6.25h-6.25zM854.5 704.7h6.25v6.25h-6.25zM854.5 710.9h6.25v6.25h-6.25zM879.3 717.1h6.25v6.25h-6.25zM866.9 723.3h6.25v6.25h-6.25zM866.9 729.5h6.25v6.25h-6.25zM922.6 686.1h6.25v6.25h-6.25zM922.6 692.3h6.25v6.25h-6.25zM910.2 698.5h6.25v6.25h-6.25zM910.2 704.7h6.25v6.25h-6.25zM910.2 710.9h6.25v6.25h-6.25zM935.0 717.1h6.25v6.25h-6.25zM922.6 723.3h6.25v6.25h-6.25zM922.6 729.5h6.25v6.25h-6.25zM866.9 741.8h6.25v6.25h-6.25zM866.9 748.0h6.25v6.25h-6.25zM854.5 754.2h6.25v6.25h-6.25zM854.5 760.4h6.25v6.25h-6.25zM854.5 766.6h6.25v6.25h-6.25zM879.3 772.8h6.25v6.25h-6.25zM866.9 779.0h6.25v6.25h-6.25zM866.9 785.2h6.25v6.25h-6.25zM922.6 741.8h6.25v6.25h-6.25zM922.6 748.0h6.25v6.25h-6.25zM910.2 754.2h6.25v6.25h-6.25zM910.2 760.4h6.25v6.25h-6.25zM910.2 766.6h6.25v6.25h-6.25zM935.0 772.8h6.25v6.25h-6.25zM922.6 779.0h6.25v6.25h-6.25zM922.6 785.2h6.25v6.25h-6.25z"/><path fill="#9c9c9c" d="M835.9 686.1h6.25v6.25h-6.25zM842.1 686.1h6.25v6.25h-6.25zM848.3 686.1h6.25v6.25h-6.25zM860.7 686.1h6.25v6.25h-6.25zM873.1 686.1h6.25v6.25h-6.25zM835.9 692.3h6.25v6.25h-6.25zM842.1 692.3h6.25v6.25h-6.25zM848.3 692.3h6.25v6.25h-6.25zM860.7 692.3h6.25v6.25h-6.25zM873.1 692.3h6.25v6.25h-6.25zM835.9 698.5h6.25v6.25h-6.25zM842.1 698.5h6.25v6.25h-6.25zM848.3 698.5h6.25v6.25h-6.25zM835.9 704.7h6.25v6.25h-6.25zM842.1 704.7h6.25v6.25h-6.25zM848.3 704.7h6.25v6.25h-6.25zM835.9 710.9h6.25v6.25h-6.25zM842.1 710.9h6.25v6.25h-6.25zM848.3 710.9h6.25v6.25h-6.25zM835.9 717.1h6.25v6.25h-6.25zM842.1 717.1h6.25v6.25h-6.25zM848.3 717.1h6.25v6.25h-6.25zM854.5 717.1h6.25v6.25h-6.25zM860.7 717.1h6.25v6.25h-6.25zM835.9 723.3h6.25v6.25h-6.25zM842.1 723.3h6.25v6.25h-6.25zM848.3 723.3h6.25v6.25h-6.25zM860.7 723.3h6.25v6.25h-6.25zM873.1 723.3h6.25v6.25h-6.25zM835.9 729.5h6.25v6.25h-6.25zM842.1 729.5h6.25v6.25h-6.25zM848.3 729.5h6.25v6.25h-6.25zM860.7 729.5h6.25v6.25h-6.25zM873.1 729.5h6.25v6.25h-6.25zM891.6 686.1h6.25v6.25h-6.25zM897.8 686.1h6.25v6.25h-6.25zM904.0 686.1h6.25v6.25h-6.25zM916.4 686.1h6.25v6.25h-6.25zM928.8 686.1h6.25v6.25h-6.25zM891.6 692.3h6.25v6.25h-6.25zM897.8 692.3h6.25v6.25h-6.25zM904.0 692.3h6.25v6.25h-6.25zM916.4 692.3h6.25v6.25h-6.25zM928.8 692.3h6.25v6.25h-6.25zM891.6 698.5h6.25v6.25h-6.25zM897.8 698.5h6.25v6.25h-6.25zM904.0 698.5h6.25v6.25h-6.25zM891.6 704.7h6.25v6.25h-6.25zM897.8 704.7h6.25v6.25h-6.25zM904.0 704.7h6.25v6.25h-6.25zM891.6 710.9h6.25v6.25h-6.25zM897.8 710.9h6.25v6.25h-6.25zM904.0 710.9h6.25v6.25h-6.25zM891.6 717.1h6.25v6.25h-6.25zM897.8 717.1h6.25v6.25h-6.25zM904.0 717.1h6.25v6.25h-6.25zM910.2 717.1h6.25v6.25h-6.25zM916.4 717.1h6.25v6.25h-6.25zM891.6 723.3h6.25v6.25h-6.25zM897.8 723.3h6.25v6.25h-6.25zM904.0 723.3h6.25v6.25h-6.25zM916.4 723.3h6.25v6.25h-6.25zM928.8 723.3h6.25v6.25h-6.25zM891.6 729.5h6.25v6.25h-6.25zM897.8 729.5h6.25v6.25h-6.25zM904.0 729.5h6.25v6.25h-6.25zM916.4 729.5h6.25v6.25h-6.25zM928.8 729.5h6.25v6.25h-6.25zM835.9 741.8h6.25v6.25h-6.25zM842.1 741.8h6.25v6.25h-6.25zM848.3 741.8h6.25v6.25h-6.25zM860.7 741.8h6.25v6.25h-6.25zM873.1 741.8h6.25v6.25h-6.25zM835.9 748.0h6.25v6.25h-6.25zM842.1 748.0h6.25v6.25h-6.25zM848.3 748.0h6.25v6.25h-6.25zM860.7 748.0h6.25v6.25h-6.25zM873.1 748.0h6.25v6.25h-6.25zM835.9 754.2h6.25v6.25h-6.25zM842.1 754.2h6.25v6.25h-6.25zM848.3 754.2h6.25v6.25h-6.25zM835.9 760.4h6.25v6.25h-6.25zM842.1 760.4h6.25v6.25h-6.25zM848.3 760.4h6.25v6.25h-6.25zM835.9 766.6h6.25v6.25h-6.25zM842.1 766.6h6.25v6.25h-6.25zM848.3 766.6h6.25v6.25h-6.25zM835.9 772.8h6.25v6.25h-6.25zM842.1 772.8h6.25v6.25h-6.25zM848.3 772.8h6.25v6.25h-6.25zM854.5 772.8h6.25v6.25h-6.25zM860.7 772.8h6.25v6.25h-6.25zM835.9 779.0h6.25v6.25h-6.25zM842.1 779.0h6.25v6.25h-6.25zM848.3 779.0h6.25v6.25h-6.25zM860.7 779.0h6.25v6.25h-6.25zM873.1 779.0h6.25v6.25h-6.25zM835.9 785.2h6.25v6.25h-6.25zM842.1 785.2h6.25v6.25h-6.25zM848.3 785.2h6.25v6.25h-6.25zM860.7 785.2h6.25v6.25h-6.25zM873.1 785.2h6.25v6.25h-6.25zM891.6 741.8h6.25v6.25h-6.25zM897.8 741.8h6.25v6.25h-6.25zM904.0 741.8h6.25v6.25h-6.25zM916.4 741.8h6.25v6.25h-6.25zM928.8 741.8h6.25v6.25h-6.25zM891.6 748.0h6.25v6.25h-6.25zM897.8 748.0h6.25v6.25h-6.25zM904.0 748.0h6.25v6.25h-6.25zM916.4 748.0h6.25v6.25h-6.25zM928.8 748.0h6.25v6.25h-6.25zM891.6 754.2h6.25v6.25h-6.25zM897.8 754.2h6.25v6.25h-6.25zM904.0 754.2h6.25v6.25h-6.25zM891.6 760.4h6.25v6.25h-6.25zM897.8 760.4h6.25v6.25h-6.25zM904.0 760.4h6.25v6.25h-6.25zM891.6 766.6h6.25v6.25h-6.25zM897.8 766.6h6.25v6.25h-6.25zM904.0 766.6h6.25v6.25h-6.25zM891.6 772.8h6.25v6.25h-6.25zM897.8 772.8h6.25v6.25h-6.25zM904.0 772.8h6.25v6.25h-6.25zM910.2 772.8h6.25v6.25h-6.25zM916.4 772.8h6.25v6.25h-6.25zM891.6 779.0h6.25v6.25h-6.25zM897.8 779.0h6.25v6.25h-6.25zM904.0 779.0h6.25v6.25h-6.25zM916.4 779.0h6.25v6.25h-6.25zM928.8 779.0h6.25v6.25h-6.25zM891.6 785.2h6.25v6.25h-6.25zM897.8 785.2h6.25v6.25h-6.25zM904.0 785.2h6.25v6.25h-6.25zM916.4 785.2h6.25v6.25h-6.25zM928.8 785.2h6.25v6.25h-6.25z"/><path fill="#ababab" d="M854.5 686.1h6.25v6.25h-6.25zM879.3 686.1h6.25v6.25h-6.25zM854.5 692.3h6.25v6.25h-6.25zM879.3 692.3h6.25v6.25h-6.25zM866.9 698.5h6.25v6.25h-6.25zM873.1 698.5h6.25v6.25h-6.25zM866.9 717.1h6.25v6.25h-6.25zM873.1 717.1h6.25v6.25h-6.25zM854.5 723.3h6.25v6.25h-6.25zM879.3 723.3h6.25v6.25h-6.25zM854.5 729.5h6.25v6.25h-6.25zM879.3 729.5h6.25v6.25h-6.25zM910.2 686.1h6.25v6.25h-6.25zM935.0 686.1h6.25v6.25h-6.25zM910.2 692.3h6.25v6.25h-6.25zM935.0 692.3h6.25v6.25h-6.25zM922.6 698.5h6.25v6.25h-6.25zM928.8 698.5h6.25v6.25h-6.25zM922.6 717.1h6.25v6.25h-6.25zM928.8 717.1h6.25v6.25h-6.25zM910.2 723.3h6.25v6.25h-6.25zM935.0 723.3h6.25v6.25h-6.25zM910.2 729.5h6.25v6.25h-6.25zM935.0 729.5h6.25v6.25h-6.25zM854.5 741.8h6.25v6.25h-6.25zM879.3 741.8h6.25v6.25h-6.25zM854.5 748.0h6.25v6.25h-6.25zM879.3 748.0h6.25v6.25h-6.25zM866.9 754.2h6.25v6.25h-6.25zM873.1 754.2h6.25v6.25h-6.25zM866.9 772.8h6.25v6.25h-6.25zM873.1 772.8h6.25v6.25h-6.25zM854.5 779.0h6.25v6.25h-6.25zM879.3 779.0h6.25v6.25h-6.25zM854.5 785.2h6.25v6.25h-6.25zM879.3 785.2h6.25v6.25h-6.25zM910.2 741.8h6.25v6.25h-6.25zM935.0 741.8h6.25v6.25h-6.25zM910.2 748.0h6.25v6.25h-6.25zM935.0 748.0h6.25v6.25h-6.25zM922.6 754.2h6.25v6.25h-6.25zM928.8 754.2h6.25v6.25h-6.25zM922.6 772.8h6.25v6.25h-6.25zM928.8 772.8h6.25v6.25h-6.25zM910.2 779.0h6.25v6.25h-6.25zM935.0 779.0h6.25v6.25h-6.25zM910.2 785.2h6.25v6.25h-6.25zM935.0 785.2h6.25v6.25h-6.25z"/><path fill="#c9c9c9" d="M866.9 704.7h6.25v6.25h-6.25zM873.1 704.7h6.25v6.25h-6.25zM866.9 710.9h6.25v6.25h-6.25zM873.1 710.9h6.25v6.25h-6.25zM922.6 704.7h6.25v6.25h-6.25zM928.8 704.7h6.25v6.25h-6.25zM922.6 710.9h6.25v6.25h-6.25zM928.8 710.9h6.25v6.25h-6.25zM866.9 760.4h6.25v6.25h-6.25zM873.1 760.4h6.25v6.25h-6.25zM866.9 766.6h6.25v6.25h-6.25zM873.1 766.6h6.25v6.25h-6.25zM922.6 760.4h6.25v6.25h-6.25zM928.8 760.4h6.25v6.25h-6.25zM922.6 766.6h6.25v6.25h-6.25zM928.8 766.6h6.25v6.25h-6.25z"/></g></g></g><rect x="885.50" y="686.10" width="6.10" height="105.30" fill="#000"/><rect x="835.90" y="735.70" width="105.30" height="6.10" fill="#000"/><rect x="836.30" y="686.50" width="104.50" height="104.50" fill="none" stroke="#555" stroke-width="0.8"/>
<g clip-path="url(#cp9)"><g filter="url(#pblur)"><rect x="572.50" y="813.30" width="111.30" height="111.30" fill="#919191"/><g shape-rendering="crispEdges"><path fill="#7e7e7e" d="M575.5 847.3h6.25v6.25h-6.25zM581.7 847.3h6.25v6.25h-6.25zM587.9 847.3h6.25v6.25h-6.25zM594.1 847.3h6.25v6.25h-6.25zM600.3 847.3h6.25v6.25h-6.25zM606.5 847.3h6.25v6.25h-6.25zM612.7 847.3h6.25v6.25h-6.25zM618.9 847.3h6.25v6.25h-6.25zM575.5 853.5h6.25v6.25h-6.25zM581.7 853.5h6.25v6.25h-6.25zM587.9 853.5h6.25v6.25h-6.25zM594.1 853.5h6.25v6.25h-6.25zM600.3 853.5h6.25v6.25h-6.25zM606.5 853.5h6.25v6.25h-6.25zM612.7 853.5h6.25v6.25h-6.25zM618.9 853.5h6.25v6.25h-6.25zM631.2 847.3h6.25v6.25h-6.25zM637.4 847.3h6.25v6.25h-6.25zM643.6 847.3h6.25v6.25h-6.25zM649.8 847.3h6.25v6.25h-6.25zM656.0 847.3h6.25v6.25h-6.25zM662.2 847.3h6.25v6.25h-6.25zM668.4 847.3h6.25v6.25h-6.25zM674.6 847.3h6.25v6.25h-6.25zM631.2 853.5h6.25v6.25h-6.25zM637.4 853.5h6.25v6.25h-6.25zM643.6 853.5h6.25v6.25h-6.25zM649.8 853.5h6.25v6.25h-6.25zM656.0 853.5h6.25v6.25h-6.25zM662.2 853.5h6.25v6.25h-6.25zM668.4 853.5h6.25v6.25h-6.25zM674.6 853.5h6.25v6.25h-6.25zM575.5 903.0h6.25v6.25h-6.25zM581.7 903.0h6.25v6.25h-6.25zM587.9 903.0h6.25v6.25h-6.25zM594.1 903.0h6.25v6.25h-6.25zM600.3 903.0h6.25v6.25h-6.25zM606.5 903.0h6.25v6.25h-6.25zM612.7 903.0h6.25v6.25h-6.25zM618.9 903.0h6.25v6.25h-6.25zM575.5 909.2h6.25v6.25h-6.25zM581.7 909.2h6.25v6.25h-6.25zM587.9 909.2h6.25v6.25h-6.25zM594.1 909.2h6.25v6.25h-6.25zM600.3 909.2h6.25v6.25h-6.25zM606.5 909.2h6.25v6.25h-6.25zM612.7 909.2h6.25v6.25h-6.25zM618.9 909.2h6.25v6.25h-6.25zM631.2 903.0h6.25v6.25h-6.25zM637.4 903.0h6.25v6.25h-6.25zM643.6 903.0h6.25v6.25h-6.25zM649.8 903.0h6.25v6.25h-6.25zM656.0 903.0h6.25v6.25h-6.25zM662.2 903.0h6.25v6.25h-6.25zM668.4 903.0h6.25v6.25h-6.25zM674.6 903.0h6.25v6.25h-6.25zM631.2 909.2h6.25v6.25h-6.25zM637.4 909.2h6.25v6.25h-6.25zM643.6 909.2h6.25v6.25h-6.25zM649.8 909.2h6.25v6.25h-6.25zM656.0 909.2h6.25v6.25h-6.25zM662.2 909.2h6.25v6.25h-6.25zM668.4 909.2h6.25v6.25h-6.25zM674.6 909.2h6.25v6.25h-6.25z"/><path fill="#9c9c9c" d="M575.5 816.3h6.25v6.25h-6.25zM581.7 816.3h6.25v6.25h-6.25zM587.9 816.3h6.25v6.25h-6.25zM594.1 816.3h6.25v6.25h-6.25zM600.3 816.3h6.25v6.25h-6.25zM606.5 816.3h6.25v6.25h-6.25zM612.7 816.3h6.25v6.25h-6.25zM618.9 816.3h6.25v6.25h-6.25zM575.5 822.5h6.25v6.25h-6.25zM581.7 822.5h6.25v6.25h-6.25zM587.9 822.5h6.25v6.25h-6.25zM594.1 822.5h6.25v6.25h-6.25zM600.3 822.5h6.25v6.25h-6.25zM606.5 822.5h6.25v6.25h-6.25zM612.7 822.5h6.25v6.25h-6.25zM618.9 822.5h6.25v6.25h-6.25zM575.5 828.7h6.25v6.25h-6.25zM581.7 828.7h6.25v6.25h-6.25zM587.9 828.7h6.25v6.25h-6.25zM594.1 828.7h6.25v6.25h-6.25zM600.3 828.7h6.25v6.25h-6.25zM606.5 828.7h6.25v6.25h-6.25zM612.7 828.7h6.25v6.25h-6.25zM618.9 828.7h6.25v6.25h-6.25zM631.2 816.3h6.25v6.25h-6.25zM637.4 816.3h6.25v6.25h-6.25zM643.6 816.3h6.25v6.25h-6.25zM649.8 816.3h6.25v6.25h-6.25zM656.0 816.3h6.25v6.25h-6.25zM662.2 816.3h6.25v6.25h-6.25zM668.4 816.3h6.25v6.25h-6.25zM674.6 816.3h6.25v6.25h-6.25zM631.2 822.5h6.25v6.25h-6.25zM637.4 822.5h6.25v6.25h-6.25zM643.6 822.5h6.25v6.25h-6.25zM649.8 822.5h6.25v6.25h-6.25zM656.0 822.5h6.25v6.25h-6.25zM662.2 822.5h6.25v6.25h-6.25zM668.4 822.5h6.25v6.25h-6.25zM674.6 822.5h6.25v6.25h-6.25zM631.2 828.7h6.25v6.25h-6.25zM637.4 828.7h6.25v6.25h-6.25zM643.6 828.7h6.25v6.25h-6.25zM649.8 828.7h6.25v6.25h-6.25zM656.0 828.7h6.25v6.25h-6.25zM662.2 828.7h6.25v6.25h-6.25zM668.4 828.7h6.25v6.25h-6.25zM674.6 828.7h6.25v6.25h-6.25zM575.5 872.0h6.25v6.25h-6.25zM581.7 872.0h6.25v6.25h-6.25zM587.9 872.0h6.25v6.25h-6.25zM594.1 872.0h6.25v6.25h-6.25zM600.3 872.0h6.25v6.25h-6.25zM606.5 872.0h6.25v6.25h-6.25zM612.7 872.0h6.25v6.25h-6.25zM618.9 872.0h6.25v6.25h-6.25zM575.5 878.2h6.25v6.25h-6.25zM581.7 878.2h6.25v6.25h-6.25zM587.9 878.2h6.25v6.25h-6.25zM594.1 878.2h6.25v6.25h-6.25zM600.3 878.2h6.25v6.25h-6.25zM606.5 878.2h6.25v6.25h-6.25zM612.7 878.2h6.25v6.25h-6.25zM618.9 878.2h6.25v6.25h-6.25zM575.5 884.4h6.25v6.25h-6.25zM581.7 884.4h6.25v6.25h-6.25zM587.9 884.4h6.25v6.25h-6.25zM594.1 884.4h6.25v6.25h-6.25zM600.3 884.4h6.25v6.25h-6.25zM606.5 884.4h6.25v6.25h-6.25zM612.7 884.4h6.25v6.25h-6.25zM618.9 884.4h6.25v6.25h-6.25zM631.2 872.0h6.25v6.25h-6.25zM637.4 872.0h6.25v6.25h-6.25zM643.6 872.0h6.25v6.25h-6.25zM649.8 872.0h6.25v6.25h-6.25zM656.0 872.0h6.25v6.25h-6.25zM662.2 872.0h6.25v6.25h-6.25zM668.4 872.0h6.25v6.25h-6.25zM674.6 872.0h6.25v6.25h-6.25zM631.2 878.2h6.25v6.25h-6.25zM637.4 878.2h6.25v6.25h-6.25zM643.6 878.2h6.25v6.25h-6.25zM649.8 878.2h6.25v6.25h-6.25zM656.0 878.2h6.25v6.25h-6.25zM662.2 878.2h6.25v6.25h-6.25zM668.4 878.2h6.25v6.25h-6.25zM674.6 878.2h6.25v6.25h-6.25zM631.2 884.4h6.25v6.25h-6.25zM637.4 884.4h6.25v6.25h-6.25zM643.6 884.4h6.25v6.25h-6.25zM649.8 884.4h6.25v6.25h-6.25zM656.0 884.4h6.25v6.25h-6.25zM662.2 884.4h6.25v6.25h-6.25zM668.4 884.4h6.25v6.25h-6.25zM674.6 884.4h6.25v6.25h-6.25z"/><path fill="#ababab" d="M575.5 834.9h6.25v6.25h-6.25zM581.7 834.9h6.25v6.25h-6.25zM587.9 834.9h6.25v6.25h-6.25zM594.1 834.9h6.25v6.25h-6.25zM600.3 834.9h6.25v6.25h-6.25zM606.5 834.9h6.25v6.25h-6.25zM612.7 834.9h6.25v6.25h-6.25zM618.9 834.9h6.25v6.25h-6.25zM575.5 841.1h6.25v6.25h-6.25zM581.7 841.1h6.25v6.25h-6.25zM587.9 841.1h6.25v6.25h-6.25zM594.1 841.1h6.25v6.25h-6.25zM600.3 841.1h6.25v6.25h-6.25zM606.5 841.1h6.25v6.25h-6.25zM612.7 841.1h6.25v6.25h-6.25zM618.9 841.1h6.25v6.25h-6.25zM575.5 859.7h6.25v6.25h-6.25zM581.7 859.7h6.25v6.25h-6.25zM587.9 859.7h6.25v6.25h-6.25zM594.1 859.7h6.25v6.25h-6.25zM600.3 859.7h6.25v6.25h-6.25zM606.5 859.7h6.25v6.25h-6.25zM612.7 859.7h6.25v6.25h-6.25zM618.9 859.7h6.25v6.25h-6.25zM631.2 834.9h6.25v6.25h-6.25zM637.4 834.9h6.25v6.25h-6.25zM643.6 834.9h6.25v6.25h-6.25zM649.8 834.9h6.25v6.25h-6.25zM656.0 834.9h6.25v6.25h-6.25zM662.2 834.9h6.25v6.25h-6.25zM668.4 834.9h6.25v6.25h-6.25zM674.6 834.9h6.25v6.25h-6.25zM631.2 841.1h6.25v6.25h-6.25zM637.4 841.1h6.25v6.25h-6.25zM643.6 841.1h6.25v6.25h-6.25zM649.8 841.1h6.25v6.25h-6.25zM656.0 841.1h6.25v6.25h-6.25zM662.2 841.1h6.25v6.25h-6.25zM668.4 841.1h6.25v6.25h-6.25zM674.6 841.1h6.25v6.25h-6.25zM631.2 859.7h6.25v6.25h-6.25zM637.4 859.7h6.25v6.25h-6.25zM643.6 859.7h6.25v6.25h-6.25zM649.8 859.7h6.25v6.25h-6.25zM656.0 859.7h6.25v6.25h-6.25zM662.2 859.7h6.25v6.25h-6.25zM668.4 859.7h6.25v6.25h-6.25zM674.6 859.7h6.25v6.25h-6.25zM575.5 890.6h6.25v6.25h-6.25zM581.7 890.6h6.25v6.25h-6.25zM587.9 890.6h6.25v6.25h-6.25zM594.1 890.6h6.25v6.25h-6.25zM600.3 890.6h6.25v6.25h-6.25zM606.5 890.6h6.25v6.25h-6.25zM612.7 890.6h6.25v6.25h-6.25zM618.9 890.6h6.25v6.25h-6.25zM575.5 896.8h6.25v6.25h-6.25zM581.7 896.8h6.25v6.25h-6.25zM587.9 896.8h6.25v6.25h-6.25zM594.1 896.8h6.25v6.25h-6.25zM600.3 896.8h6.25v6.25h-6.25zM606.5 896.8h6.25v6.25h-6.25zM612.7 896.8h6.25v6.25h-6.25zM618.9 896.8h6.25v6.25h-6.25zM575.5 915.4h6.25v6.25h-6.25zM581.7 915.4h6.25v6.25h-6.25zM587.9 915.4h6.25v6.25h-6.25zM594.1 915.4h6.25v6.25h-6.25zM600.3 915.4h6.25v6.25h-6.25zM606.5 915.4h6.25v6.25h-6.25zM612.7 915.4h6.25v6.25h-6.25zM618.9 915.4h6.25v6.25h-6.25zM631.2 890.6h6.25v6.25h-6.25zM637.4 890.6h6.25v6.25h-6.25zM643.6 890.6h6.25v6.25h-6.25zM649.8 890.6h6.25v6.25h-6.25zM656.0 890.6h6.25v6.25h-6.25zM662.2 890.6h6.25v6.25h-6.25zM668.4 890.6h6.25v6.25h-6.25zM674.6 890.6h6.25v6.25h-6.25zM631.2 896.8h6.25v6.25h-6.25zM637.4 896.8h6.25v6.25h-6.25zM643.6 896.8h6.25v6.25h-6.25zM649.8 896.8h6.25v6.25h-6.25zM656.0 896.8h6.25v6.25h-6.25zM662.2 896.8h6.25v6.25h-6.25zM668.4 896.8h6.25v6.25h-6.25zM674.6 896.8h6.25v6.25h-6.25zM631.2 915.4h6.25v6.25h-6.25zM637.4 915.4h6.25v6.25h-6.25zM643.6 915.4h6.25v6.25h-6.25zM649.8 915.4h6.25v6.25h-6.25zM656.0 915.4h6.25v6.25h-6.25zM662.2 915.4h6.25v6.25h-6.25zM668.4 915.4h6.25v6.25h-6.25zM674.6 915.4h6.25v6.25h-6.25z"/></g></g></g><rect x="625.10" y="816.30" width="6.10" height="105.30" fill="#000"/><rect x="575.50" y="865.90" width="105.30" height="6.10" fill="#000"/><rect x="575.90" y="816.70" width="104.50" height="104.50" fill="none" stroke="#555" stroke-width="0.8"/>
<g clip-path="url(#cp10)"><g filter="url(#pblur)"><rect x="702.30" y="813.30" width="111.30" height="111.30" fill="#919191"/><g shape-rendering="crispEdges"><path fill="#6f6f6f" d="M792.0 816.3h6.25v6.25h-6.25zM792.0 822.5h6.25v6.25h-6.25zM792.0 828.7h6.25v6.25h-6.25zM792.0 834.9h6.25v6.25h-6.25zM792.0 841.1h6.25v6.25h-6.25zM792.0 847.3h6.25v6.25h-6.25zM792.0 853.5h6.25v6.25h-6.25zM792.0 859.7h6.25v6.25h-6.25z"/><path fill="#7e7e7e" d="M742.5 816.3h6.25v6.25h-6.25zM748.7 816.3h6.25v6.25h-6.25zM742.5 822.5h6.25v6.25h-6.25zM748.7 822.5h6.25v6.25h-6.25zM742.5 828.7h6.25v6.25h-6.25zM748.7 828.7h6.25v6.25h-6.25zM742.5 834.9h6.25v6.25h-6.25zM748.7 834.9h6.25v6.25h-6.25zM742.5 841.1h6.25v6.25h-6.25zM748.7 841.1h6.25v6.25h-6.25zM742.5 847.3h6.25v6.25h-6.25zM748.7 847.3h6.25v6.25h-6.25zM742.5 853.5h6.25v6.25h-6.25zM748.7 853.5h6.25v6.25h-6.25zM742.5 859.7h6.25v6.25h-6.25zM748.7 859.7h6.25v6.25h-6.25z"/><path fill="#8d8d8d" d="M785.8 816.3h6.25v6.25h-6.25zM785.8 822.5h6.25v6.25h-6.25zM785.8 828.7h6.25v6.25h-6.25zM785.8 834.9h6.25v6.25h-6.25zM785.8 841.1h6.25v6.25h-6.25zM785.8 847.3h6.25v6.25h-6.25zM785.8 853.5h6.25v6.25h-6.25zM785.8 859.7h6.25v6.25h-6.25zM723.9 872.0h6.25v6.25h-6.25zM723.9 878.2h6.25v6.25h-6.25zM723.9 884.4h6.25v6.25h-6.25zM723.9 890.6h6.25v6.25h-6.25zM723.9 896.8h6.25v6.25h-6.25zM723.9 903.0h6.25v6.25h-6.25zM723.9 909.2h6.25v6.25h-6.25zM723.9 915.4h6.25v6.25h-6.25zM773.4 872.0h6.25v6.25h-6.25zM779.6 872.0h6.25v6.25h-6.25zM773.4 878.2h6.25v6.25h-6.25zM779.6 878.2h6.25v6.25h-6.25zM773.4 884.4h6.25v6.25h-6.25zM779.6 884.4h6.25v6.25h-6.25zM773.4 890.6h6.25v6.25h-6.25zM779.6 890.6h6.25v6.25h-6.25zM773.4 896.8h6.25v6.25h-6.25zM779.6 896.8h6.25v6.25h-6.25zM773.4 903.0h6.25v6.25h-6.25zM779.6 903.0h6.25v6.25h-6.25zM773.4 909.2h6.25v6.25h-6.25zM779.6 909.2h6.25v6.25h-6.25zM773.4 915.4h6.25v6.25h-6.25zM779.6 915.4h6.25v6.25h-6.25z"/><path fill="#9c9c9c" d="M705.3 816.3h6.25v6.25h-6.25zM711.5 816.3h6.25v6.25h-6.25zM717.7 816.3h6.25v6.25h-6.25zM723.9 816.3h6.25v6.25h-6.25zM705.3 822.5h6.25v6.25h-6.25zM711.5 822.5h6.25v6.25h-6.25zM717.7 822.5h6.25v6.25h-6.25zM723.9 822.5h6.25v6.25h-6.25zM705.3 828.7h6.25v6.25h-6.25zM711.5 828.7h6.25v6.25h-6.25zM717.7 828.7h6.25v6.25h-6.25zM723.9 828.7h6.25v6.25h-6.25zM705.3 834.9h6.25v6.25h-6.25zM711.5 834.9h6.25v6.25h-6.25zM717.7 834.9h6.25v6.25h-6.25zM723.9 834.9h6.25v6.25h-6.25zM705.3 841.1h6.25v6.25h-6.25zM711.5 841.1h6.25v6.25h-6.25zM717.7 841.1h6.25v6.25h-6.25zM723.9 841.1h6.25v6.25h-6.25zM705.3 847.3h6.25v6.25h-6.25zM711.5 847.3h6.25v6.25h-6.25zM717.7 847.3h6.25v6.25h-6.25zM723.9 847.3h6.25v6.25h-6.25zM705.3 853.5h6.25v6.25h-6.25zM711.5 853.5h6.25v6.25h-6.25zM717.7 853.5h6.25v6.25h-6.25zM723.9 853.5h6.25v6.25h-6.25zM705.3 859.7h6.25v6.25h-6.25zM711.5 859.7h6.25v6.25h-6.25zM717.7 859.7h6.25v6.25h-6.25zM723.9 859.7h6.25v6.25h-6.25zM761.0 816.3h6.25v6.25h-6.25zM798.2 816.3h6.25v6.25h-6.25zM761.0 822.5h6.25v6.25h-6.25zM798.2 822.5h6.25v6.25h-6.25zM761.0 828.7h6.25v6.25h-6.25zM798.2 828.7h6.25v6.25h-6.25zM761.0 834.9h6.25v6.25h-6.25zM798.2 834.9h6.25v6.25h-6.25zM761.0 841.1h6.25v6.25h-6.25zM798.2 841.1h6.25v6.25h-6.25zM761.0 847.3h6.25v6.25h-6.25zM798.2 847.3h6.25v6.25h-6.25zM761.0 853.5h6.25v6.25h-6.25zM798.2 853.5h6.25v6.25h-6.25zM761.0 859.7h6.25v6.25h-6.25zM798.2 859.7h6.25v6.25h-6.25zM705.3 872.0h6.25v6.25h-6.25zM711.5 872.0h6.25v6.25h-6.25zM717.7 872.0h6.25v6.25h-6.25zM730.1 872.0h6.25v6.25h-6.25zM748.7 872.0h6.25v6.25h-6.25zM705.3 878.2h6.25v6.25h-6.25zM711.5 878.2h6.25v6.25h-6.25zM717.7 878.2h6.25v6.25h-6.25zM730.1 878.2h6.25v6.25h-6.25zM748.7 878.2h6.25v6.25h-6.25zM705.3 884.4h6.25v6.25h-6.25zM711.5 884.4h6.25v6.25h-6.25zM717.7 884.4h6.25v6.25h-6.25zM730.1 884.4h6.25v6.25h-6.25zM748.7 884.4h6.25v6.25h-6.25zM705.3 890.6h6.25v6.25h-6.25zM711.5 890.6h6.25v6.25h-6.25zM717.7 890.6h6.25v6.25h-6.25zM730.1 890.6h6.25v6.25h-6.25zM748.7 890.6h6.25v6.25h-6.25zM705.3 896.8h6.25v6.25h-6.25zM711.5 896.8h6.25v6.25h-6.25zM717.7 896.8h6.25v6.25h-6.25zM730.1 896.8h6.25v6.25h-6.25zM748.7 896.8h6.25v6.25h-6.25zM705.3 903.0h6.25v6.25h-6.25zM711.5 903.0h6.25v6.25h-6.25zM717.7 903.0h6.25v6.25h-6.25zM730.1 903.0h6.25v6.25h-6.25zM748.7 903.0h6.25v6.25h-6.25zM705.3 909.2h6.25v6.25h-6.25zM711.5 909.2h6.25v6.25h-6.25zM717.7 909.2h6.25v6.25h-6.25zM730.1 909.2h6.25v6.25h-6.25zM748.7 909.2h6.25v6.25h-6.25zM705.3 915.4h6.25v6.25h-6.25zM711.5 915.4h6.25v6.25h-6.25zM717.7 915.4h6.25v6.25h-6.25zM730.1 915.4h6.25v6.25h-6.25zM748.7 915.4h6.25v6.25h-6.25zM761.0 872.0h6.25v6.25h-6.25zM767.2 872.0h6.25v6.25h-6.25zM798.2 872.0h6.25v6.25h-6.25zM804.4 872.0h6.25v6.25h-6.25zM761.0 878.2h6.25v6.25h-6.25zM767.2 878.2h6.25v6.25h-6.25zM798.2 878.2h6.25v6.25h-6.25zM804.4 878.2h6.25v6.25h-6.25zM761.0 884.4h6.25v6.25h-6.25zM767.2 884.4h6.25v6.25h-6.25zM798.2 884.4h6.25v6.25h-6.25zM804.4 884.4h6.25v6.25h-6.25zM761.0 890.6h6.25v6.25h-6.25zM767.2 890.6h6.25v6.25h-6.25zM798.2 890.6h6.25v6.25h-6.25zM804.4 890.6h6.25v6.25h-6.25zM761.0 896.8h6.25v6.25h-6.25zM767.2 896.8h6.25v6.25h-6.25zM798.2 896.8h6.25v6.25h-6.25zM804.4 896.8h6.25v6.25h-6.25zM761.0 903.0h6.25v6.25h-6.25zM767.2 903.0h6.25v6.25h-6.25zM798.2 903.0h6.25v6.25h-6.25zM804.4 903.0h6.25v6.25h-6.25zM761.0 909.2h6.25v6.25h-6.25zM767.2 909.2h6.25v6.25h-6.25zM798.2 909.2h6.25v6.25h-6.25zM804.4 909.2h6.25v6.25h-6.25zM761.0 915.4h6.25v6.25h-6.25zM767.2 915.4h6.25v6.25h-6.25zM798.2 915.4h6.25v6.25h-6.25zM804.4 915.4h6.25v6.25h-6.25z"/><path fill="#ababab" d="M736.3 816.3h6.25v6.25h-6.25zM736.3 822.5h6.25v6.25h-6.25zM736.3 828.7h6.25v6.25h-6.25zM736.3 834.9h6.25v6.25h-6.25zM736.3 841.1h6.25v6.25h-6.25zM736.3 847.3h6.25v6.25h-6.25zM736.3 853.5h6.25v6.25h-6.25zM736.3 859.7h6.25v6.25h-6.25zM767.2 816.3h6.25v6.25h-6.25zM779.6 816.3h6.25v6.25h-6.25zM804.4 816.3h6.25v6.25h-6.25zM767.2 822.5h6.25v6.25h-6.25zM779.6 822.5h6.25v6.25h-6.25zM804.4 822.5h6.25v6.25h-6.25zM767.2 828.7h6.25v6.25h-6.25zM779.6 828.7h6.25v6.25h-6.25zM804.4 828.7h6.25v6.25h-6.25zM767.2 834.9h6.25v6.25h-6.25zM779.6 834.9h6.25v6.25h-6.25zM804.4 834.9h6.25v6.25h-6.25zM767.2 841.1h6.25v6.25h-6.25zM779.6 841.1h6.25v6.25h-6.25zM804.4 841.1h6.25v6.25h-6.25zM767.2 847.3h6.25v6.25h-6.25zM779.6 847.3h6.25v6.25h-6.25zM804.4 847.3h6.25v6.25h-6.25zM767.2 853.5h6.25v6.25h-6.25zM779.6 853.5h6.25v6.25h-6.25zM804.4 853.5h6.25v6.25h-6.25zM767.2 859.7h6.25v6.25h-6.25zM779.6 859.7h6.25v6.25h-6.25zM804.4 859.7h6.25v6.25h-6.25zM742.5 872.0h6.25v6.25h-6.25zM742.5 878.2h6.25v6.25h-6.25zM742.5 884.4h6.25v6.25h-6.25zM742.5 890.6h6.25v6.25h-6.25zM742.5 896.8h6.25v6.25h-6.25zM742.5 903.0h6.25v6.25h-6.25zM742.5 909.2h6.25v6.25h-6.25zM742.5 915.4h6.25v6.25h-6.25zM785.8 872.0h6.25v6.25h-6.25zM792.0 872.0h6.25v6.25h-6.25zM785.8 878.2h6.25v6.25h-6.25zM792.0 878.2h6.25v6.25h-6.25zM785.8 884.4h6.25v6.25h-6.25zM792.0 884.4h6.25v6.25h-6.25zM785.8 890.6h6.25v6.25h-6.25zM792.0 890.6h6.25v6.25h-6.25zM785.8 896.8h6.25v6.25h-6.25zM792.0 896.8h6.25v6.25h-6.25zM785.8 903.0h6.25v6.25h-6.25zM792.0 903.0h6.25v6.25h-6.25zM785.8 909.2h6.25v6.25h-6.25zM792.0 909.2h6.25v6.25h-6.25zM785.8 915.4h6.25v6.25h-6.25zM792.0 915.4h6.25v6.25h-6.25z"/><path fill="#bababa" d="M730.1 816.3h6.25v6.25h-6.25zM730.1 822.5h6.25v6.25h-6.25zM730.1 828.7h6.25v6.25h-6.25zM730.1 834.9h6.25v6.25h-6.25zM730.1 841.1h6.25v6.25h-6.25zM730.1 847.3h6.25v6.25h-6.25zM730.1 853.5h6.25v6.25h-6.25zM730.1 859.7h6.25v6.25h-6.25zM773.4 816.3h6.25v6.25h-6.25zM773.4 822.5h6.25v6.25h-6.25zM773.4 828.7h6.25v6.25h-6.25zM773.4 834.9h6.25v6.25h-6.25zM773.4 841.1h6.25v6.25h-6.25zM773.4 847.3h6.25v6.25h-6.25zM773.4 853.5h6.25v6.25h-6.25zM773.4 859.7h6.25v6.25h-6.25zM736.3 872.0h6.25v6.25h-6.25zM736.3 878.2h6.25v6.25h-6.25zM736.3 884.4h6.25v6.25h-6.25zM736.3 890.6h6.25v6.25h-6.25zM736.3 896.8h6.25v6.25h-6.25zM736.3 903.0h6.25v6.25h-6.25zM736.3 909.2h6.25v6.25h-6.25zM736.3 915.4h6.25v6.25h-6.25z"/></g></g></g><rect x="754.90" y="816.30" width="6.10" height="105.30" fill="#000"/><rect x="705.30" y="865.90" width="105.30" height="6.10" fill="#000"/><rect x="705.70" y="816.70" width="104.50" height="104.50" fill="none" stroke="#555" stroke-width="0.8"/>
<g clip-path="url(#cp11)"><g filter="url(#pblur)"><rect x="832.90" y="813.30" width="111.30" height="111.30" fill="#919191"/><g shape-rendering="crispEdges"><path fill="#6f6f6f" d="M873.1 828.7h6.25v6.25h-6.25zM879.3 828.7h6.25v6.25h-6.25zM928.8 828.7h6.25v6.25h-6.25zM935.0 828.7h6.25v6.25h-6.25zM873.1 884.4h6.25v6.25h-6.25zM879.3 884.4h6.25v6.25h-6.25zM928.8 884.4h6.25v6.25h-6.25zM935.0 884.4h6.25v6.25h-6.25z"/><path fill="#7e7e7e" d="M873.1 847.3h6.25v6.25h-6.25zM879.3 847.3h6.25v6.25h-6.25zM928.8 847.3h6.25v6.25h-6.25zM935.0 847.3h6.25v6.25h-6.25zM873.1 903.0h6.25v6.25h-6.25zM879.3 903.0h6.25v6.25h-6.25zM928.8 903.0h6.25v6.25h-6.25zM935.0 903.0h6.25v6.25h-6.25z"/><path fill="#8d8d8d" d="M854.5 816.3h6.25v6.25h-6.25zM860.7 816.3h6.25v6.25h-6.25zM866.9 828.7h6.25v6.25h-6.25zM842.1 841.1h6.25v6.25h-6.25zM848.3 841.1h6.25v6.25h-6.25zM866.9 847.3h6.25v6.25h-6.25zM910.2 816.3h6.25v6.25h-6.25zM916.4 816.3h6.25v6.25h-6.25zM922.6 828.7h6.25v6.25h-6.25zM897.8 841.1h6.25v6.25h-6.25zM904.0 841.1h6.25v6.25h-6.25zM922.6 847.3h6.25v6.25h-6.25zM854.5 872.0h6.25v6.25h-6.25zM860.7 872.0h6.25v6.25h-6.25zM866.9 884.4h6.25v6.25h-6.25zM842.1 896.8h6.25v6.25h-6.25zM848.3 896.8h6.25v6.25h-6.25zM866.9 903.0h6.25v6.25h-6.25zM910.2 872.0h6.25v6.25h-6.25zM916.4 872.0h6.25v6.25h-6.25zM922.6 884.4h6.25v6.25h-6.25zM897.8 896.8h6.25v6.25h-6.25zM904.0 896.8h6.25v6.25h-6.25zM922.6 903.0h6.25v6.25h-6.25z"/><path fill="#9c9c9c" d="M835.9 816.3h6.25v6.25h-6.25zM842.1 816.3h6.25v6.25h-6.25zM848.3 816.3h6.25v6.25h-6.25zM866.9 816.3h6.25v6.25h-6.25zM835.9 822.5h6.25v6.25h-6.25zM842.1 822.5h6.25v6.25h-6.25zM860.7 828.7h6.25v6.25h-6.25zM842.1 834.9h6.25v6.25h-6.25zM848.3 834.9h6.25v6.25h-6.25zM854.5 834.9h6.25v6.25h-6.25zM835.9 841.1h6.25v6.25h-6.25zM854.5 841.1h6.25v6.25h-6.25zM860.7 847.3h6.25v6.25h-6.25zM835.9 859.7h6.25v6.25h-6.25zM842.1 859.7h6.25v6.25h-6.25zM848.3 859.7h6.25v6.25h-6.25zM854.5 859.7h6.25v6.25h-6.25zM860.7 859.7h6.25v6.25h-6.25zM891.6 816.3h6.25v6.25h-6.25zM897.8 816.3h6.25v6.25h-6.25zM904.0 816.3h6.25v6.25h-6.25zM922.6 816.3h6.25v6.25h-6.25zM891.6 822.5h6.25v6.25h-6.25zM897.8 822.5h6.25v6.25h-6.25zM916.4 828.7h6.25v6.25h-6.25zM897.8 834.9h6.25v6.25h-6.25zM904.0 834.9h6.25v6.25h-6.25zM910.2 834.9h6.25v6.25h-6.25zM891.6 841.1h6.25v6.25h-6.25zM910.2 841.1h6.25v6.25h-6.25zM916.4 847.3h6.25v6.25h-6.25zM891.6 859.7h6.25v6.25h-6.25zM897.8 859.7h6.25v6.25h-6.25zM904.0 859.7h6.25v6.25h-6.25zM910.2 859.7h6.25v6.25h-6.25zM916.4 859.7h6.25v6.25h-6.25zM835.9 872.0h6.25v6.25h-6.25zM842.1 872.0h6.25v6.25h-6.25zM848.3 872.0h6.25v6.25h-6.25zM866.9 872.0h6.25v6.25h-6.25zM835.9 878.2h6.25v6.25h-6.25zM842.1 878.2h6.25v6.25h-6.25zM860.7 884.4h6.25v6.25h-6.25zM842.1 890.6h6.25v6.25h-6.25zM848.3 890.6h6.25v6.25h-6.25zM854.5 890.6h6.25v6.25h-6.25zM835.9 896.8h6.25v6.25h-6.25zM854.5 896.8h6.25v6.25h-6.25zM860.7 903.0h6.25v6.25h-6.25zM835.9 915.4h6.25v6.25h-6.25zM842.1 915.4h6.25v6.25h-6.25zM848.3 915.4h6.25v6.25h-6.25zM854.5 915.4h6.25v6.25h-6.25zM860.7 915.4h6.25v6.25h-6.25zM891.6 872.0h6.25v6.25h-6.25zM897.8 872.0h6.25v6.25h-6.25zM904.0 872.0h6.25v6.25h-6.25zM922.6 872.0h6.25v6.25h-6.25zM891.6 878.2h6.25v6.25h-6.25zM897.8 878.2h6.25v6.25h-6.25zM916.4 884.4h6.25v6.25h-6.25zM897.8 890.6h6.25v6.25h-6.25zM904.0 890.6h6.25v6.25h-6.25zM910.2 890.6h6.25v6.25h-6.25zM891.6 896.8h6.25v6.25h-6.25zM910.2 896.8h6.25v6.25h-6.25zM916.4 903.0h6.25v6.25h-6.25zM891.6 915.4h6.25v6.25h-6.25zM897.8 915.4h6.25v6.25h-6.25zM904.0 915.4h6.25v6.25h-6.25zM910.2 915.4h6.25v6.25h-6.25zM916.4 915.4h6.25v6.25h-6.25z"/><path fill="#ababab" d="M873.1 816.3h6.25v6.25h-6.25zM848.3 822.5h6.25v6.25h-6.25zM854.5 822.5h6.25v6.25h-6.25zM860.7 822.5h6.25v6.25h-6.25zM866.9 822.5h6.25v6.25h-6.25zM873.1 822.5h6.25v6.25h-6.25zM879.3 822.5h6.25v6.25h-6.25zM835.9 828.7h6.25v6.25h-6.25zM842.1 828.7h6.25v6.25h-6.25zM848.3 828.7h6.25v6.25h-6.25zM854.5 828.7h6.25v6.25h-6.25zM835.9 834.9h6.25v6.25h-6.25zM860.7 834.9h6.25v6.25h-6.25zM866.9 834.9h6.25v6.25h-6.25zM873.1 834.9h6.25v6.25h-6.25zM879.3 834.9h6.25v6.25h-6.25zM860.7 841.1h6.25v6.25h-6.25zM866.9 841.1h6.25v6.25h-6.25zM835.9 847.3h6.25v6.25h-6.25zM842.1 847.3h6.25v6.25h-6.25zM848.3 847.3h6.25v6.25h-6.25zM854.5 847.3h6.25v6.25h-6.25zM835.9 853.5h6.25v6.25h-6.25zM842.1 853.5h6.25v6.25h-6.25zM848.3 853.5h6.25v6.25h-6.25zM854.5 853.5h6.25v6.25h-6.25zM860.7 853.5h6.25v6.25h-6.25zM866.9 853.5h6.25v6.25h-6.25zM873.1 853.5h6.25v6.25h-6.25zM879.3 853.5h6.25v6.25h-6.25zM866.9 859.7h6.25v6.25h-6.25zM873.1 859.7h6.25v6.25h-6.25zM879.3 859.7h6.25v6.25h-6.25zM928.8 816.3h6.25v6.25h-6.25zM904.0 822.5h6.25v6.25h-6.25zM910.2 822.5h6.25v6.25h-6.25zM916.4 822.5h6.25v6.25h-6.25zM922.6 822.5h6.25v6.25h-6.25zM928.8 822.5h6.25v6.25h-6.25zM935.0 822.5h6.25v6.25h-6.25zM891.6 828.7h6.25v6.25h-6.25zM897.8 828.7h6.25v6.25h-6.25zM904.0 828.7h6.25v6.25h-6.25zM910.2 828.7h6.25v6.25h-6.25zM891.6 834.9h6.25v6.25h-6.25zM916.4 834.9h6.25v6.25h-6.25zM922.6 834.9h6.25v6.25h-6.25zM928.8 834.9h6.25v6.25h-6.25zM935.0 834.9h6.25v6.25h-6.25zM916.4 841.1h6.25v6.25h-6.25zM922.6 841.1h6.25v6.25h-6.25zM891.6 847.3h6.25v6.25h-6.25zM897.8 847.3h6.25v6.25h-6.25zM904.0 847.3h6.25v6.25h-6.25zM910.2 847.3h6.25v6.25h-6.25zM891.6 853.5h6.25v6.25h-6.25zM897.8 853.5h6.25v6.25h-6.25zM904.0 853.5h6.25v6.25h-6.25zM910.2 853.5h6.25v6.25h-6.25zM916.4 853.5h6.25v6.25h-6.25zM922.6 853.5h6.25v6.25h-6.25zM928.8 853.5h6.25v6.25h-6.25zM935.0 853.5h6.25v6.25h-6.25zM922.6 859.7h6.25v6.25h-6.25zM928.8 859.7h6.25v6.25h-6.25zM935.0 859.7h6.25v6.25h-6.25zM873.1 872.0h6.25v6.25h-6.25zM848.3 878.2h6.25v6.25h-6.25zM854.5 878.2h6.25v6.25h-6.25zM860.7 878.2h6.25v6.25h-6.25zM866.9 878.2h6.25v6.25h-6.25zM873.1 878.2h6.25v6.25h-6.25zM879.3 878.2h6.25v6.25h-6.25zM835.9 884.4h6.25v6.25h-6.25zM842.1 884.4h6.25v6.25h-6.25zM848.3 884.4h6.25v6.25h-6.25zM854.5 884.4h6.25v6.25h-6.25zM835.9 890.6h6.25v6.25h-6.25zM860.7 890.6h6.25v6.25h-6.25zM866.9 890.6h6.25v6.25h-6.25zM873.1 890.6h6.25v6.25h-6.25zM879.3 890.6h6.25v6.25h-6.25zM860.7 896.8h6.25v6.25h-6.25zM866.9 896.8h6.25v6.25h-6.25zM835.9 903.0h6.25v6.25h-6.25zM842.1 903.0h6.25v6.25h-6.25zM848.3 903.0h6.25v6.25h-6.25zM854.5 903.0h6.25v6.25h-6.25zM835.9 909.2h6.25v6.25h-6.25zM842.1 909.2h6.25v6.25h-6.25zM848.3 909.2h6.25v6.25h-6.25zM854.5 909.2h6.25v6.25h-6.25zM860.7 909.2h6.25v6.25h-6.25zM866.9 909.2h6.25v6.25h-6.25zM873.1 909.2h6.25v6.25h-6.25zM879.3 909.2h6.25v6.25h-6.25zM866.9 915.4h6.25v6.25h-6.25zM873.1 915.4h6.25v6.25h-6.25zM879.3 915.4h6.25v6.25h-6.25zM928.8 872.0h6.25v6.25h-6.25zM904.0 878.2h6.25v6.25h-6.25zM910.2 878.2h6.25v6.25h-6.25zM916.4 878.2h6.25v6.25h-6.25zM922.6 878.2h6.25v6.25h-6.25zM928.8 878.2h6.25v6.25h-6.25zM935.0 878.2h6.25v6.25h-6.25zM891.6 884.4h6.25v6.25h-6.25zM897.8 884.4h6.25v6.25h-6.25zM904.0 884.4h6.25v6.25h-6.25zM910.2 884.4h6.25v6.25h-6.25zM891.6 890.6h6.25v6.25h-6.25zM916.4 890.6h6.25v6.25h-6.25zM922.6 890.6h6.25v6.25h-6.25zM928.8 890.6h6.25v6.25h-6.25zM935.0 890.6h6.25v6.25h-6.25zM916.4 896.8h6.25v6.25h-6.25zM922.6 896.8h6.25v6.25h-6.25zM891.6 903.0h6.25v6.25h-6.25zM897.8 903.0h6.25v6.25h-6.25zM904.0 903.0h6.25v6.25h-6.25zM910.2 903.0h6.25v6.25h-6.25zM891.6 909.2h6.25v6.25h-6.25zM897.8 909.2h6.25v6.25h-6.25zM904.0 909.2h6.25v6.25h-6.25zM910.2 909.2h6.25v6.25h-6.25zM916.4 909.2h6.25v6.25h-6.25zM922.6 909.2h6.25v6.25h-6.25zM928.8 909.2h6.25v6.25h-6.25zM935.0 909.2h6.25v6.25h-6.25zM922.6 915.4h6.25v6.25h-6.25zM928.8 915.4h6.25v6.25h-6.25zM935.0 915.4h6.25v6.25h-6.25z"/><path fill="#bababa" d="M879.3 816.3h6.25v6.25h-6.25zM935.0 816.3h6.25v6.25h-6.25zM879.3 872.0h6.25v6.25h-6.25zM935.0 872.0h6.25v6.25h-6.25z"/><path fill="#c9c9c9" d="M873.1 841.1h6.25v6.25h-6.25zM879.3 841.1h6.25v6.25h-6.25zM928.8 841.1h6.25v6.25h-6.25zM935.0 841.1h6.25v6.25h-6.25zM873.1 896.8h6.25v6.25h-6.25zM879.3 896.8h6.25v6.25h-6.25zM928.8 896.8h6.25v6.25h-6.25zM935.0 896.8h6.25v6.25h-6.25z"/></g></g></g><rect x="885.50" y="816.30" width="6.10" height="105.30" fill="#000"/><rect x="835.90" y="865.90" width="105.30" height="6.10" fill="#000"/><rect x="836.30" y="816.70" width="104.50" height="104.50" fill="none" stroke="#555" stroke-width="0.8"/>
<text transform="translate(111.6,989.8) scale(1.03,1)" font-family="Liberation Serif, serif" font-size="35.5">Start</text>
<text transform="translate(548.0,989.8) scale(1.027,1)" font-family="Liberation Serif, serif" font-size="35.5">Trained</text></svg>
</body></html>
